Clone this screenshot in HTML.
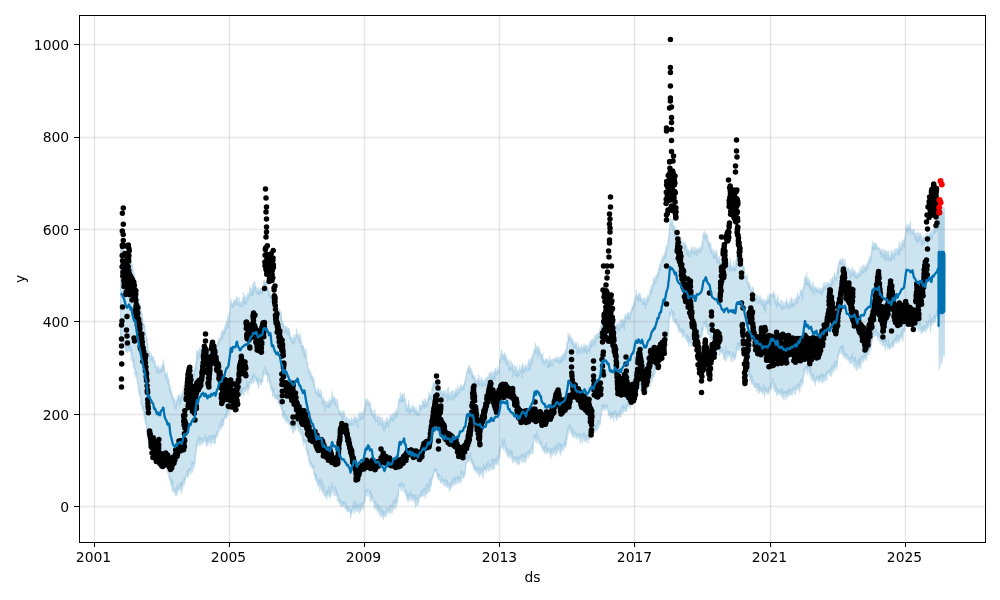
<!DOCTYPE html>
<html><head><meta charset="utf-8"><title>forecast</title>
<style>html,body{margin:0;padding:0;background:#fff}svg{display:block}text{font-family:"DejaVu Sans","Liberation Sans",sans-serif;font-size:13.9px;fill:#000}</style>
</head><body>
<svg width="1000" height="600" viewBox="0 0 1000 600">
<rect width="1000" height="600" fill="#fff"/>
<path d="M120.5,245.7 120.7,245.8 120.9,254.0 121.1,247.4 121.3,248.8 121.5,255.4 121.7,245.6 121.9,246.0 122.1,249.6 122.3,255.0 122.5,248.4 122.7,255.9 122.9,251.0 123.1,255.0 123.3,248.1 123.5,257.1 123.7,257.6 123.9,256.2 124.1,263.1 124.3,255.8 124.5,259.6 124.7,260.7 124.9,258.8 125.1,259.0 125.3,254.7 125.5,260.3 125.7,260.5 125.9,257.8 126.1,262.4 126.3,260.5 126.5,265.2 126.7,262.3 126.9,263.5 127.1,260.1 127.3,260.9 127.5,259.1 127.7,258.4 127.9,258.9 128.1,265.1 128.3,259.1 128.5,261.1 128.7,258.8 128.9,258.9 129.1,262.2 129.3,263.0 129.5,260.2 129.7,260.7 129.9,261.3 130.1,261.3 130.3,260.0 130.5,264.4 130.7,269.0 130.9,263.2 131.1,267.0 131.3,258.4 131.5,267.4 131.7,268.3 131.9,269.9 132.1,268.5 132.3,270.9 132.5,270.6 132.7,264.7 132.9,272.1 133.1,270.0 133.3,274.9 133.5,277.4 133.7,272.3 133.9,277.9 134.1,279.0 134.3,275.8 134.5,280.9 134.7,274.6 134.9,287.2 135.1,279.6 135.3,283.1 135.5,287.0 135.7,281.6 135.9,283.9 136.1,286.5 136.3,288.4 136.5,283.5 136.7,286.1 136.9,290.4 137.1,293.0 137.3,290.4 137.5,287.8 137.7,295.8 137.9,295.2 138.1,299.0 138.3,299.5 138.5,299.1 138.7,298.0 138.9,298.3 139.1,305.7 139.3,302.6 139.5,306.7 139.7,307.8 139.9,303.8 140.1,310.4 140.3,305.2 140.5,306.7 140.7,313.6 140.9,310.6 141.1,314.7 141.3,310.8 141.5,317.9 141.7,317.9 141.9,316.9 142.1,317.6 142.3,313.5 142.5,318.9 142.7,318.3 142.9,325.5 143.1,321.8 143.3,327.1 143.5,322.7 143.7,323.5 143.9,324.7 144.1,325.5 144.3,324.1 144.5,325.5 144.7,327.6 144.9,326.3 145.1,330.7 145.3,330.5 145.5,333.6 145.7,333.0 145.9,333.4 146.1,334.6 146.3,336.3 146.5,339.8 146.7,340.0 146.9,338.4 147.1,339.0 147.3,339.3 147.5,344.3 147.7,343.6 147.9,347.1 148.1,351.1 148.3,356.0 148.5,351.6 148.7,356.6 148.9,351.4 149.1,353.5 149.3,351.9 149.5,352.3 149.7,357.6 149.9,351.5 150.1,357.5 150.3,360.4 150.5,361.2 150.7,357.4 150.9,356.7 151.1,359.3 151.3,353.4 151.5,355.5 151.7,358.3 151.9,357.6 152.1,356.6 152.3,360.1 152.5,357.5 152.7,357.0 152.9,362.0 153.1,361.5 153.3,362.6 153.5,356.2 153.7,358.7 153.9,359.9 154.1,363.1 154.3,363.6 154.5,365.3 154.7,364.7 154.9,367.8 155.1,360.5 155.3,367.2 155.5,363.6 155.7,366.7 155.9,367.3 156.1,367.1 156.3,371.2 156.5,372.5 156.7,367.0 156.9,366.9 157.1,366.6 157.3,369.9 157.5,369.6 157.7,369.8 157.9,372.0 158.1,365.5 158.3,370.0 158.5,365.4 158.7,370.1 158.9,368.8 159.1,373.2 159.3,368.1 159.5,372.0 159.7,371.3 159.9,373.0 160.1,372.2 160.3,371.0 160.5,368.2 160.7,370.0 160.9,368.6 161.1,366.5 161.3,366.7 161.5,371.3 161.7,372.0 161.9,368.1 162.1,370.2 162.3,364.6 162.5,365.6 162.7,365.2 162.9,362.7 163.1,359.7 163.3,363.5 163.5,363.7 163.7,369.2 163.9,364.3 164.1,371.4 164.3,366.1 164.5,369.5 164.7,371.4 164.9,374.1 165.1,376.7 165.3,372.8 165.5,373.7 165.7,377.9 165.9,377.0 166.1,375.2 166.3,374.4 166.5,375.5 166.7,375.1 166.9,380.0 167.1,379.4 167.3,372.1 167.5,383.1 167.7,382.8 167.9,383.8 168.1,384.2 168.3,377.9 168.5,378.9 168.7,385.0 168.9,378.6 169.1,385.9 169.3,382.0 169.5,391.8 169.7,386.4 169.9,387.2 170.1,391.2 170.3,385.4 170.5,388.6 170.7,391.3 170.9,394.4 171.1,393.0 171.3,391.3 171.5,396.7 171.7,395.6 171.9,391.6 172.1,396.7 172.3,394.1 172.5,399.2 172.7,395.7 172.9,397.3 173.1,400.5 173.3,400.9 173.5,398.5 173.7,398.9 173.9,405.1 174.1,400.8 174.3,400.6 174.5,398.5 174.7,401.0 174.9,407.6 175.1,407.6 175.3,406.6 175.5,405.7 175.7,402.0 175.9,408.7 176.1,400.8 176.3,402.9 176.5,402.0 176.7,400.4 176.9,405.0 177.1,403.7 177.3,397.0 177.5,397.7 177.7,401.5 177.9,401.4 178.1,395.6 178.3,394.7 178.5,397.8 178.7,399.9 178.9,398.8 179.1,398.2 179.3,396.4 179.5,394.3 179.7,404.6 179.9,396.0 180.1,396.7 180.3,397.2 180.5,400.2 180.7,396.6 180.9,402.7 181.1,396.2 181.3,394.7 181.5,394.9 181.7,398.2 181.9,396.4 182.1,394.0 182.3,394.4 182.5,391.4 182.7,396.3 182.9,392.2 183.1,395.8 183.3,395.7 183.5,391.9 183.7,386.3 183.9,390.5 184.1,391.7 184.3,391.4 184.5,389.0 184.7,396.0 184.9,394.0 185.1,393.2 185.3,392.5 185.5,393.6 185.7,387.4 185.9,392.8 186.1,386.5 186.3,387.8 186.5,387.8 186.7,386.8 186.9,388.0 187.1,387.9 187.3,388.1 187.5,385.4 187.7,388.6 187.9,384.2 188.1,384.9 188.3,384.2 188.5,381.0 188.7,387.9 188.9,385.5 189.1,385.1 189.3,386.0 189.5,385.7 189.7,377.3 189.9,385.2 190.1,380.7 190.3,380.3 190.5,381.3 190.7,384.7 190.9,385.3 191.1,384.4 191.3,379.8 191.5,378.6 191.7,378.4 191.9,382.6 192.1,376.6 192.3,377.3 192.5,374.1 192.7,370.5 192.9,376.0 193.1,375.7 193.3,379.3 193.5,375.4 193.7,372.9 193.9,376.9 194.1,372.8 194.3,371.0 194.5,369.2 194.7,375.5 194.9,369.1 195.1,368.1 195.3,364.7 195.5,371.1 195.7,362.9 195.9,370.1 196.1,360.2 196.3,358.2 196.5,363.3 196.7,354.8 196.9,350.5 197.1,352.4 197.3,350.5 197.5,355.6 197.7,356.7 197.9,351.2 198.1,356.4 198.3,358.9 198.5,355.8 198.7,351.5 198.9,356.2 199.1,350.6 199.3,352.1 199.5,348.0 199.7,353.7 199.9,353.9 200.1,348.8 200.3,350.1 200.5,351.7 200.7,352.6 200.9,355.9 201.1,352.0 201.3,346.6 201.5,354.1 201.7,348.0 201.9,352.2 202.1,353.2 202.3,349.2 202.5,348.7 202.7,351.8 202.9,353.9 203.1,354.2 203.3,351.5 203.5,349.1 203.7,350.5 203.9,359.1 204.1,353.2 204.3,349.3 204.5,351.9 204.7,355.9 204.9,354.6 205.1,351.8 205.3,352.5 205.5,352.9 205.7,347.2 205.9,346.1 206.1,353.4 206.3,350.5 206.5,357.9 206.7,352.9 206.9,348.9 207.1,352.0 207.3,352.0 207.5,361.8 207.7,353.9 207.9,353.8 208.1,358.7 208.3,354.1 208.5,354.5 208.7,348.6 208.9,354.5 209.1,353.1 209.3,351.7 209.5,348.7 209.7,354.2 209.9,352.0 210.1,350.3 210.3,351.8 210.5,351.3 210.7,350.9 210.9,357.1 211.1,352.1 211.3,354.5 211.5,352.4 211.7,355.4 211.9,352.2 212.1,347.6 212.3,351.2 212.5,348.7 212.7,349.8 212.9,348.8 213.1,352.8 213.3,349.1 213.5,350.4 213.7,350.4 213.9,350.6 214.1,346.5 214.3,354.5 214.5,354.1 214.7,347.7 214.9,346.4 215.1,348.4 215.3,342.9 215.5,354.4 215.7,350.0 215.9,348.8 216.1,347.4 216.3,347.7 216.5,347.6 216.7,346.4 216.9,347.4 217.1,346.4 217.3,346.4 217.5,342.9 217.7,345.7 217.9,342.8 218.1,343.8 218.3,339.8 218.5,341.5 218.7,338.0 218.9,342.1 219.1,340.5 219.3,339.5 219.5,339.1 219.7,339.7 219.9,341.2 220.1,337.3 220.3,340.1 220.5,338.6 220.7,338.8 220.9,335.3 221.1,333.6 221.3,339.0 221.5,332.3 221.7,338.1 221.9,336.9 222.1,332.5 222.3,330.7 222.5,338.7 222.7,336.3 222.9,329.6 223.1,332.0 223.3,334.1 223.5,332.4 223.7,331.5 223.9,332.4 224.1,330.2 224.3,334.0 224.5,327.1 224.7,329.2 224.9,332.1 225.1,330.1 225.3,325.1 225.5,327.7 225.7,326.3 225.9,322.6 226.1,328.8 226.3,326.2 226.5,328.8 226.7,323.3 226.9,326.8 227.1,319.5 227.3,324.6 227.5,324.0 227.7,316.4 227.9,325.0 228.1,324.7 228.3,325.2 228.5,327.8 228.7,320.8 228.9,317.4 229.1,316.4 229.3,312.8 229.5,315.5 229.7,317.0 229.9,314.3 230.1,311.1 230.3,307.9 230.5,304.4 230.7,303.8 230.9,298.8 231.1,303.2 231.3,301.8 231.5,306.7 231.7,303.2 231.9,307.1 232.1,307.6 232.3,304.1 232.5,302.9 232.7,305.3 232.9,303.5 233.1,303.7 233.3,307.1 233.5,306.1 233.7,300.5 233.9,305.3 234.1,300.6 234.3,301.3 234.5,302.6 234.7,303.6 234.9,300.1 235.1,305.0 235.3,303.6 235.5,299.1 235.7,300.0 235.9,300.2 236.1,301.7 236.3,302.9 236.5,303.1 236.7,296.3 236.9,301.6 237.1,304.5 237.3,302.0 237.5,298.6 237.7,297.5 237.9,303.2 238.1,301.9 238.3,302.8 238.5,303.9 238.7,304.6 238.9,304.0 239.1,304.6 239.3,297.7 239.5,302.5 239.7,306.6 239.9,303.7 240.1,303.0 240.3,305.2 240.5,302.7 240.7,303.3 240.9,306.0 241.1,301.6 241.3,305.2 241.5,306.2 241.7,302.7 241.9,305.6 242.1,306.1 242.3,304.7 242.5,297.4 242.7,303.2 242.9,299.2 243.1,306.0 243.3,292.4 243.5,298.4 243.7,300.4 243.9,299.0 244.1,297.2 244.3,299.5 244.5,302.9 244.7,297.8 244.9,295.5 245.1,303.4 245.3,296.6 245.5,302.5 245.7,295.0 245.9,300.8 246.1,304.5 246.3,298.1 246.5,302.5 246.7,302.6 246.9,301.0 247.1,300.0 247.3,295.4 247.5,299.0 247.7,295.7 247.9,292.9 248.1,297.3 248.3,293.4 248.5,295.7 248.7,299.1 248.9,298.4 249.1,295.2 249.3,292.3 249.5,295.0 249.7,286.0 249.9,292.2 250.1,295.5 250.3,294.1 250.5,295.0 250.7,288.3 250.9,289.2 251.1,293.0 251.3,292.5 251.5,291.3 251.7,292.6 251.9,295.9 252.1,288.7 252.3,288.1 252.5,295.7 252.7,284.1 252.9,286.3 253.1,289.5 253.3,294.1 253.5,286.7 253.7,289.7 253.9,283.0 254.1,281.6 254.3,288.1 254.5,287.3 254.7,285.4 254.9,282.4 255.1,287.3 255.3,286.5 255.5,290.2 255.7,287.2 255.9,286.2 256.1,288.4 256.3,293.2 256.5,288.8 256.7,291.2 256.9,290.9 257.1,289.9 257.3,294.0 257.5,293.8 257.7,293.1 257.9,288.0 258.1,293.5 258.3,290.2 258.5,287.8 258.7,294.3 258.9,290.5 259.1,290.9 259.3,291.6 259.5,294.9 259.7,290.5 259.9,290.3 260.1,292.6 260.3,288.2 260.5,290.8 260.7,288.3 260.9,289.0 261.1,290.1 261.3,293.2 261.5,289.0 261.7,293.3 261.9,288.5 262.1,290.1 262.3,289.5 262.5,292.7 262.7,288.3 262.9,291.8 263.1,291.0 263.3,287.5 263.5,289.2 263.7,283.0 263.9,280.0 264.1,281.8 264.3,283.0 264.5,280.1 264.7,286.1 264.9,281.6 265.1,283.2 265.3,283.7 265.5,282.3 265.7,285.8 265.9,282.9 266.1,286.2 266.3,284.3 266.5,281.3 266.7,285.4 266.9,288.2 267.1,286.1 267.3,288.9 267.5,289.0 267.7,291.1 267.9,289.3 268.1,288.3 268.3,288.1 268.5,289.5 268.7,290.0 268.9,293.6 269.1,295.3 269.3,291.9 269.5,290.8 269.7,297.5 269.9,291.3 270.1,296.1 270.3,295.5 270.5,294.7 270.7,296.5 270.9,301.2 271.1,296.1 271.3,301.1 271.5,297.8 271.7,299.5 271.9,299.6 272.1,301.3 272.3,298.6 272.5,304.2 272.7,300.5 272.9,304.8 273.1,300.4 273.3,298.9 273.5,305.6 273.7,301.5 273.9,304.8 274.1,306.4 274.3,303.9 274.5,307.4 274.7,307.1 274.9,304.8 275.1,305.1 275.3,305.7 275.5,307.5 275.7,312.0 275.9,311.5 276.1,311.6 276.3,310.8 276.5,307.0 276.7,308.5 276.9,312.5 277.1,305.0 277.3,308.4 277.5,309.9 277.7,314.7 277.9,311.6 278.1,312.1 278.3,314.4 278.5,313.4 278.7,313.5 278.9,310.8 279.1,313.0 279.3,309.8 279.5,308.9 279.7,312.7 279.9,309.4 280.1,315.2 280.3,319.7 280.5,312.0 280.7,317.3 280.9,315.9 281.1,317.2 281.3,311.9 281.5,320.2 281.7,318.7 281.9,321.2 282.1,325.0 282.3,323.6 282.5,323.0 282.7,321.9 282.9,324.0 283.1,323.6 283.3,327.6 283.5,325.7 283.7,324.4 283.9,327.3 284.1,325.8 284.3,333.1 284.5,332.3 284.7,331.3 284.9,328.3 285.1,326.4 285.3,327.3 285.5,331.5 285.7,327.3 285.9,325.8 286.1,330.8 286.3,328.0 286.5,332.9 286.7,327.2 286.9,327.0 287.1,327.6 287.3,331.6 287.5,333.1 287.7,334.8 287.9,330.9 288.1,329.2 288.3,328.2 288.5,332.5 288.7,334.9 288.9,331.9 289.1,332.3 289.3,328.6 289.5,329.9 289.7,334.5 289.9,339.1 290.1,339.3 290.3,334.3 290.5,339.4 290.7,336.6 290.9,337.0 291.1,337.4 291.3,341.2 291.5,338.5 291.7,337.6 291.9,341.7 292.1,341.6 292.3,344.3 292.5,342.2 292.7,337.9 292.9,338.7 293.1,342.7 293.3,339.9 293.5,340.0 293.7,338.8 293.9,334.8 294.1,343.7 294.3,337.8 294.5,339.4 294.7,339.9 294.9,338.1 295.1,341.1 295.3,338.3 295.5,335.6 295.7,335.2 295.9,338.3 296.1,333.8 296.3,335.7 296.5,334.0 296.7,329.0 296.9,334.4 297.1,336.3 297.3,333.5 297.5,333.6 297.7,337.2 297.9,338.7 298.1,338.7 298.3,338.2 298.5,336.8 298.7,339.2 298.9,335.0 299.1,337.0 299.3,342.9 299.5,339.6 299.7,332.6 299.9,342.2 300.1,340.2 300.3,341.3 300.5,342.0 300.7,336.1 300.9,344.0 301.1,339.4 301.3,347.5 301.5,342.2 301.7,343.8 301.9,347.3 302.1,350.0 302.3,345.2 302.5,347.0 302.7,346.1 302.9,345.6 303.1,351.0 303.3,345.7 303.5,347.2 303.7,350.3 303.9,349.9 304.1,356.7 304.3,348.9 304.5,350.2 304.7,353.2 304.9,352.5 305.1,353.3 305.3,356.5 305.5,357.9 305.7,356.7 305.9,348.8 306.1,353.7 306.3,352.9 306.5,361.8 306.7,361.9 306.9,361.4 307.1,363.7 307.3,363.3 307.5,363.5 307.7,361.9 307.9,366.3 308.1,367.5 308.3,367.9 308.5,371.3 308.7,369.0 308.9,371.5 309.1,373.5 309.3,372.9 309.5,369.7 309.7,370.6 309.9,371.7 310.1,375.9 310.3,377.4 310.5,372.7 310.7,373.0 310.9,374.8 311.1,378.9 311.3,377.2 311.5,373.5 311.7,376.7 311.9,378.6 312.1,378.5 312.3,380.1 312.5,376.1 312.7,376.6 312.9,379.0 313.1,381.5 313.3,381.1 313.5,383.3 313.7,384.6 313.9,382.1 314.1,378.5 314.3,385.7 314.5,382.2 314.7,387.2 314.9,389.4 315.1,388.1 315.3,390.2 315.5,392.3 315.7,388.4 315.9,393.1 316.1,392.1 316.3,390.8 316.5,391.7 316.7,391.9 316.9,394.8 317.1,390.2 317.3,392.9 317.5,389.5 317.7,395.7 317.9,396.0 318.1,388.2 318.3,396.0 318.5,387.8 318.7,396.6 318.9,393.5 319.1,393.1 319.3,393.7 319.5,393.8 319.7,391.2 319.9,394.7 320.1,397.2 320.3,396.0 320.5,394.9 320.7,394.8 320.9,390.0 321.1,398.1 321.3,393.9 321.5,391.8 321.7,398.5 321.9,394.4 322.1,398.9 322.3,403.9 322.5,398.3 322.7,404.4 322.9,405.2 323.1,402.2 323.3,401.3 323.5,399.8 323.7,397.4 323.9,399.8 324.1,402.1 324.3,402.2 324.5,401.8 324.7,400.5 324.9,401.7 325.1,411.3 325.3,400.9 325.5,405.5 325.7,405.2 325.9,405.2 326.1,406.2 326.3,402.3 326.5,401.8 326.7,406.0 326.9,405.5 327.1,407.3 327.3,403.9 327.5,404.2 327.7,407.4 327.9,401.6 328.1,404.3 328.3,403.2 328.5,401.5 328.7,402.0 328.9,408.0 329.1,403.1 329.3,398.8 329.5,403.2 329.7,404.1 329.9,405.7 330.1,400.3 330.3,404.3 330.5,402.2 330.7,403.4 330.9,404.9 331.1,402.3 331.3,400.0 331.5,398.1 331.7,396.6 331.9,403.2 332.1,400.6 332.3,391.5 332.5,399.4 332.7,399.2 332.9,398.9 333.1,396.1 333.3,398.9 333.5,397.9 333.7,401.0 333.9,400.1 334.1,396.6 334.3,398.0 334.5,401.6 334.7,404.5 334.9,398.5 335.1,402.8 335.3,404.6 335.5,398.7 335.7,405.3 335.9,403.4 336.1,399.5 336.3,404.4 336.5,405.5 336.7,406.9 336.9,406.6 337.1,404.9 337.3,399.3 337.5,406.1 337.7,402.9 337.9,408.3 338.1,407.7 338.3,407.4 338.5,408.2 338.7,410.0 338.9,412.0 339.1,413.1 339.3,411.6 339.5,411.7 339.7,413.8 339.9,410.2 340.1,414.9 340.3,415.1 340.5,413.7 340.7,411.9 340.9,413.9 341.1,411.3 341.3,415.6 341.5,412.1 341.7,416.4 341.9,419.1 342.1,412.3 342.3,414.7 342.5,415.4 342.7,412.2 342.9,419.1 343.1,419.1 343.3,412.7 343.5,417.2 343.7,410.3 343.9,413.0 344.1,411.1 344.3,414.2 344.5,416.0 344.7,415.4 344.9,417.7 345.1,418.8 345.3,422.0 345.5,418.8 345.7,418.2 345.9,422.2 346.1,417.9 346.3,422.8 346.5,416.0 346.7,424.3 346.9,420.7 347.1,418.2 347.3,428.2 347.5,420.0 347.7,419.8 347.9,423.0 348.1,418.3 348.3,423.5 348.5,424.8 348.7,423.0 348.9,422.2 349.1,419.6 349.3,419.3 349.5,420.3 349.7,423.3 349.9,425.9 350.1,425.3 350.3,420.6 350.5,421.3 350.7,423.0 350.9,422.8 351.1,425.0 351.3,417.4 351.5,418.0 351.7,425.5 351.9,422.0 352.1,422.8 352.3,420.4 352.5,424.6 352.7,422.2 352.9,419.0 353.1,420.0 353.3,421.0 353.5,421.4 353.7,420.5 353.9,420.6 354.1,415.6 354.3,418.8 354.5,418.5 354.7,423.1 354.9,424.2 355.1,418.7 355.3,417.3 355.5,417.9 355.7,421.5 355.9,420.3 356.1,421.8 356.3,419.0 356.5,416.8 356.7,420.2 356.9,422.2 357.1,419.4 357.3,419.3 357.5,420.5 357.7,427.9 357.9,423.0 358.1,419.3 358.3,419.7 358.5,420.6 358.7,413.9 358.9,416.3 359.1,420.2 359.3,417.9 359.5,419.6 359.7,418.9 359.9,412.4 360.1,414.3 360.3,417.2 360.5,416.0 360.7,417.4 360.9,419.2 361.1,416.6 361.3,415.6 361.5,412.0 361.7,413.8 361.9,419.3 362.1,419.1 362.3,418.1 362.5,413.9 362.7,414.5 362.9,418.2 363.1,412.4 363.3,416.9 363.5,415.2 363.7,415.3 363.9,410.2 364.1,414.6 364.3,413.0 364.5,407.6 364.7,409.9 364.9,408.3 365.1,407.1 365.3,400.0 365.5,411.0 365.7,398.6 365.9,399.3 366.1,403.6 366.3,404.2 366.5,405.6 366.7,400.8 366.9,403.9 367.1,401.3 367.3,399.1 367.5,402.8 367.7,403.1 367.9,403.8 368.1,399.9 368.3,404.0 368.5,404.1 368.7,403.3 368.9,405.6 369.1,402.3 369.3,403.9 369.5,403.7 369.7,404.0 369.9,406.0 370.1,402.3 370.3,411.2 370.5,403.9 370.7,408.6 370.9,408.1 371.1,409.8 371.3,411.8 371.5,413.3 371.7,409.3 371.9,414.7 372.1,411.1 372.3,414.5 372.5,415.6 372.7,414.6 372.9,410.1 373.1,415.1 373.3,414.8 373.5,416.9 373.7,415.2 373.9,419.0 374.1,414.6 374.3,415.2 374.5,413.5 374.7,409.8 374.9,414.4 375.1,412.7 375.3,417.9 375.5,421.8 375.7,416.5 375.9,414.9 376.1,416.1 376.3,420.7 376.5,421.5 376.7,419.8 376.9,419.7 377.1,416.5 377.3,418.0 377.5,416.0 377.7,417.6 377.9,421.3 378.1,418.7 378.3,417.1 378.5,422.8 378.7,424.9 378.9,421.0 379.1,422.8 379.3,421.4 379.5,416.2 379.7,418.3 379.9,424.0 380.1,422.9 380.3,422.2 380.5,421.6 380.7,424.8 380.9,417.4 381.1,422.4 381.3,425.4 381.5,425.0 381.7,418.7 381.9,426.5 382.1,427.0 382.3,417.5 382.5,421.6 382.7,422.6 382.9,420.6 383.1,427.5 383.3,420.3 383.5,430.2 383.7,424.2 383.9,421.6 384.1,429.3 384.3,425.6 384.5,424.7 384.7,430.6 384.9,427.1 385.1,423.9 385.3,420.9 385.5,422.7 385.7,424.1 385.9,420.9 386.1,427.2 386.3,424.5 386.5,417.8 386.7,421.6 386.9,422.1 387.1,417.6 387.3,422.6 387.5,423.7 387.7,422.5 387.9,421.0 388.1,420.6 388.3,420.1 388.5,427.5 388.7,421.5 388.9,422.2 389.1,419.2 389.3,422.0 389.5,418.2 389.7,422.2 389.9,421.7 390.1,415.1 390.3,416.8 390.5,419.1 390.7,419.8 390.9,415.8 391.1,419.5 391.3,415.4 391.5,417.1 391.7,417.7 391.9,419.2 392.1,420.5 392.3,414.7 392.5,418.2 392.7,421.2 392.9,417.9 393.1,413.4 393.3,419.1 393.5,412.8 393.7,414.1 393.9,417.0 394.1,420.5 394.3,414.6 394.5,416.7 394.7,417.7 394.9,412.1 395.1,412.2 395.3,416.4 395.5,417.1 395.7,409.0 395.9,412.3 396.1,410.9 396.3,412.7 396.5,414.5 396.7,415.4 396.9,412.8 397.1,417.1 397.3,412.0 397.5,408.7 397.7,413.7 397.9,408.3 398.1,407.7 398.3,402.4 398.5,404.6 398.7,403.6 398.9,398.6 399.1,401.3 399.3,398.6 399.5,398.7 399.7,400.8 399.9,398.4 400.1,399.7 400.3,392.4 400.5,401.9 400.7,398.5 400.9,395.3 401.1,395.3 401.3,398.0 401.5,398.3 401.7,398.2 401.9,401.6 402.1,400.1 402.3,396.1 402.5,394.0 402.7,394.6 402.9,393.4 403.1,397.8 403.3,401.9 403.5,399.3 403.7,398.0 403.9,395.6 404.1,393.4 404.3,397.3 404.5,397.9 404.7,397.8 404.9,401.8 405.1,398.1 405.3,403.1 405.5,403.2 405.7,399.3 405.9,408.4 406.1,410.5 406.3,404.7 406.5,407.9 406.7,412.3 406.9,407.0 407.1,407.8 407.3,410.0 407.5,410.4 407.7,409.8 407.9,404.6 408.1,409.2 408.3,409.3 408.5,411.0 408.7,400.2 408.9,412.5 409.1,403.5 409.3,409.4 409.5,405.5 409.7,409.1 409.9,414.4 410.1,407.0 410.3,411.5 410.5,408.4 410.7,410.7 410.9,409.1 411.1,409.6 411.3,408.6 411.5,411.2 411.7,408.2 411.9,411.5 412.1,411.2 412.3,405.1 412.5,405.3 412.7,409.8 412.9,411.5 413.1,412.2 413.3,410.7 413.5,406.1 413.7,406.8 413.9,408.7 414.1,409.6 414.3,407.1 414.5,407.8 414.7,410.2 414.9,408.9 415.1,413.8 415.3,409.3 415.5,410.7 415.7,410.6 415.9,411.5 416.1,407.4 416.3,411.6 416.5,415.3 416.7,411.4 416.9,411.0 417.1,411.5 417.3,414.3 417.5,412.7 417.7,411.2 417.9,411.0 418.1,415.1 418.3,412.5 418.5,412.1 418.7,413.9 418.9,414.5 419.1,414.9 419.3,404.7 419.5,405.4 419.7,404.9 419.9,409.4 420.1,406.2 420.3,407.9 420.5,407.9 420.7,410.0 420.9,406.0 421.1,406.0 421.3,405.7 421.5,410.0 421.7,405.7 421.9,405.5 422.1,406.6 422.3,404.2 422.5,405.7 422.7,399.6 422.9,405.4 423.1,406.4 423.3,403.7 423.5,401.9 423.7,401.6 423.9,401.0 424.1,403.9 424.3,408.7 424.5,404.0 424.7,401.8 424.9,398.8 425.1,406.4 425.3,399.6 425.5,403.3 425.7,401.8 425.9,405.5 426.1,406.8 426.3,406.7 426.5,406.8 426.7,402.0 426.9,401.7 427.1,403.3 427.3,405.7 427.5,398.6 427.7,401.4 427.9,401.1 428.1,403.9 428.3,398.1 428.5,397.1 428.7,400.6 428.9,394.9 429.1,392.3 429.3,393.1 429.5,395.2 429.7,399.1 429.9,395.9 430.1,399.0 430.3,394.9 430.5,397.7 430.7,394.5 430.9,395.7 431.1,395.5 431.3,399.3 431.5,394.8 431.7,396.9 431.9,388.7 432.1,387.4 432.3,389.3 432.5,389.0 432.7,386.4 432.9,388.6 433.1,389.1 433.3,383.3 433.5,384.2 433.7,382.7 433.9,382.5 434.1,383.4 434.3,385.7 434.5,383.8 434.7,384.3 434.9,386.4 435.1,382.3 435.3,385.1 435.5,384.6 435.7,381.3 435.9,382.3 436.1,383.9 436.3,385.8 436.5,381.1 436.7,383.2 436.9,388.3 437.1,388.0 437.3,381.0 437.5,387.4 437.7,384.8 437.9,384.1 438.1,386.0 438.3,385.9 438.5,387.2 438.7,388.2 438.9,386.1 439.1,386.7 439.3,389.7 439.5,387.0 439.7,390.3 439.9,389.5 440.1,386.9 440.3,392.3 440.5,389.6 440.7,391.7 440.9,392.2 441.1,389.6 441.3,394.8 441.5,393.5 441.7,391.7 441.9,396.7 442.1,392.9 442.3,395.2 442.5,392.4 442.7,393.6 442.9,394.3 443.1,395.2 443.3,392.5 443.5,390.5 443.7,394.0 443.9,392.1 444.1,396.1 444.3,393.3 444.5,391.4 444.7,396.4 444.9,393.2 445.1,393.9 445.3,390.6 445.5,396.7 445.7,398.0 445.9,395.6 446.1,395.5 446.3,394.7 446.5,395.2 446.7,394.5 446.9,393.1 447.1,396.2 447.3,389.1 447.5,391.4 447.7,401.4 447.9,395.3 448.1,388.5 448.3,386.8 448.5,393.9 448.7,396.3 448.9,398.4 449.1,396.6 449.3,394.4 449.5,393.5 449.7,398.4 449.9,398.6 450.1,399.6 450.3,395.7 450.5,391.8 450.7,396.9 450.9,400.4 451.1,396.2 451.3,391.7 451.5,395.8 451.7,395.1 451.9,392.3 452.1,390.0 452.3,391.8 452.5,396.6 452.7,397.0 452.9,399.9 453.1,394.5 453.3,393.5 453.5,399.2 453.7,390.9 453.9,396.5 454.1,391.7 454.3,394.9 454.5,391.3 454.7,395.0 454.9,394.8 455.1,398.1 455.3,391.3 455.5,392.0 455.7,392.8 455.9,388.4 456.1,396.3 456.3,390.1 456.5,389.8 456.7,395.0 456.9,390.0 457.1,390.7 457.3,396.2 457.5,391.8 457.7,393.2 457.9,385.5 458.1,392.7 458.3,390.8 458.5,388.5 458.7,392.1 458.9,391.1 459.1,392.0 459.3,388.1 459.5,393.5 459.7,393.5 459.9,387.5 460.1,388.3 460.3,389.1 460.5,388.6 460.7,384.3 460.9,389.3 461.1,386.1 461.3,386.2 461.5,389.4 461.7,387.0 461.9,389.0 462.1,390.3 462.3,385.3 462.5,389.9 462.7,385.9 462.9,386.2 463.1,387.6 463.3,387.4 463.5,384.8 463.7,385.4 463.9,389.4 464.1,385.8 464.3,382.4 464.5,382.6 464.7,381.4 464.9,384.3 465.1,383.6 465.3,378.8 465.5,380.1 465.7,378.8 465.9,376.0 466.1,379.5 466.3,376.5 466.5,372.7 466.7,371.9 466.9,372.3 467.1,372.5 467.3,370.8 467.5,370.9 467.7,369.5 467.9,367.6 468.1,370.6 468.3,368.4 468.5,368.2 468.7,369.4 468.9,365.4 469.1,373.9 469.3,370.1 469.5,367.1 469.7,365.4 469.9,370.5 470.1,368.7 470.3,370.9 470.5,370.6 470.7,368.5 470.9,370.6 471.1,368.6 471.3,374.4 471.5,372.2 471.7,370.6 471.9,377.7 472.1,371.6 472.3,376.2 472.5,372.0 472.7,374.4 472.9,375.9 473.1,378.7 473.3,374.9 473.5,376.6 473.7,376.8 473.9,377.6 474.1,377.0 474.3,384.8 474.5,378.3 474.7,375.7 474.9,379.3 475.1,385.4 475.3,381.7 475.5,378.1 475.7,383.9 475.9,380.3 476.1,382.4 476.3,385.9 476.5,382.4 476.7,380.5 476.9,381.3 477.1,382.3 477.3,381.5 477.5,382.9 477.7,378.7 477.9,382.4 478.1,382.4 478.3,380.8 478.5,385.7 478.7,374.6 478.9,379.5 479.1,377.2 479.3,381.3 479.5,383.9 479.7,385.4 479.9,380.6 480.1,381.6 480.3,383.3 480.5,383.3 480.7,384.0 480.9,381.0 481.1,377.7 481.3,384.4 481.5,386.7 481.7,377.7 481.9,384.6 482.1,385.3 482.3,382.2 482.5,380.7 482.7,381.6 482.9,383.5 483.1,379.5 483.3,386.2 483.5,383.0 483.7,385.7 483.9,382.3 484.1,383.7 484.3,381.2 484.5,383.1 484.7,379.8 484.9,382.9 485.1,384.5 485.3,382.4 485.5,385.3 485.7,379.1 485.9,385.8 486.1,377.5 486.3,377.6 486.5,381.0 486.7,380.2 486.9,379.4 487.1,378.8 487.3,379.4 487.5,379.5 487.7,378.3 487.9,375.5 488.1,380.1 488.3,376.4 488.5,380.2 488.7,381.2 488.9,375.5 489.1,376.3 489.3,373.0 489.5,374.2 489.7,372.3 489.9,376.1 490.1,375.3 490.3,380.9 490.5,381.0 490.7,380.2 490.9,372.6 491.1,375.4 491.3,371.4 491.5,376.9 491.7,376.9 491.9,376.7 492.1,382.2 492.3,373.4 492.5,374.2 492.7,376.3 492.9,373.5 493.1,376.8 493.3,371.3 493.5,379.5 493.7,378.6 493.9,375.5 494.1,377.8 494.3,375.2 494.5,370.8 494.7,374.8 494.9,368.8 495.1,379.9 495.3,368.1 495.5,372.9 495.7,370.8 495.9,370.8 496.1,373.7 496.3,370.7 496.5,372.1 496.7,375.4 496.9,371.8 497.1,372.6 497.3,370.4 497.5,367.2 497.7,372.6 497.9,370.4 498.1,370.0 498.3,369.9 498.5,371.2 498.7,372.8 498.9,370.7 499.1,369.8 499.3,369.1 499.5,359.9 499.7,362.2 499.9,363.3 500.1,363.3 500.3,358.8 500.5,360.1 500.7,359.3 500.9,355.1 501.1,357.5 501.3,349.6 501.5,349.9 501.7,354.6 501.9,355.2 502.1,357.0 502.3,354.4 502.5,354.5 502.7,354.3 502.9,355.6 503.1,359.7 503.3,356.4 503.5,359.3 503.7,354.4 503.9,359.2 504.1,354.8 504.3,353.1 504.5,356.3 504.7,358.5 504.9,359.8 505.1,353.8 505.3,354.2 505.5,355.6 505.7,359.2 505.9,363.0 506.1,361.9 506.3,356.9 506.5,356.8 506.7,359.0 506.9,364.9 507.1,359.5 507.3,359.6 507.5,363.3 507.7,361.5 507.9,359.9 508.1,362.0 508.3,361.8 508.5,366.7 508.7,366.5 508.9,369.4 509.1,366.3 509.3,367.3 509.5,365.1 509.7,371.2 509.9,360.1 510.1,371.3 510.3,364.7 510.5,366.4 510.7,365.8 510.9,370.1 511.1,361.0 511.3,368.2 511.5,367.9 511.7,366.7 511.9,369.1 512.1,369.6 512.3,364.9 512.5,363.5 512.7,366.0 512.9,368.6 513.1,377.4 513.3,368.4 513.5,369.7 513.7,366.5 513.9,372.4 514.1,369.1 514.3,365.1 514.5,367.0 514.7,372.5 514.9,368.5 515.1,375.1 515.3,373.2 515.5,371.4 515.7,367.4 515.9,375.5 516.1,371.5 516.3,375.7 516.5,367.6 516.7,367.2 516.9,365.5 517.1,377.4 517.3,369.8 517.5,370.1 517.7,375.7 517.9,373.1 518.1,376.0 518.3,369.9 518.5,371.3 518.7,374.4 518.9,369.2 519.1,372.2 519.3,375.1 519.5,373.6 519.7,365.5 519.9,368.1 520.1,371.5 520.3,370.5 520.5,369.9 520.7,372.0 520.9,369.5 521.1,369.2 521.3,372.1 521.5,369.0 521.7,368.0 521.9,364.9 522.1,377.9 522.3,365.8 522.5,370.5 522.7,363.6 522.9,363.4 523.1,367.4 523.3,368.7 523.5,368.2 523.7,371.9 523.9,368.4 524.1,366.8 524.3,368.5 524.5,371.4 524.7,372.8 524.9,368.8 525.1,365.3 525.3,367.3 525.5,364.7 525.7,368.7 525.9,368.6 526.1,369.1 526.3,366.8 526.5,370.1 526.7,367.6 526.9,368.5 527.1,369.7 527.3,370.9 527.5,363.9 527.7,367.7 527.9,370.5 528.1,366.8 528.3,365.1 528.5,360.0 528.7,370.6 528.9,366.6 529.1,361.5 529.3,364.6 529.5,360.5 529.7,363.1 529.9,358.8 530.1,361.5 530.3,364.4 530.5,369.5 530.7,364.1 530.9,364.1 531.1,358.9 531.3,362.6 531.5,362.0 531.7,357.7 531.9,363.6 532.1,355.1 532.3,356.8 532.5,361.3 532.7,356.0 532.9,355.2 533.1,356.7 533.3,355.8 533.5,352.7 533.7,352.0 533.9,354.5 534.1,348.9 534.3,354.4 534.5,349.3 534.7,351.1 534.9,350.6 535.1,348.0 535.3,343.3 535.5,344.2 535.7,350.3 535.9,350.7 536.1,353.6 536.3,348.0 536.5,346.3 536.7,351.4 536.9,348.4 537.1,352.5 537.3,352.3 537.5,348.7 537.7,346.3 537.9,357.2 538.1,353.0 538.3,348.8 538.5,349.7 538.7,347.0 538.9,351.1 539.1,352.4 539.3,347.9 539.5,354.2 539.7,349.9 539.9,350.5 540.1,354.8 540.3,352.6 540.5,354.9 540.7,356.2 540.9,358.3 541.1,354.3 541.3,356.7 541.5,354.4 541.7,354.1 541.9,360.8 542.1,358.3 542.3,360.3 542.5,361.8 542.7,356.8 542.9,352.8 543.1,359.6 543.3,359.0 543.5,363.7 543.7,359.0 543.9,362.2 544.1,363.3 544.3,363.2 544.5,364.2 544.7,360.6 544.9,361.1 545.1,359.7 545.3,360.0 545.5,360.9 545.7,361.8 545.9,362.1 546.1,362.1 546.3,358.5 546.5,360.8 546.7,361.0 546.9,358.6 547.1,360.6 547.3,365.2 547.5,368.2 547.7,364.8 547.9,360.5 548.1,360.8 548.3,363.2 548.5,367.0 548.7,361.1 548.9,361.2 549.1,361.1 549.3,356.3 549.5,366.9 549.7,363.3 549.9,362.6 550.1,359.2 550.3,360.5 550.5,359.9 550.7,361.5 550.9,362.4 551.1,366.2 551.3,365.0 551.5,365.5 551.7,362.0 551.9,359.3 552.1,363.0 552.3,358.7 552.5,364.4 552.7,365.9 552.9,364.2 553.1,365.6 553.3,365.0 553.5,362.7 553.7,359.1 553.9,359.2 554.1,359.7 554.3,360.7 554.5,358.4 554.7,360.2 554.9,358.9 555.1,361.5 555.3,361.6 555.5,360.9 555.7,358.2 555.9,360.1 556.1,359.5 556.3,356.4 556.5,361.4 556.7,359.2 556.9,357.7 557.1,360.4 557.3,361.0 557.5,358.2 557.7,357.7 557.9,360.3 558.1,359.9 558.3,363.5 558.5,356.9 558.7,360.9 558.9,359.5 559.1,361.4 559.3,357.6 559.5,359.7 559.7,358.7 559.9,363.2 560.1,357.3 560.3,356.8 560.5,360.1 560.7,358.1 560.9,360.6 561.1,362.3 561.3,357.1 561.5,358.9 561.7,362.6 561.9,355.6 562.1,356.2 562.3,360.4 562.5,357.2 562.7,354.1 562.9,355.1 563.1,355.7 563.3,360.7 563.5,354.8 563.7,357.9 563.9,357.8 564.1,352.8 564.3,355.1 564.5,353.2 564.7,352.0 564.9,355.5 565.1,352.7 565.3,349.5 565.5,358.8 565.7,352.8 565.9,352.3 566.1,351.2 566.3,352.7 566.5,350.3 566.7,341.8 566.9,350.9 567.1,347.6 567.3,346.8 567.5,342.0 567.7,343.7 567.9,341.8 568.1,332.9 568.3,342.0 568.5,338.3 568.7,339.1 568.9,336.2 569.1,335.9 569.3,337.1 569.5,339.7 569.7,334.9 569.9,334.3 570.1,339.6 570.3,337.1 570.5,336.4 570.7,339.2 570.9,342.3 571.1,343.2 571.3,338.2 571.5,338.5 571.7,339.9 571.9,344.3 572.1,340.9 572.3,340.5 572.5,340.4 572.7,343.9 572.9,338.9 573.1,341.0 573.3,346.2 573.5,348.5 573.7,343.3 573.9,343.1 574.1,346.9 574.3,344.6 574.5,344.6 574.7,344.4 574.9,343.6 575.1,344.7 575.3,342.6 575.5,348.0 575.7,345.2 575.9,343.4 576.1,345.4 576.3,342.5 576.5,343.4 576.7,345.8 576.9,352.8 577.1,347.3 577.3,347.5 577.5,354.6 577.7,347.7 577.9,349.0 578.1,349.5 578.3,353.6 578.5,343.3 578.7,346.7 578.9,349.2 579.1,350.0 579.3,350.4 579.5,349.0 579.7,347.0 579.9,349.2 580.1,346.9 580.3,352.5 580.5,350.9 580.7,348.6 580.9,352.4 581.1,347.8 581.3,353.2 581.5,344.5 581.7,349.0 581.9,347.1 582.1,348.7 582.3,350.3 582.5,347.2 582.7,349.1 582.9,347.2 583.1,348.5 583.3,350.7 583.5,345.1 583.7,352.7 583.9,348.1 584.1,347.2 584.3,345.9 584.5,346.9 584.7,346.9 584.9,351.1 585.1,343.8 585.3,349.9 585.5,345.6 585.7,350.4 585.9,346.6 586.1,346.1 586.3,349.3 586.5,353.6 586.7,348.7 586.9,345.3 587.1,347.9 587.3,349.3 587.5,352.0 587.7,346.8 587.9,345.3 588.1,350.5 588.3,350.8 588.5,346.7 588.7,348.9 588.9,346.5 589.1,348.8 589.3,348.2 589.5,343.9 589.7,341.3 589.9,352.3 590.1,346.1 590.3,345.9 590.5,343.4 590.7,345.4 590.9,344.4 591.1,340.8 591.3,341.9 591.5,347.3 591.7,342.9 591.9,339.0 592.1,347.1 592.3,343.3 592.5,342.5 592.7,342.3 592.9,340.1 593.1,341.0 593.3,338.4 593.5,341.3 593.7,341.4 593.9,340.5 594.1,339.4 594.3,342.5 594.5,344.9 594.7,335.0 594.9,338.3 595.1,345.8 595.3,336.8 595.5,335.2 595.7,340.8 595.9,340.3 596.1,341.0 596.3,336.7 596.5,334.8 596.7,338.1 596.9,338.4 597.1,333.6 597.3,337.5 597.5,334.1 597.7,338.1 597.9,337.7 598.1,334.8 598.3,336.6 598.5,333.1 598.7,337.8 598.9,333.0 599.1,333.6 599.3,333.0 599.5,334.3 599.7,328.7 599.9,336.4 600.1,338.6 600.3,336.8 600.5,329.9 600.7,327.1 600.9,326.9 601.1,324.3 601.3,327.7 601.5,321.8 601.7,324.5 601.9,317.6 602.1,315.6 602.3,317.4 602.5,320.5 602.7,318.9 602.9,313.3 603.1,317.3 603.3,314.7 603.5,322.8 603.7,317.7 603.9,316.8 604.1,311.7 604.3,316.1 604.5,317.0 604.7,318.4 604.9,315.8 605.1,319.8 605.3,319.3 605.5,318.6 605.7,317.2 605.9,318.5 606.1,315.8 606.3,318.9 606.5,318.1 606.7,319.1 606.9,319.0 607.1,322.2 607.3,315.6 607.5,321.3 607.7,319.7 607.9,321.0 608.1,320.2 608.3,320.3 608.5,320.9 608.7,322.7 608.9,327.9 609.1,322.2 609.3,326.7 609.5,320.2 609.7,322.7 609.9,326.6 610.1,330.8 610.3,331.8 610.5,325.3 610.7,324.3 610.9,329.8 611.1,327.4 611.3,331.0 611.5,327.4 611.7,325.4 611.9,322.7 612.1,330.3 612.3,329.4 612.5,324.5 612.7,328.6 612.9,329.5 613.1,324.5 613.3,325.3 613.5,325.1 613.7,323.8 613.9,329.2 614.1,331.2 614.3,329.6 614.5,327.6 614.7,326.4 614.9,331.3 615.1,328.0 615.3,327.2 615.5,325.4 615.7,328.0 615.9,328.6 616.1,327.1 616.3,324.6 616.5,325.6 616.7,328.6 616.9,327.0 617.1,323.6 617.3,325.4 617.5,325.8 617.7,323.6 617.9,331.4 618.1,325.9 618.3,327.7 618.5,325.6 618.7,328.9 618.9,322.5 619.1,325.2 619.3,327.6 619.5,330.5 619.7,328.4 619.9,328.8 620.1,325.9 620.3,319.6 620.5,326.0 620.7,323.7 620.9,325.4 621.1,319.5 621.3,321.0 621.5,327.7 621.7,321.0 621.9,325.4 622.1,324.8 622.3,321.0 622.5,320.1 622.7,326.6 622.9,319.3 623.1,322.0 623.3,324.6 623.5,322.2 623.7,319.0 623.9,322.1 624.1,318.5 624.3,329.4 624.5,316.0 624.7,319.2 624.9,321.7 625.1,322.5 625.3,322.8 625.5,313.8 625.7,314.8 625.9,319.8 626.1,319.1 626.3,315.9 626.5,316.4 626.7,316.5 626.9,319.7 627.1,317.4 627.3,318.1 627.5,312.6 627.7,314.6 627.9,318.5 628.1,316.0 628.3,314.6 628.5,315.2 628.7,313.1 628.9,312.6 629.1,318.6 629.3,316.0 629.5,317.4 629.7,319.8 629.9,314.2 630.1,316.7 630.3,312.4 630.5,315.6 630.7,312.6 630.9,310.5 631.1,311.9 631.3,309.6 631.5,314.0 631.7,313.4 631.9,310.7 632.1,306.3 632.3,308.1 632.5,306.5 632.7,306.1 632.9,306.1 633.1,309.8 633.3,307.7 633.5,306.8 633.7,303.3 633.9,306.0 634.1,306.0 634.3,300.8 634.5,301.8 634.7,307.0 634.9,303.5 635.1,298.0 635.3,296.9 635.5,300.3 635.7,298.8 635.9,299.0 636.1,289.7 636.3,298.7 636.5,293.3 636.7,296.9 636.9,295.2 637.1,297.5 637.3,294.9 637.5,299.5 637.7,294.5 637.9,298.1 638.1,297.3 638.3,296.7 638.5,301.4 638.7,296.6 638.9,296.5 639.1,292.6 639.3,298.4 639.5,299.1 639.7,294.4 639.9,293.9 640.1,294.2 640.3,296.5 640.5,300.4 640.7,298.7 640.9,296.2 641.1,301.2 641.3,298.4 641.5,300.3 641.7,299.2 641.9,299.8 642.1,301.5 642.3,301.0 642.5,304.2 642.7,303.9 642.9,302.6 643.1,298.2 643.3,298.7 643.5,303.8 643.7,301.7 643.9,300.5 644.1,297.6 644.3,303.7 644.5,301.4 644.7,302.0 644.9,301.3 645.1,304.9 645.3,299.9 645.5,308.3 645.7,299.5 645.9,304.3 646.1,302.7 646.3,297.6 646.5,303.3 646.7,304.3 646.9,296.9 647.1,302.3 647.3,302.5 647.5,298.9 647.7,297.5 647.9,296.0 648.1,294.9 648.3,302.2 648.5,299.5 648.7,297.7 648.9,299.1 649.1,297.2 649.3,295.4 649.5,297.1 649.7,290.2 649.9,294.3 650.1,290.0 650.3,293.9 650.5,291.7 650.7,293.2 650.9,288.9 651.1,285.3 651.3,293.5 651.5,288.5 651.7,291.9 651.9,285.9 652.1,290.7 652.3,285.8 652.5,290.0 652.7,283.7 652.9,284.2 653.1,284.3 653.3,278.0 653.5,282.9 653.7,285.6 653.9,281.0 654.1,284.7 654.3,283.2 654.5,279.0 654.7,282.7 654.9,279.2 655.1,276.3 655.3,281.2 655.5,282.8 655.7,278.1 655.9,281.7 656.1,282.4 656.3,276.1 656.5,275.2 656.7,277.2 656.9,277.2 657.1,275.0 657.3,276.3 657.5,273.0 657.7,272.4 657.9,277.4 658.1,269.2 658.3,274.4 658.5,272.5 658.7,274.3 658.9,274.1 659.1,269.9 659.3,270.3 659.5,268.0 659.7,266.1 659.9,263.8 660.1,270.3 660.3,267.5 660.5,267.0 660.7,263.3 660.9,265.6 661.1,265.9 661.3,259.8 661.5,262.8 661.7,263.2 661.9,262.2 662.1,261.5 662.3,261.4 662.5,256.4 662.7,259.0 662.9,255.7 663.1,258.5 663.3,257.2 663.5,259.6 663.7,256.4 663.9,258.3 664.1,259.1 664.3,255.9 664.5,254.6 664.7,253.5 664.9,255.7 665.1,253.1 665.3,250.7 665.5,258.5 665.7,253.9 665.9,250.2 666.1,245.3 666.3,255.0 666.5,249.3 666.7,250.6 666.9,248.7 667.1,246.9 667.3,248.2 667.5,244.2 667.7,245.2 667.9,246.2 668.1,240.0 668.3,242.0 668.5,236.5 668.7,240.4 668.9,233.5 669.1,237.2 669.3,234.1 669.5,228.0 669.7,226.8 669.9,219.5 670.1,224.7 670.3,216.5 670.5,224.8 670.7,225.2 670.9,224.2 671.1,221.5 671.3,223.8 671.5,219.9 671.7,225.4 671.9,224.6 672.1,226.9 672.3,219.5 672.5,221.3 672.7,226.9 672.9,219.7 673.1,230.2 673.3,227.5 673.5,226.3 673.7,229.1 673.9,229.3 674.1,227.2 674.3,225.7 674.5,236.1 674.7,226.9 674.9,226.2 675.1,230.5 675.3,235.2 675.5,237.4 675.7,231.9 675.9,240.2 676.1,235.2 676.3,233.3 676.5,234.5 676.7,237.7 676.9,231.4 677.1,235.7 677.3,238.1 677.5,237.9 677.7,241.3 677.9,237.5 678.1,240.7 678.3,236.6 678.5,232.6 678.7,241.3 678.9,247.7 679.1,244.5 679.3,241.9 679.5,243.9 679.7,237.0 679.9,242.5 680.1,241.3 680.3,243.2 680.5,241.3 680.7,238.1 680.9,237.0 681.1,239.3 681.3,244.7 681.5,245.6 681.7,243.0 681.9,243.2 682.1,246.8 682.3,247.3 682.5,243.9 682.7,243.3 682.9,245.8 683.1,241.2 683.3,246.5 683.5,247.7 683.7,247.0 683.9,246.2 684.1,245.4 684.3,243.5 684.5,243.0 684.7,250.1 684.9,244.9 685.1,242.6 685.3,246.0 685.5,245.0 685.7,244.5 685.9,246.2 686.1,245.8 686.3,249.7 686.5,253.1 686.7,246.8 686.9,247.3 687.1,249.9 687.3,254.6 687.5,249.8 687.7,250.4 687.9,255.2 688.1,251.6 688.3,250.3 688.5,249.5 688.7,253.0 688.9,256.3 689.1,255.7 689.3,257.1 689.5,251.2 689.7,256.6 689.9,256.9 690.1,250.7 690.3,257.0 690.5,251.1 690.7,249.5 690.9,251.7 691.1,251.4 691.3,251.8 691.5,249.2 691.7,246.6 691.9,252.9 692.1,247.9 692.3,253.4 692.5,250.2 692.7,248.2 692.9,249.9 693.1,252.9 693.3,250.1 693.5,250.5 693.7,254.5 693.9,251.8 694.1,251.3 694.3,253.3 694.5,246.8 694.7,253.2 694.9,253.7 695.1,251.2 695.3,252.8 695.5,250.1 695.7,253.7 695.9,247.5 696.1,252.9 696.3,248.7 696.5,250.9 696.7,256.0 696.9,249.4 697.1,248.7 697.3,252.1 697.5,249.4 697.7,251.1 697.9,250.4 698.1,252.8 698.3,251.9 698.5,248.2 698.7,250.3 698.9,249.6 699.1,251.1 699.3,247.9 699.5,248.7 699.7,250.8 699.9,248.9 700.1,250.4 700.3,246.8 700.5,252.9 700.7,247.8 700.9,250.1 701.1,248.6 701.3,246.2 701.5,249.2 701.7,248.5 701.9,248.5 702.1,242.2 702.3,243.1 702.5,249.0 702.7,244.7 702.9,239.0 703.1,233.1 703.3,237.6 703.5,233.7 703.7,233.7 703.9,236.3 704.1,236.3 704.3,232.3 704.5,231.2 704.7,237.6 704.9,240.1 705.1,237.5 705.3,237.4 705.5,235.4 705.7,233.6 705.9,234.5 706.1,233.4 706.3,234.5 706.5,235.1 706.7,237.9 706.9,236.2 707.1,235.4 707.3,235.9 707.5,239.4 707.7,236.5 707.9,244.1 708.1,240.9 708.3,242.0 708.5,243.2 708.7,246.7 708.9,241.5 709.1,242.1 709.3,242.6 709.5,246.1 709.7,244.5 709.9,246.0 710.1,244.6 710.3,249.8 710.5,242.7 710.7,246.8 710.9,244.2 711.1,251.2 711.3,248.9 711.5,253.4 711.7,248.7 711.9,250.9 712.1,252.8 712.3,253.8 712.5,253.2 712.7,253.9 712.9,249.7 713.1,250.2 713.3,258.4 713.5,254.7 713.7,251.9 713.9,255.3 714.1,254.9 714.3,256.3 714.5,254.8 714.7,250.2 714.9,256.7 715.1,258.7 715.3,252.8 715.5,254.3 715.7,256.5 715.9,254.4 716.1,251.3 716.3,252.7 716.5,255.4 716.7,252.4 716.9,250.4 717.1,263.1 717.3,256.9 717.5,258.8 717.7,255.9 717.9,259.5 718.1,262.5 718.3,260.2 718.5,262.2 718.7,258.5 718.9,258.6 719.1,264.2 719.3,257.4 719.5,259.1 719.7,256.4 719.9,265.1 720.1,261.6 720.3,263.1 720.5,263.6 720.7,267.0 720.9,264.0 721.1,262.5 721.3,262.5 721.5,260.6 721.7,261.5 721.9,261.5 722.1,263.2 722.3,263.2 722.5,262.0 722.7,267.3 722.9,263.3 723.1,268.4 723.3,268.1 723.5,263.7 723.7,265.0 723.9,267.2 724.1,268.5 724.3,263.7 724.5,269.7 724.7,262.5 724.9,264.4 725.1,268.6 725.3,261.1 725.5,268.4 725.7,264.3 725.9,266.2 726.1,258.0 726.3,258.2 726.5,264.7 726.7,266.6 726.9,262.2 727.1,258.9 727.3,269.6 727.5,264.0 727.7,266.9 727.9,266.0 728.1,261.7 728.3,264.7 728.5,263.8 728.7,265.6 728.9,264.1 729.1,265.8 729.3,270.1 729.5,260.9 729.7,271.8 729.9,263.8 730.1,258.5 730.3,265.8 730.5,268.0 730.7,261.8 730.9,268.6 731.1,270.4 731.3,265.9 731.5,270.1 731.7,268.8 731.9,265.5 732.1,269.2 732.3,267.6 732.5,267.8 732.7,271.5 732.9,268.0 733.1,268.0 733.3,267.5 733.5,266.0 733.7,261.4 733.9,268.1 734.1,267.3 734.3,268.2 734.5,270.1 734.7,266.5 734.9,269.1 735.1,266.9 735.3,268.1 735.5,270.5 735.7,260.6 735.9,268.9 736.1,263.1 736.3,265.9 736.5,262.4 736.7,257.2 736.9,258.0 737.1,260.3 737.3,252.7 737.5,260.8 737.7,256.5 737.9,254.5 738.1,257.7 738.3,260.4 738.5,260.5 738.7,254.8 738.9,258.7 739.1,259.1 739.3,257.1 739.5,258.2 739.7,262.0 739.9,259.5 740.1,261.4 740.3,261.9 740.5,257.5 740.7,260.6 740.9,261.4 741.1,256.8 741.3,259.5 741.5,262.5 741.7,258.7 741.9,261.0 742.1,261.2 742.3,263.4 742.5,264.0 742.7,261.3 742.9,257.1 743.1,270.6 743.3,265.5 743.5,267.0 743.7,269.1 743.9,266.1 744.1,267.8 744.3,268.8 744.5,268.8 744.7,277.8 744.9,276.0 745.1,275.6 745.3,277.0 745.5,276.2 745.7,275.7 745.9,277.4 746.1,279.9 746.3,276.0 746.5,279.7 746.7,279.6 746.9,283.3 747.1,281.9 747.3,274.8 747.5,283.1 747.7,283.7 747.9,283.1 748.1,282.5 748.3,285.0 748.5,283.2 748.7,288.1 748.9,284.5 749.1,286.2 749.3,282.6 749.5,285.2 749.7,285.4 749.9,287.5 750.1,285.2 750.3,289.6 750.5,288.3 750.7,293.2 750.9,289.0 751.1,290.9 751.3,291.8 751.5,290.9 751.7,289.0 751.9,294.3 752.1,287.1 752.3,292.7 752.5,291.1 752.7,291.2 752.9,286.8 753.1,289.6 753.3,289.2 753.5,293.5 753.7,298.7 753.9,295.2 754.1,295.2 754.3,295.2 754.5,294.9 754.7,295.4 754.9,295.9 755.1,296.0 755.3,295.0 755.5,295.0 755.7,301.8 755.9,296.7 756.1,299.1 756.3,299.7 756.5,298.9 756.7,298.8 756.9,294.4 757.1,299.9 757.3,295.3 757.5,295.9 757.7,298.0 757.9,304.0 758.1,303.0 758.3,303.4 758.5,300.7 758.7,301.3 758.9,302.0 759.1,295.4 759.3,300.1 759.5,299.6 759.7,299.8 759.9,301.4 760.1,302.5 760.3,298.7 760.5,296.0 760.7,301.3 760.9,299.8 761.1,301.5 761.3,303.7 761.5,304.6 761.7,303.3 761.9,299.0 762.1,303.0 762.3,298.6 762.5,306.1 762.7,302.3 762.9,299.7 763.1,304.8 763.3,299.3 763.5,306.7 763.7,302.9 763.9,301.8 764.1,309.6 764.3,302.8 764.5,300.2 764.7,303.4 764.9,303.7 765.1,300.1 765.3,301.7 765.5,312.7 765.7,303.3 765.9,301.0 766.1,305.2 766.3,302.0 766.5,299.0 766.7,301.8 766.9,301.1 767.1,303.4 767.3,300.1 767.5,299.2 767.7,302.1 767.9,295.0 768.1,301.1 768.3,299.6 768.5,296.6 768.7,302.7 768.9,301.9 769.1,299.0 769.3,303.7 769.5,294.1 769.7,297.4 769.9,300.2 770.1,305.1 770.3,294.4 770.5,301.3 770.7,293.9 770.9,294.8 771.1,294.0 771.3,296.4 771.5,294.3 771.7,295.8 771.9,295.4 772.1,296.5 772.3,294.7 772.5,293.9 772.7,295.3 772.9,294.3 773.1,295.7 773.3,293.7 773.5,293.5 773.7,297.7 773.9,290.6 774.1,297.7 774.3,295.2 774.5,296.5 774.7,297.0 774.9,293.9 775.1,302.1 775.3,304.3 775.5,300.7 775.7,302.3 775.9,298.1 776.1,299.6 776.3,300.6 776.5,299.5 776.7,307.2 776.9,302.7 777.1,299.6 777.3,301.8 777.5,303.3 777.7,295.2 777.9,304.7 778.1,304.9 778.3,298.0 778.5,303.7 778.7,303.4 778.9,302.3 779.1,303.3 779.3,305.2 779.5,305.0 779.7,304.9 779.9,306.3 780.1,306.5 780.3,304.0 780.5,300.9 780.7,307.2 780.9,302.1 781.1,306.4 781.3,305.5 781.5,306.6 781.7,300.0 781.9,310.1 782.1,308.2 782.3,305.2 782.5,308.6 782.7,306.5 782.9,307.7 783.1,301.4 783.3,305.7 783.5,307.5 783.7,305.0 783.9,309.2 784.1,308.4 784.3,305.5 784.5,302.9 784.7,306.3 784.9,307.4 785.1,305.3 785.3,307.5 785.5,306.8 785.7,301.4 785.9,303.9 786.1,300.7 786.3,303.5 786.5,298.4 786.7,304.2 786.9,303.2 787.1,301.0 787.3,308.3 787.5,303.6 787.7,306.2 787.9,303.3 788.1,304.6 788.3,302.8 788.5,304.9 788.7,303.2 788.9,307.5 789.1,306.2 789.3,307.7 789.5,309.5 789.7,303.1 789.9,300.2 790.1,305.3 790.3,304.8 790.5,302.6 790.7,304.0 790.9,307.2 791.1,297.8 791.3,297.5 791.5,299.9 791.7,302.4 791.9,305.7 792.1,305.3 792.3,303.8 792.5,299.4 792.7,306.5 792.9,302.8 793.1,301.0 793.3,300.2 793.5,304.8 793.7,303.7 793.9,303.0 794.1,304.3 794.3,303.6 794.5,306.1 794.7,298.2 794.9,303.6 795.1,301.8 795.3,304.0 795.5,300.4 795.7,303.5 795.9,303.7 796.1,300.8 796.3,298.2 796.5,298.7 796.7,298.5 796.9,296.9 797.1,302.7 797.3,303.5 797.5,292.4 797.7,297.2 797.9,297.6 798.1,301.2 798.3,300.3 798.5,295.7 798.7,296.6 798.9,296.6 799.1,296.5 799.3,298.4 799.5,296.0 799.7,295.3 799.9,295.6 800.1,295.4 800.3,290.0 800.5,295.2 800.7,293.7 800.9,290.4 801.1,292.3 801.3,293.2 801.5,291.4 801.7,290.0 801.9,291.8 802.1,289.7 802.3,294.4 802.5,300.2 802.7,294.5 802.9,293.7 803.1,289.2 803.3,287.0 803.5,287.9 803.7,288.6 803.9,286.0 804.1,284.5 804.3,282.8 804.5,285.3 804.7,277.9 804.9,280.9 805.1,276.8 805.3,276.3 805.5,279.3 805.7,278.3 805.9,284.9 806.1,281.7 806.3,278.4 806.5,279.0 806.7,272.9 806.9,280.0 807.1,278.8 807.3,284.8 807.5,280.5 807.7,283.6 807.9,277.8 808.1,277.6 808.3,284.5 808.5,280.8 808.7,282.1 808.9,281.2 809.1,287.3 809.3,280.6 809.5,284.8 809.7,282.8 809.9,279.7 810.1,286.7 810.3,289.6 810.5,286.7 810.7,284.7 810.9,288.0 811.1,283.3 811.3,287.4 811.5,284.1 811.7,287.1 811.9,287.8 812.1,289.3 812.3,293.1 812.5,285.8 812.7,289.7 812.9,285.9 813.1,281.5 813.3,287.7 813.5,287.0 813.7,290.6 813.9,289.8 814.1,295.0 814.3,292.9 814.5,293.3 814.7,291.0 814.9,285.9 815.1,287.4 815.3,287.4 815.5,288.8 815.7,290.7 815.9,287.8 816.1,290.1 816.3,289.1 816.5,292.3 816.7,288.2 816.9,288.2 817.1,289.1 817.3,289.9 817.5,287.2 817.7,289.8 817.9,289.5 818.1,291.8 818.3,291.4 818.5,289.4 818.7,292.4 818.9,290.8 819.1,293.3 819.3,289.1 819.5,292.4 819.7,287.6 819.9,289.4 820.1,293.1 820.3,293.2 820.5,289.9 820.7,291.3 820.9,288.5 821.1,288.1 821.3,290.3 821.5,288.6 821.7,296.3 821.9,294.0 822.1,289.6 822.3,294.2 822.5,291.6 822.7,286.7 822.9,287.3 823.1,286.5 823.3,292.3 823.5,283.3 823.7,287.1 823.9,287.0 824.1,288.7 824.3,285.3 824.5,290.1 824.7,282.3 824.9,287.6 825.1,285.3 825.3,287.2 825.5,287.7 825.7,285.6 825.9,288.6 826.1,288.6 826.3,283.3 826.5,285.0 826.7,288.3 826.9,284.2 827.1,287.7 827.3,286.6 827.5,282.3 827.7,285.1 827.9,284.5 828.1,284.1 828.3,286.0 828.5,282.1 828.7,288.0 828.9,283.4 829.1,286.7 829.3,284.1 829.5,285.0 829.7,283.8 829.9,286.3 830.1,283.7 830.3,284.6 830.5,279.4 830.7,284.5 830.9,281.0 831.1,285.9 831.3,282.0 831.5,281.1 831.7,287.8 831.9,278.5 832.1,278.7 832.3,281.7 832.5,276.7 832.7,278.4 832.9,280.6 833.1,282.9 833.3,283.9 833.5,284.2 833.7,279.5 833.9,279.2 834.1,275.8 834.3,272.5 834.5,275.1 834.7,275.6 834.9,277.6 835.1,275.7 835.3,277.9 835.5,276.6 835.7,279.9 835.9,280.8 836.1,278.4 836.3,277.4 836.5,277.2 836.7,274.2 836.9,274.7 837.1,272.0 837.3,270.1 837.5,271.4 837.7,268.8 837.9,266.4 838.1,273.5 838.3,264.4 838.5,265.5 838.7,264.0 838.9,264.4 839.1,260.5 839.3,260.8 839.5,262.2 839.7,263.5 839.9,261.4 840.1,263.5 840.3,260.4 840.5,259.0 840.7,261.1 840.9,264.4 841.1,262.1 841.3,260.0 841.5,264.1 841.7,260.9 841.9,264.0 842.1,261.5 842.3,261.1 842.5,259.7 842.7,258.0 842.9,264.5 843.1,263.4 843.3,267.2 843.5,258.5 843.7,269.9 843.9,264.0 844.1,264.3 844.3,264.6 844.5,266.8 844.7,268.0 844.9,263.3 845.1,259.2 845.3,267.5 845.5,272.0 845.7,264.4 845.9,268.9 846.1,268.4 846.3,266.5 846.5,268.9 846.7,269.2 846.9,270.7 847.1,267.8 847.3,268.4 847.5,268.9 847.7,271.2 847.9,269.9 848.1,267.8 848.3,269.8 848.5,267.5 848.7,270.7 848.9,268.8 849.1,269.3 849.3,271.8 849.5,273.5 849.7,274.9 849.9,271.5 850.1,278.3 850.3,271.2 850.5,269.0 850.7,271.1 850.9,275.4 851.1,276.7 851.3,274.0 851.5,271.0 851.7,273.1 851.9,273.4 852.1,273.7 852.3,266.8 852.5,275.4 852.7,275.9 852.9,272.2 853.1,270.0 853.3,270.8 853.5,272.3 853.7,275.1 853.9,271.6 854.1,269.2 854.3,275.8 854.5,274.7 854.7,271.9 854.9,272.8 855.1,277.8 855.3,274.9 855.5,273.2 855.7,271.7 855.9,277.1 856.1,273.6 856.3,276.4 856.5,278.5 856.7,274.7 856.9,274.1 857.1,274.5 857.3,274.2 857.5,277.9 857.7,272.1 857.9,275.1 858.1,273.8 858.3,274.2 858.5,275.4 858.7,275.8 858.9,273.3 859.1,275.4 859.3,274.0 859.5,272.4 859.7,277.2 859.9,267.6 860.1,272.4 860.3,271.5 860.5,270.7 860.7,275.0 860.9,275.1 861.1,270.8 861.3,271.8 861.5,266.9 861.7,271.1 861.9,273.0 862.1,269.5 862.3,267.3 862.5,266.0 862.7,271.0 862.9,268.8 863.1,272.9 863.3,269.9 863.5,264.8 863.7,273.2 863.9,270.4 864.1,269.8 864.3,267.2 864.5,267.4 864.7,266.6 864.9,268.8 865.1,268.1 865.3,270.6 865.5,267.1 865.7,268.0 865.9,264.8 866.1,266.3 866.3,272.1 866.5,266.4 866.7,265.1 866.9,268.1 867.1,267.0 867.3,263.4 867.5,262.3 867.7,266.5 867.9,262.2 868.1,268.6 868.3,263.7 868.5,260.2 868.7,262.7 868.9,261.8 869.1,262.1 869.3,256.4 869.5,261.2 869.7,257.8 869.9,258.4 870.1,256.7 870.3,262.9 870.5,261.2 870.7,261.1 870.9,257.1 871.1,254.4 871.3,259.6 871.5,250.9 871.7,253.7 871.9,246.1 872.1,245.5 872.3,248.7 872.5,249.5 872.7,243.4 872.9,241.2 873.1,250.1 873.3,245.4 873.5,245.0 873.7,245.8 873.9,246.3 874.1,247.5 874.3,243.1 874.5,243.8 874.7,249.7 874.9,244.7 875.1,243.8 875.3,243.8 875.5,248.1 875.7,243.3 875.9,243.5 876.1,245.6 876.3,243.5 876.5,249.1 876.7,246.6 876.9,246.1 877.1,248.8 877.3,247.3 877.5,248.8 877.7,246.8 877.9,248.1 878.1,248.5 878.3,247.5 878.5,248.2 878.7,248.3 878.9,249.1 879.1,247.7 879.3,248.8 879.5,248.7 879.7,251.9 879.9,252.2 880.1,253.1 880.3,250.4 880.5,250.2 880.7,251.7 880.9,249.2 881.1,257.3 881.3,254.6 881.5,249.1 881.7,256.9 881.9,249.2 882.1,253.3 882.3,251.4 882.5,252.7 882.7,254.6 882.9,254.1 883.1,249.3 883.3,256.6 883.5,254.2 883.7,253.2 883.9,258.1 884.1,253.1 884.3,257.2 884.5,249.9 884.7,252.3 884.9,250.6 885.1,260.8 885.3,251.6 885.5,255.3 885.7,253.7 885.9,253.9 886.1,250.5 886.3,251.5 886.5,259.3 886.7,259.3 886.9,254.6 887.1,252.3 887.3,256.7 887.5,251.3 887.7,260.5 887.9,258.7 888.1,257.0 888.3,257.3 888.5,255.2 888.7,250.8 888.9,253.6 889.1,260.1 889.3,258.9 889.5,258.1 889.7,256.8 889.9,257.3 890.1,261.0 890.3,256.7 890.5,254.9 890.7,258.1 890.9,257.6 891.1,250.4 891.3,256.9 891.5,254.0 891.7,260.5 891.9,254.5 892.1,252.9 892.3,253.2 892.5,257.9 892.7,258.0 892.9,250.6 893.1,256.6 893.3,251.6 893.5,255.7 893.7,256.1 893.9,255.2 894.1,253.9 894.3,254.5 894.5,259.8 894.7,249.4 894.9,255.8 895.1,253.3 895.3,253.5 895.5,252.8 895.7,255.1 895.9,248.9 896.1,253.4 896.3,253.7 896.5,254.4 896.7,249.9 896.9,248.5 897.1,251.7 897.3,250.4 897.5,252.6 897.7,252.8 897.9,254.7 898.1,249.2 898.3,249.8 898.5,247.6 898.7,253.0 898.9,247.6 899.1,241.5 899.3,251.2 899.5,255.0 899.7,244.9 899.9,249.6 900.1,243.3 900.3,251.0 900.5,246.3 900.7,249.3 900.9,248.7 901.1,249.5 901.3,248.6 901.5,249.9 901.7,246.6 901.9,242.1 902.1,250.1 902.3,242.8 902.5,244.8 902.7,242.8 902.9,240.0 903.1,241.3 903.3,245.6 903.5,240.3 903.7,243.8 903.9,242.8 904.1,239.4 904.3,248.0 904.5,238.5 904.7,243.1 904.9,236.4 905.1,237.0 905.3,235.9 905.5,234.8 905.7,231.2 905.9,226.9 906.1,230.6 906.3,225.1 906.5,229.4 906.7,231.7 906.9,226.6 907.1,224.4 907.3,227.8 907.5,226.1 907.7,228.0 907.9,232.1 908.1,226.6 908.3,233.8 908.5,227.2 908.7,228.1 908.9,224.0 909.1,227.3 909.3,225.2 909.5,227.7 909.7,225.5 909.9,226.9 910.1,229.3 910.3,230.9 910.5,221.8 910.7,229.0 910.9,233.3 911.1,234.5 911.3,232.8 911.5,233.0 911.7,229.7 911.9,230.4 912.1,230.4 912.3,233.3 912.5,231.0 912.7,234.2 912.9,231.8 913.1,229.4 913.3,230.2 913.5,233.8 913.7,231.9 913.9,233.6 914.1,232.0 914.3,229.9 914.5,234.0 914.7,235.2 914.9,239.0 915.1,233.5 915.3,233.5 915.5,233.9 915.7,240.0 915.9,236.0 916.1,232.8 916.3,238.5 916.5,240.5 916.7,235.3 916.9,237.0 917.1,244.0 917.3,238.1 917.5,235.6 917.7,232.4 917.9,233.4 918.1,235.0 918.3,241.3 918.5,235.1 918.7,239.5 918.9,237.8 919.1,233.1 919.3,241.0 919.5,234.0 919.7,235.9 919.9,237.7 920.1,235.6 920.3,236.0 920.5,233.2 920.7,238.2 920.9,235.6 921.1,243.1 921.3,234.6 921.5,238.6 921.7,236.6 921.9,245.8 922.1,237.0 922.3,241.7 922.5,237.8 922.7,241.5 922.9,239.7 923.1,239.1 923.3,240.5 923.5,244.0 923.7,236.2 923.9,243.2 924.1,242.0 924.3,240.5 924.5,241.7 924.7,237.1 924.9,238.5 925.1,238.3 925.3,241.4 925.5,241.1 925.7,237.9 925.9,234.1 926.1,239.8 926.3,238.4 926.5,235.8 926.7,235.1 926.9,237.9 927.1,238.9 927.3,238.8 927.5,233.8 927.7,243.7 927.9,232.7 928.1,238.5 928.3,240.0 928.5,236.8 928.7,239.1 928.9,235.6 929.1,235.0 929.3,235.0 929.5,235.2 929.7,234.1 929.9,233.2 930.1,232.6 930.3,237.4 930.5,236.4 930.7,232.0 930.9,232.9 931.1,237.5 931.3,236.0 931.5,230.0 931.7,238.6 931.9,232.6 932.1,239.7 932.3,230.9 932.5,236.6 932.7,232.9 932.9,235.0 933.1,232.8 933.3,229.0 933.5,229.9 933.7,230.3 933.9,233.4 934.1,227.4 934.3,231.6 934.5,227.2 934.7,229.6 934.9,227.3 935.1,226.5 935.3,224.9 935.5,233.1 935.7,226.6 935.9,224.8 936.1,231.2 936.3,228.4 936.5,229.9 936.7,231.2 936.9,225.7 937.1,225.0 937.3,229.3 937.5,225.3 937.7,222.0 937.9,222.9 938.1,217.3 938.3,219.2 938.5,225.4 938.6,209.5 938.7,210.9 938.8,209.7 938.9,207.9 939.0,211.1 939.1,258.6 939.2,260.1 939.2,210.6 939.3,212.2 939.4,208.5 939.5,212.7 939.6,210.2 939.7,255.9 939.8,262.4 939.9,209.3 940.0,211.1 940.1,212.5 940.2,210.5 940.3,209.6 940.4,261.5 940.5,258.8 940.5,207.9 940.6,211.2 940.7,213.7 940.8,210.9 940.9,208.5 941.0,266.3 941.1,263.4 941.2,212.8 941.3,210.6 941.4,209.9 941.5,212.9 941.6,210.2 941.7,268.3 941.7,260.3 941.8,212.2 941.9,208.7 942.0,209.5 942.1,209.5 942.2,210.5 942.3,255.0 942.4,260.3 942.5,213.1 942.6,210.6 942.7,210.3 942.8,209.6 942.9,212.1 942.9,266.8 943.0,259.1 943.1,207.4 943.2,211.8 943.3,210.4 943.4,211.7 943.5,210.6 943.6,264.3 943.7,266.4 943.8,211.1 943.9,211.1 944.0,212.3 944.1,207.4 944.1,210.1 944.2,256.7 944.3,256.7 944.4,209.1 944.5,211.3 944.5,310.3 944.4,310.9 944.3,354.4 944.2,356.4 944.1,308.1 944.1,316.5 944.0,306.8 943.9,310.5 943.8,315.4 943.7,354.1 943.6,355.4 943.5,307.1 943.4,306.6 943.3,315.3 943.2,313.9 943.1,313.8 943.0,355.6 942.9,353.9 942.9,311.1 942.8,308.4 942.7,310.1 942.6,315.9 942.5,313.3 942.4,360.2 942.3,357.5 942.2,314.9 942.1,307.4 942.0,310.2 941.9,312.1 941.8,313.5 941.7,359.7 941.7,363.5 941.6,316.3 941.5,313.1 941.4,311.2 941.3,314.8 941.2,313.7 941.1,362.4 941.0,361.5 940.9,309.5 940.8,309.8 940.7,308.5 940.6,309.7 940.5,310.0 940.5,359.6 940.4,364.4 940.3,311.8 940.2,314.1 940.1,313.5 940.0,312.2 939.9,307.9 939.8,367.4 939.7,362.8 939.6,310.0 939.5,313.0 939.4,315.1 939.3,310.2 939.2,306.4 939.2,369.7 939.1,362.4 939.0,314.9 938.9,304.1 938.8,312.7 938.7,309.5 938.6,308.8 938.5,312.1 938.3,308.0 938.1,315.6 937.9,316.3 937.7,314.3 937.5,312.7 937.3,310.5 937.1,315.9 936.9,311.1 936.7,315.8 936.5,314.0 936.3,316.1 936.1,317.6 935.9,318.6 935.7,319.2 935.5,316.0 935.3,322.1 935.1,321.2 934.9,322.7 934.7,314.6 934.5,319.7 934.3,316.6 934.1,320.3 933.9,316.2 933.7,320.5 933.5,317.2 933.3,324.7 933.1,321.2 932.9,321.6 932.7,322.0 932.5,322.4 932.3,322.0 932.1,319.6 931.9,318.2 931.7,322.3 931.5,325.5 931.3,321.2 931.1,323.1 930.9,327.6 930.7,324.9 930.5,332.7 930.3,323.3 930.1,328.3 929.9,322.3 929.7,314.5 929.5,324.4 929.3,319.6 929.1,324.1 928.9,323.5 928.7,322.2 928.5,326.0 928.3,321.1 928.1,327.7 927.9,327.0 927.7,323.8 927.5,328.9 927.3,328.0 927.1,327.6 926.9,326.6 926.7,321.6 926.5,327.6 926.3,328.8 926.1,327.2 925.9,332.3 925.7,331.3 925.5,327.2 925.3,329.1 925.1,325.1 924.9,330.3 924.7,330.0 924.5,326.8 924.3,329.4 924.1,328.3 923.9,329.0 923.7,330.2 923.5,331.6 923.3,325.7 923.1,326.3 922.9,332.6 922.7,331.8 922.5,332.2 922.3,329.1 922.1,327.0 921.9,332.5 921.7,330.6 921.5,328.5 921.3,327.9 921.1,334.0 920.9,330.1 920.7,329.7 920.5,327.9 920.3,329.6 920.1,321.8 919.9,324.3 919.7,330.0 919.5,325.1 919.3,328.0 919.1,326.1 918.9,324.0 918.7,319.9 918.5,332.1 918.3,329.9 918.1,321.1 917.9,321.5 917.7,325.2 917.5,323.7 917.3,325.7 917.1,327.8 916.9,326.2 916.7,325.9 916.5,326.5 916.3,326.2 916.1,329.3 915.9,321.8 915.7,326.9 915.5,324.8 915.3,327.1 915.1,325.4 914.9,328.8 914.7,318.6 914.5,321.2 914.3,330.9 914.1,318.5 913.9,322.8 913.7,326.2 913.5,316.3 913.3,322.6 913.1,322.3 912.9,315.9 912.7,317.9 912.5,322.3 912.3,322.3 912.1,316.5 911.9,320.2 911.7,315.2 911.5,317.3 911.3,316.6 911.1,320.2 910.9,321.2 910.7,314.8 910.5,312.7 910.3,315.6 910.1,312.8 909.9,313.1 909.7,316.1 909.5,315.6 909.3,319.5 909.1,312.5 908.9,313.9 908.7,319.2 908.5,317.6 908.3,313.8 908.1,312.5 907.9,318.0 907.7,317.1 907.5,311.9 907.3,316.7 907.1,315.5 906.9,314.4 906.7,310.4 906.5,317.6 906.3,320.9 906.1,317.8 905.9,324.5 905.7,325.5 905.5,322.3 905.3,326.7 905.1,324.9 904.9,326.8 904.7,331.3 904.5,331.9 904.3,329.3 904.1,331.6 903.9,332.2 903.7,331.0 903.5,332.6 903.3,328.3 903.1,337.5 902.9,340.9 902.7,336.4 902.5,334.3 902.3,332.9 902.1,335.2 901.9,330.4 901.7,337.2 901.5,336.9 901.3,337.9 901.1,335.6 900.9,336.8 900.7,338.5 900.5,333.3 900.3,334.9 900.1,337.3 899.9,341.6 899.7,336.7 899.5,335.7 899.3,337.6 899.1,335.9 898.9,340.5 898.7,339.3 898.5,343.2 898.3,342.2 898.1,336.0 897.9,335.7 897.7,336.9 897.5,338.0 897.3,341.3 897.1,340.7 896.9,341.6 896.7,337.7 896.5,334.3 896.3,340.3 896.1,344.1 895.9,338.5 895.7,342.9 895.5,340.0 895.3,337.9 895.1,341.3 894.9,341.0 894.7,338.9 894.5,340.5 894.3,341.9 894.1,342.3 893.9,345.3 893.7,343.5 893.5,347.1 893.3,346.6 893.1,339.8 892.9,343.9 892.7,344.1 892.5,346.0 892.3,347.1 892.1,346.2 891.9,343.8 891.7,344.7 891.5,344.9 891.3,344.4 891.1,343.7 890.9,347.1 890.7,346.3 890.5,346.8 890.3,347.4 890.1,349.5 889.9,346.8 889.7,349.9 889.5,345.4 889.3,346.7 889.1,346.3 888.9,347.9 888.7,343.6 888.5,339.8 888.3,348.5 888.1,347.0 887.9,344.5 887.7,349.1 887.5,344.8 887.3,344.2 887.1,346.8 886.9,344.4 886.7,344.8 886.5,346.9 886.3,339.6 886.1,344.5 885.9,342.2 885.7,339.7 885.5,345.0 885.3,342.1 885.1,350.5 884.9,341.8 884.7,339.8 884.5,346.8 884.3,345.9 884.1,341.5 883.9,342.6 883.7,344.5 883.5,338.7 883.3,345.6 883.1,344.7 882.9,337.6 882.7,345.5 882.5,345.5 882.3,342.3 882.1,343.1 881.9,342.3 881.7,340.6 881.5,341.5 881.3,340.1 881.1,341.5 880.9,337.6 880.7,341.2 880.5,336.0 880.3,344.2 880.1,339.9 879.9,342.4 879.7,335.0 879.5,339.8 879.3,335.8 879.1,334.0 878.9,337.2 878.7,334.3 878.5,333.0 878.3,334.9 878.1,337.8 877.9,335.2 877.7,333.1 877.5,340.4 877.3,335.6 877.1,335.3 876.9,336.0 876.7,329.8 876.5,332.9 876.3,332.8 876.1,333.0 875.9,335.8 875.7,332.9 875.5,332.4 875.3,331.9 875.1,335.5 874.9,328.0 874.7,334.4 874.5,331.5 874.3,334.9 874.1,336.8 873.9,336.7 873.7,336.4 873.5,334.4 873.3,332.6 873.1,330.6 872.9,335.4 872.7,335.8 872.5,339.3 872.3,334.7 872.1,342.3 871.9,334.9 871.7,340.6 871.5,345.8 871.3,344.1 871.1,345.8 870.9,349.4 870.7,350.0 870.5,345.3 870.3,347.4 870.1,349.6 869.9,348.6 869.7,350.1 869.5,348.8 869.3,350.1 869.1,351.3 868.9,354.5 868.7,348.3 868.5,350.1 868.3,348.9 868.1,354.4 867.9,349.1 867.7,350.1 867.5,353.4 867.3,351.6 867.1,356.8 866.9,356.0 866.7,353.3 866.5,360.3 866.3,356.6 866.1,353.9 865.9,353.2 865.7,350.4 865.5,355.0 865.3,358.6 865.1,356.6 864.9,357.8 864.7,354.9 864.5,359.6 864.3,356.7 864.1,357.7 863.9,357.0 863.7,351.7 863.5,362.0 863.3,357.0 863.1,361.3 862.9,359.8 862.7,356.9 862.5,357.7 862.3,360.5 862.1,362.6 861.9,360.3 861.7,355.5 861.5,357.0 861.3,359.0 861.1,357.2 860.9,368.1 860.7,358.2 860.5,364.8 860.3,364.2 860.1,368.6 859.9,366.9 859.7,362.3 859.5,365.8 859.3,358.2 859.1,362.4 858.9,364.1 858.7,364.0 858.5,367.3 858.3,364.0 858.1,368.8 857.9,366.1 857.7,362.7 857.5,360.4 857.3,364.1 857.1,361.8 856.9,362.3 856.7,370.5 856.5,366.6 856.3,363.4 856.1,361.9 855.9,361.9 855.7,364.8 855.5,368.7 855.3,357.1 855.1,363.1 854.9,367.0 854.7,362.2 854.5,361.6 854.3,362.0 854.1,360.0 853.9,358.8 853.7,358.3 853.5,366.9 853.3,361.6 853.1,363.5 852.9,357.6 852.7,360.6 852.5,353.3 852.3,362.7 852.1,357.5 851.9,359.6 851.7,360.6 851.5,356.1 851.3,359.7 851.1,363.4 850.9,359.2 850.7,359.2 850.5,360.7 850.3,360.1 850.1,361.4 849.9,364.3 849.7,357.7 849.5,358.9 849.3,362.2 849.1,359.0 848.9,359.8 848.7,358.6 848.5,359.9 848.3,356.9 848.1,356.6 847.9,358.4 847.7,360.5 847.5,355.0 847.3,355.7 847.1,356.6 846.9,355.3 846.7,356.7 846.5,354.0 846.3,355.7 846.1,358.9 845.9,358.9 845.7,355.1 845.5,353.2 845.3,354.2 845.1,355.5 844.9,358.4 844.7,355.9 844.5,355.8 844.3,353.3 844.1,351.6 843.9,353.5 843.7,354.0 843.5,356.9 843.3,345.2 843.1,353.2 842.9,355.5 842.7,350.1 842.5,353.0 842.3,354.5 842.1,346.1 841.9,348.1 841.7,353.5 841.5,351.6 841.3,345.7 841.1,351.9 840.9,348.3 840.7,346.5 840.5,349.5 840.3,349.2 840.1,352.2 839.9,353.7 839.7,348.5 839.5,352.2 839.3,353.5 839.1,350.2 838.9,354.7 838.7,352.1 838.5,352.3 838.3,357.5 838.1,356.1 837.9,354.4 837.7,356.0 837.5,362.9 837.3,363.1 837.1,367.9 836.9,361.2 836.7,367.6 836.5,363.7 836.3,362.4 836.1,369.7 835.9,362.1 835.7,367.9 835.5,367.3 835.3,363.2 835.1,361.1 834.9,365.9 834.7,368.0 834.5,367.3 834.3,365.5 834.1,369.8 833.9,364.0 833.7,369.7 833.5,371.4 833.3,371.7 833.1,369.2 832.9,368.6 832.7,366.5 832.5,372.4 832.3,366.9 832.1,365.2 831.9,374.4 831.7,369.0 831.5,376.4 831.3,367.1 831.1,367.8 830.9,368.6 830.7,370.6 830.5,368.6 830.3,375.4 830.1,376.0 829.9,373.7 829.7,374.9 829.5,369.8 829.3,371.9 829.1,371.9 828.9,372.8 828.7,372.8 828.5,370.1 828.3,373.6 828.1,373.3 827.9,372.1 827.7,374.5 827.5,371.9 827.3,371.9 827.1,380.1 826.9,376.3 826.7,372.3 826.5,374.8 826.3,374.0 826.1,374.1 825.9,377.3 825.7,372.4 825.5,375.8 825.3,379.6 825.1,380.5 824.9,377.7 824.7,375.5 824.5,377.9 824.3,375.7 824.1,380.5 823.9,381.9 823.7,380.4 823.5,374.7 823.3,381.1 823.1,376.9 822.9,378.4 822.7,375.9 822.5,375.3 822.3,383.5 822.1,377.8 821.9,373.9 821.7,376.8 821.5,375.8 821.3,380.3 821.1,379.0 820.9,381.1 820.7,374.1 820.5,378.7 820.3,378.9 820.1,381.3 819.9,377.6 819.7,381.5 819.5,376.1 819.3,378.9 819.1,383.0 818.9,381.5 818.7,378.7 818.5,377.6 818.3,381.2 818.1,380.6 817.9,380.1 817.7,375.7 817.5,380.4 817.3,377.3 817.1,377.0 816.9,378.9 816.7,380.3 816.5,378.3 816.3,377.0 816.1,378.5 815.9,378.4 815.7,380.5 815.5,385.7 815.3,380.9 815.1,380.1 814.9,381.0 814.7,380.4 814.5,379.6 814.3,382.6 814.1,380.4 813.9,375.2 813.7,380.3 813.5,377.7 813.3,380.5 813.1,378.8 812.9,374.8 812.7,374.1 812.5,378.6 812.3,379.4 812.1,377.0 811.9,375.9 811.7,373.5 811.5,380.3 811.3,377.5 811.1,372.2 810.9,370.4 810.7,371.1 810.5,367.7 810.3,372.6 810.1,377.0 809.9,371.1 809.7,371.7 809.5,371.7 809.3,373.9 809.1,373.8 808.9,369.9 808.7,366.6 808.5,370.3 808.3,365.4 808.1,367.1 807.9,370.8 807.7,367.8 807.5,368.1 807.3,370.5 807.1,375.0 806.9,366.2 806.7,368.6 806.5,369.5 806.3,368.5 806.1,368.2 805.9,366.3 805.7,366.3 805.5,370.4 805.3,367.7 805.1,371.6 804.9,368.4 804.7,370.5 804.5,368.5 804.3,373.3 804.1,376.4 803.9,369.6 803.7,372.9 803.5,374.9 803.3,375.1 803.1,384.0 802.9,384.3 802.7,378.0 802.5,382.7 802.3,381.2 802.1,383.5 801.9,378.6 801.7,380.6 801.5,387.2 801.3,381.3 801.1,382.8 800.9,383.8 800.7,380.1 800.5,383.3 800.3,384.9 800.1,385.9 799.9,389.7 799.7,392.4 799.5,384.7 799.3,388.3 799.1,384.0 798.9,388.9 798.7,383.4 798.5,390.0 798.3,384.9 798.1,386.6 797.9,385.5 797.7,387.4 797.5,385.8 797.3,390.2 797.1,385.3 796.9,384.9 796.7,388.5 796.5,389.8 796.3,387.9 796.1,388.0 795.9,388.0 795.7,390.6 795.5,389.2 795.3,394.0 795.1,387.6 794.9,391.6 794.7,386.3 794.5,387.8 794.3,394.1 794.1,388.6 793.9,391.0 793.7,387.6 793.5,391.6 793.3,388.4 793.1,387.7 792.9,391.6 792.7,389.4 792.5,391.3 792.3,395.2 792.1,391.8 791.9,390.7 791.7,394.9 791.5,392.7 791.3,390.2 791.1,389.6 790.9,393.2 790.7,394.6 790.5,392.1 790.3,388.8 790.1,395.1 789.9,394.5 789.7,390.9 789.5,394.0 789.3,394.9 789.1,392.6 788.9,388.5 788.7,395.1 788.5,390.4 788.3,393.3 788.1,397.0 787.9,392.2 787.7,391.2 787.5,397.4 787.3,394.5 787.1,394.9 786.9,393.1 786.7,393.0 786.5,390.7 786.3,396.6 786.1,392.4 785.9,393.7 785.7,400.2 785.5,391.5 785.3,396.2 785.1,394.1 784.9,396.2 784.7,391.6 784.5,392.5 784.3,394.5 784.1,392.5 783.9,397.6 783.7,399.9 783.5,394.0 783.3,394.3 783.1,390.5 782.9,396.9 782.7,395.4 782.5,393.9 782.3,390.9 782.1,397.2 781.9,392.7 781.7,388.3 781.5,394.3 781.3,394.4 781.1,389.8 780.9,394.2 780.7,395.3 780.5,392.9 780.3,392.4 780.1,392.6 779.9,394.2 779.7,393.1 779.5,391.3 779.3,391.6 779.1,389.5 778.9,391.4 778.7,392.0 778.5,393.9 778.3,391.2 778.1,393.4 777.9,389.5 777.7,391.0 777.5,390.3 777.3,395.4 777.1,392.7 776.9,390.6 776.7,388.2 776.5,395.1 776.3,386.9 776.1,390.4 775.9,388.2 775.7,391.7 775.5,390.4 775.3,389.8 775.1,386.6 774.9,383.7 774.7,383.4 774.5,392.1 774.3,385.7 774.1,387.4 773.9,382.0 773.7,388.6 773.5,383.4 773.3,384.3 773.1,380.3 772.9,379.3 772.7,380.7 772.5,381.3 772.3,378.6 772.1,384.3 771.9,387.9 771.7,383.3 771.5,386.8 771.3,382.8 771.1,386.0 770.9,391.0 770.7,388.4 770.5,388.1 770.3,386.1 770.1,389.0 769.9,385.9 769.7,385.9 769.5,386.1 769.3,389.3 769.1,391.7 768.9,392.7 768.7,390.3 768.5,390.6 768.3,394.5 768.1,393.0 767.9,388.1 767.7,391.1 767.5,390.3 767.3,393.5 767.1,393.6 766.9,391.2 766.7,392.4 766.5,391.9 766.3,391.9 766.1,390.4 765.9,388.8 765.7,389.7 765.5,391.1 765.3,387.7 765.1,392.1 764.9,396.1 764.7,396.6 764.5,390.6 764.3,389.8 764.1,389.8 763.9,387.8 763.7,388.1 763.5,384.6 763.3,392.9 763.1,390.3 762.9,390.7 762.7,394.7 762.5,393.2 762.3,389.4 762.1,391.0 761.9,389.0 761.7,391.7 761.5,388.0 761.3,391.7 761.1,392.0 760.9,390.0 760.7,388.4 760.5,389.4 760.3,387.2 760.1,391.7 759.9,388.3 759.7,390.5 759.5,387.8 759.3,392.8 759.1,393.4 758.9,384.3 758.7,393.8 758.5,390.7 758.3,390.4 758.1,383.7 757.9,388.4 757.7,388.4 757.5,384.8 757.3,384.6 757.1,388.7 756.9,386.9 756.7,385.8 756.5,391.3 756.3,384.6 756.1,386.1 755.9,382.8 755.7,386.3 755.5,387.3 755.3,387.8 755.1,387.1 754.9,385.0 754.7,387.2 754.5,384.2 754.3,384.3 754.1,387.5 753.9,384.2 753.7,382.3 753.5,382.7 753.3,379.9 753.1,380.2 752.9,382.3 752.7,384.5 752.5,380.9 752.3,382.5 752.1,375.7 751.9,384.4 751.7,381.0 751.5,382.8 751.3,375.7 751.1,382.9 750.9,374.7 750.7,379.4 750.5,379.1 750.3,378.0 750.1,379.1 749.9,373.3 749.7,381.2 749.5,370.4 749.3,377.7 749.1,372.5 748.9,371.3 748.7,373.9 748.5,374.1 748.3,373.0 748.1,374.8 747.9,370.2 747.7,371.4 747.5,365.1 747.3,366.8 747.1,365.4 746.9,369.3 746.7,368.8 746.5,366.8 746.3,366.8 746.1,361.9 745.9,365.3 745.7,363.0 745.5,359.1 745.3,365.4 745.1,361.8 744.9,358.1 744.7,363.1 744.5,361.3 744.3,358.2 744.1,363.5 743.9,355.0 743.7,352.6 743.5,356.1 743.3,350.7 743.1,351.4 742.9,356.8 742.7,352.7 742.5,349.9 742.3,350.7 742.1,354.8 741.9,350.7 741.7,355.1 741.5,349.6 741.3,353.6 741.1,346.0 740.9,347.3 740.7,345.7 740.5,346.4 740.3,348.2 740.1,348.2 739.9,347.5 739.7,345.7 739.5,343.5 739.3,350.1 739.1,347.0 738.9,349.4 738.7,342.5 738.5,345.7 738.3,346.7 738.1,350.7 737.9,343.3 737.7,348.1 737.5,346.2 737.3,345.4 737.1,350.9 736.9,347.4 736.7,350.9 736.5,348.2 736.3,355.0 736.1,351.1 735.9,357.1 735.7,357.2 735.5,358.7 735.3,355.0 735.1,354.4 734.9,359.0 734.7,359.5 734.5,356.5 734.3,359.6 734.1,355.6 733.9,357.8 733.7,352.8 733.5,357.7 733.3,357.3 733.1,353.2 732.9,357.2 732.7,352.7 732.5,361.8 732.3,355.6 732.1,357.0 731.9,355.3 731.7,359.3 731.5,355.1 731.3,355.6 731.1,356.6 730.9,361.0 730.7,353.8 730.5,353.2 730.3,351.3 730.1,354.2 729.9,354.5 729.7,353.5 729.5,355.7 729.3,354.2 729.1,355.0 728.9,351.5 728.7,353.2 728.5,352.5 728.3,357.5 728.1,355.7 727.9,352.3 727.7,353.5 727.5,358.3 727.3,351.5 727.1,350.5 726.9,352.6 726.7,352.9 726.5,354.4 726.3,352.4 726.1,361.0 725.9,353.6 725.7,346.4 725.5,355.6 725.3,351.7 725.1,360.7 724.9,356.6 724.7,359.7 724.5,358.1 724.3,357.8 724.1,355.0 723.9,354.7 723.7,359.0 723.5,354.5 723.3,350.2 723.1,349.6 722.9,352.5 722.7,354.1 722.5,353.6 722.3,349.9 722.1,348.5 721.9,351.1 721.7,349.1 721.5,351.5 721.3,352.5 721.1,352.0 720.9,350.6 720.7,350.4 720.5,352.6 720.3,352.1 720.1,349.2 719.9,348.7 719.7,355.7 719.5,352.8 719.3,348.1 719.1,346.1 718.9,349.0 718.7,350.3 718.5,349.7 718.3,348.3 718.1,347.5 717.9,345.0 717.7,350.8 717.5,345.6 717.3,343.6 717.1,346.6 716.9,344.9 716.7,344.0 716.5,342.9 716.3,349.6 716.1,345.5 715.9,349.0 715.7,340.7 715.5,351.3 715.3,346.1 715.1,341.5 714.9,346.6 714.7,342.8 714.5,342.0 714.3,343.4 714.1,342.7 713.9,339.0 713.7,339.3 713.5,343.4 713.3,345.6 713.1,343.9 712.9,340.8 712.7,338.6 712.5,341.3 712.3,342.2 712.1,338.9 711.9,346.3 711.7,339.2 711.5,336.0 711.3,336.3 711.1,336.6 710.9,337.3 710.7,339.1 710.5,337.7 710.3,340.1 710.1,337.1 709.9,330.6 709.7,335.5 709.5,328.2 709.3,328.3 709.1,332.0 708.9,334.2 708.7,334.4 708.5,332.1 708.3,326.7 708.1,326.3 707.9,324.5 707.7,334.0 707.5,326.9 707.3,326.6 707.1,329.2 706.9,327.2 706.7,327.1 706.5,323.3 706.3,325.7 706.1,319.8 705.9,322.8 705.7,329.1 705.5,322.7 705.3,327.0 705.1,324.4 704.9,325.5 704.7,322.4 704.5,322.8 704.3,324.1 704.1,326.1 703.9,323.5 703.7,324.3 703.5,322.6 703.3,328.2 703.1,330.2 702.9,330.4 702.7,331.2 702.5,335.4 702.3,334.6 702.1,330.5 701.9,327.9 701.7,337.1 701.5,335.0 701.3,334.5 701.1,335.7 700.9,336.8 700.7,337.9 700.5,336.9 700.3,338.5 700.1,334.6 699.9,341.3 699.7,338.7 699.5,337.4 699.3,333.3 699.1,334.2 698.9,341.5 698.7,341.5 698.5,338.7 698.3,344.5 698.1,340.7 697.9,337.3 697.7,340.2 697.5,344.0 697.3,342.3 697.1,341.7 696.9,344.3 696.7,345.5 696.5,343.0 696.3,341.0 696.1,349.4 695.9,344.7 695.7,336.1 695.5,342.2 695.3,338.9 695.1,343.9 694.9,342.8 694.7,342.9 694.5,343.5 694.3,342.9 694.1,345.7 693.9,344.5 693.7,339.0 693.5,344.3 693.3,340.0 693.1,340.8 692.9,338.6 692.7,342.4 692.5,339.4 692.3,339.4 692.1,345.7 691.9,344.0 691.7,342.0 691.5,339.3 691.3,342.9 691.1,339.2 690.9,346.9 690.7,339.4 690.5,340.2 690.3,337.2 690.1,338.6 689.9,343.5 689.7,343.2 689.5,342.0 689.3,341.4 689.1,344.3 688.9,337.8 688.7,346.3 688.5,341.7 688.3,336.3 688.1,342.6 687.9,337.0 687.7,340.7 687.5,342.4 687.3,334.6 687.1,339.3 686.9,337.1 686.7,340.0 686.5,338.3 686.3,337.3 686.1,338.3 685.9,339.0 685.7,338.1 685.5,337.8 685.3,335.7 685.1,336.3 684.9,332.9 684.7,333.8 684.5,335.2 684.3,331.5 684.1,330.7 683.9,336.1 683.7,334.5 683.5,330.1 683.3,336.5 683.1,331.5 682.9,337.2 682.7,337.8 682.5,329.0 682.3,330.4 682.1,331.6 681.9,333.2 681.7,333.8 681.5,332.4 681.3,331.7 681.1,331.3 680.9,328.8 680.7,331.8 680.5,332.5 680.3,328.2 680.1,328.5 679.9,332.1 679.7,329.3 679.5,329.9 679.3,324.8 679.1,332.2 678.9,331.1 678.7,327.6 678.5,330.6 678.3,326.1 678.1,324.1 677.9,327.6 677.7,325.7 677.5,325.9 677.3,324.2 677.1,325.5 676.9,321.7 676.7,322.8 676.5,323.5 676.3,319.3 676.1,322.9 675.9,321.7 675.7,319.7 675.5,324.2 675.3,321.6 675.1,323.8 674.9,320.9 674.7,322.8 674.5,320.7 674.3,320.9 674.1,321.7 673.9,313.2 673.7,316.5 673.5,315.6 673.3,311.4 673.1,318.8 672.9,313.0 672.7,313.4 672.5,320.1 672.3,318.0 672.1,312.6 671.9,310.3 671.7,314.4 671.5,309.0 671.3,311.3 671.1,311.9 670.9,313.1 670.7,312.7 670.5,316.1 670.3,315.8 670.1,315.9 669.9,312.5 669.7,312.3 669.5,320.1 669.3,319.8 669.1,318.6 668.9,322.6 668.7,329.8 668.5,328.2 668.3,326.8 668.1,337.4 667.9,330.3 667.7,338.4 667.5,334.4 667.3,338.2 667.1,337.9 666.9,338.7 666.7,336.6 666.5,338.8 666.3,339.7 666.1,341.9 665.9,341.6 665.7,340.7 665.5,338.9 665.3,340.8 665.1,337.9 664.9,341.8 664.7,348.7 664.5,346.9 664.3,345.2 664.1,347.8 663.9,349.2 663.7,342.4 663.5,347.9 663.3,349.4 663.1,345.9 662.9,347.5 662.7,347.3 662.5,351.0 662.3,346.3 662.1,354.7 661.9,351.3 661.7,350.0 661.5,352.5 661.3,351.7 661.1,358.3 660.9,352.0 660.7,354.1 660.5,355.0 660.3,356.1 660.1,356.5 659.9,355.1 659.7,361.5 659.5,362.4 659.3,363.0 659.1,357.1 658.9,356.4 658.7,360.6 658.5,366.1 658.3,362.9 658.1,361.2 657.9,361.8 657.7,362.3 657.5,361.3 657.3,360.6 657.1,362.1 656.9,362.3 656.7,367.2 656.5,366.8 656.3,365.1 656.1,368.1 655.9,368.5 655.7,366.6 655.5,370.1 655.3,367.1 655.1,373.9 654.9,366.7 654.7,371.0 654.5,370.4 654.3,368.8 654.1,370.9 653.9,376.5 653.7,373.6 653.5,372.9 653.3,376.6 653.1,377.4 652.9,376.0 652.7,373.7 652.5,381.6 652.3,378.7 652.1,376.7 651.9,376.0 651.7,379.3 651.5,379.4 651.3,377.6 651.1,376.7 650.9,381.8 650.7,380.1 650.5,379.6 650.3,385.9 650.1,382.3 649.9,386.6 649.7,386.4 649.5,379.2 649.3,383.7 649.1,382.2 648.9,382.9 648.7,384.9 648.5,384.4 648.3,383.2 648.1,387.8 647.9,387.0 647.7,385.8 647.5,382.1 647.3,391.4 647.1,387.6 646.9,393.2 646.7,390.1 646.5,393.1 646.3,391.2 646.1,393.0 645.9,390.4 645.7,392.9 645.5,388.6 645.3,391.9 645.1,388.5 644.9,393.2 644.7,389.3 644.5,393.1 644.3,392.8 644.1,389.9 643.9,386.0 643.7,395.2 643.5,390.8 643.3,391.8 643.1,385.4 642.9,390.9 642.7,391.7 642.5,391.2 642.3,387.7 642.1,390.1 641.9,386.7 641.7,384.8 641.5,388.8 641.3,384.9 641.1,390.1 640.9,382.7 640.7,384.9 640.5,389.9 640.3,388.9 640.1,384.3 639.9,380.2 639.7,388.8 639.5,379.7 639.3,384.8 639.1,381.2 638.9,380.4 638.7,383.9 638.5,385.0 638.3,383.2 638.1,391.3 637.9,380.5 637.7,384.9 637.5,388.4 637.3,381.6 637.1,386.7 636.9,386.4 636.7,384.6 636.5,387.0 636.3,389.4 636.1,385.3 635.9,386.1 635.7,380.6 635.5,390.8 635.3,392.7 635.1,389.4 634.9,390.0 634.7,390.2 634.5,395.6 634.3,392.7 634.1,398.5 633.9,397.4 633.7,391.3 633.5,395.0 633.3,395.4 633.1,396.7 632.9,390.6 632.7,394.8 632.5,395.6 632.3,391.1 632.1,399.4 631.9,399.0 631.7,397.6 631.5,398.3 631.3,403.2 631.1,397.0 630.9,402.7 630.7,405.1 630.5,396.9 630.3,408.4 630.1,400.0 629.9,402.3 629.7,397.6 629.5,406.1 629.3,400.4 629.1,406.7 628.9,404.5 628.7,403.9 628.5,404.2 628.3,406.5 628.1,405.2 627.9,402.6 627.7,399.2 627.5,408.5 627.3,406.9 627.1,407.0 626.9,406.8 626.7,410.4 626.5,404.8 626.3,407.8 626.1,410.2 625.9,404.6 625.7,411.0 625.5,412.0 625.3,409.0 625.1,410.3 624.9,408.8 624.7,408.1 624.5,411.1 624.3,406.8 624.1,410.0 623.9,411.1 623.7,405.1 623.5,408.6 623.3,413.1 623.1,408.5 622.9,412.1 622.7,409.5 622.5,408.3 622.3,405.7 622.1,413.4 621.9,410.9 621.7,411.2 621.5,410.0 621.3,409.9 621.1,410.6 620.9,416.8 620.7,415.7 620.5,415.9 620.3,411.8 620.1,409.5 619.9,414.1 619.7,417.4 619.5,413.5 619.3,413.5 619.1,416.4 618.9,412.7 618.7,417.0 618.5,415.2 618.3,414.3 618.1,415.0 617.9,415.4 617.7,416.1 617.5,415.3 617.3,417.1 617.1,419.8 616.9,420.4 616.7,418.8 616.5,416.3 616.3,414.5 616.1,416.7 615.9,412.0 615.7,410.4 615.5,417.8 615.3,412.5 615.1,414.0 614.9,413.6 614.7,411.3 614.5,413.9 614.3,415.5 614.1,414.6 613.9,421.8 613.7,414.3 613.5,413.5 613.3,411.6 613.1,417.0 612.9,415.2 612.7,416.4 612.5,412.6 612.3,417.8 612.1,418.2 611.9,416.9 611.7,414.5 611.5,417.4 611.3,417.9 611.1,411.9 610.9,414.8 610.7,413.5 610.5,419.4 610.3,413.9 610.1,413.4 609.9,412.6 609.7,415.7 609.5,413.4 609.3,415.4 609.1,413.2 608.9,415.3 608.7,416.1 608.5,410.7 608.3,412.2 608.1,410.9 607.9,408.3 607.7,406.6 607.5,410.1 607.3,405.9 607.1,407.6 606.9,406.9 606.7,406.9 606.5,409.2 606.3,404.2 606.1,406.1 605.9,407.0 605.7,407.2 605.5,406.2 605.3,408.3 605.1,406.5 604.9,410.3 604.7,405.6 604.5,405.3 604.3,409.7 604.1,408.4 603.9,406.7 603.7,409.9 603.5,404.3 603.3,406.1 603.1,408.1 602.9,408.2 602.7,405.3 602.5,407.4 602.3,408.0 602.1,411.0 601.9,405.6 601.7,410.7 601.5,413.4 601.3,413.6 601.1,415.3 600.9,417.8 600.7,420.5 600.5,421.3 600.3,422.2 600.1,424.5 599.9,425.0 599.7,421.1 599.5,420.5 599.3,421.1 599.1,424.6 598.9,426.9 598.7,424.3 598.5,421.0 598.3,428.3 598.1,420.6 597.9,426.8 597.7,422.9 597.5,423.0 597.3,426.0 597.1,430.4 596.9,425.8 596.7,430.4 596.5,428.1 596.3,424.6 596.1,426.1 595.9,430.6 595.7,425.6 595.5,430.3 595.3,428.5 595.1,431.8 594.9,430.6 594.7,432.6 594.5,430.5 594.3,429.7 594.1,425.5 593.9,431.2 593.7,430.6 593.5,429.2 593.3,434.1 593.1,433.8 592.9,431.2 592.7,432.4 592.5,432.6 592.3,431.1 592.1,435.0 591.9,430.8 591.7,431.0 591.5,434.3 591.3,435.3 591.1,431.6 590.9,431.7 590.7,431.7 590.5,433.8 590.3,431.1 590.1,435.6 589.9,435.8 589.7,435.3 589.5,435.1 589.3,438.9 589.1,439.6 588.9,437.6 588.7,442.3 588.5,437.2 588.3,439.2 588.1,437.3 587.9,439.5 587.7,433.5 587.5,434.3 587.3,435.7 587.1,436.9 586.9,436.6 586.7,442.9 586.5,437.8 586.3,440.6 586.1,440.2 585.9,435.3 585.7,438.8 585.5,441.5 585.3,441.6 585.1,437.3 584.9,436.0 584.7,437.2 584.5,435.1 584.3,441.0 584.1,438.8 583.9,431.8 583.7,438.0 583.5,437.1 583.3,436.5 583.1,439.0 582.9,434.6 582.7,435.3 582.5,441.5 582.3,443.4 582.1,434.1 581.9,434.1 581.7,435.9 581.5,435.8 581.3,440.3 581.1,435.1 580.9,434.8 580.7,434.9 580.5,436.8 580.3,433.9 580.1,443.0 579.9,438.9 579.7,436.0 579.5,437.4 579.3,437.4 579.1,435.5 578.9,435.6 578.7,433.9 578.5,438.9 578.3,437.6 578.1,434.1 577.9,435.6 577.7,434.9 577.5,434.1 577.3,436.5 577.1,436.0 576.9,436.0 576.7,438.9 576.5,434.7 576.3,438.1 576.1,435.3 575.9,432.8 575.7,432.6 575.5,437.2 575.3,435.7 575.1,434.6 574.9,434.8 574.7,433.6 574.5,433.3 574.3,432.3 574.1,437.5 573.9,434.2 573.7,430.9 573.5,432.5 573.3,433.6 573.1,436.2 572.9,434.2 572.7,437.1 572.5,432.9 572.3,428.2 572.1,432.1 571.9,430.1 571.7,432.8 571.5,434.6 571.3,429.1 571.1,431.8 570.9,428.1 570.7,429.5 570.5,425.7 570.3,429.5 570.1,432.6 569.9,430.9 569.7,426.8 569.5,426.9 569.3,424.0 569.1,427.0 568.9,429.2 568.7,427.8 568.5,427.4 568.3,430.1 568.1,432.9 567.9,435.5 567.7,431.1 567.5,432.8 567.3,429.7 567.1,439.9 566.9,438.3 566.7,439.7 566.5,444.5 566.3,435.6 566.1,441.2 565.9,444.7 565.7,446.8 565.5,447.2 565.3,446.8 565.1,445.3 564.9,444.5 564.7,441.6 564.5,447.4 564.3,445.0 564.1,443.0 563.9,444.0 563.7,450.4 563.5,444.1 563.3,446.2 563.1,444.7 562.9,449.6 562.7,449.6 562.5,446.8 562.3,447.0 562.1,445.7 561.9,448.1 561.7,451.3 561.5,444.9 561.3,448.5 561.1,443.3 560.9,446.2 560.7,454.3 560.5,449.9 560.3,455.4 560.1,450.0 559.9,444.6 559.7,443.5 559.5,452.2 559.3,449.3 559.1,444.9 558.9,450.3 558.7,447.4 558.5,443.1 558.3,448.6 558.1,449.9 557.9,450.4 557.7,446.3 557.5,446.2 557.3,454.2 557.1,447.7 556.9,453.1 556.7,451.5 556.5,452.6 556.3,450.2 556.1,445.0 555.9,452.5 555.7,449.7 555.5,456.1 555.3,446.7 555.1,445.8 554.9,449.6 554.7,448.6 554.5,450.1 554.3,453.4 554.1,449.4 553.9,452.7 553.7,450.8 553.5,453.7 553.3,449.6 553.1,450.0 552.9,448.1 552.7,448.4 552.5,450.9 552.3,455.5 552.1,451.2 551.9,454.0 551.7,450.0 551.5,455.9 551.3,448.6 551.1,453.9 550.9,451.7 550.7,459.1 550.5,455.0 550.3,455.3 550.1,449.8 549.9,452.8 549.7,450.6 549.5,453.0 549.3,448.3 549.1,447.9 548.9,451.8 548.7,451.8 548.5,449.5 548.3,449.3 548.1,448.6 547.9,451.4 547.7,453.1 547.5,450.8 547.3,452.5 547.1,451.7 546.9,453.4 546.7,449.2 546.5,452.7 546.3,442.8 546.1,451.8 545.9,453.3 545.7,450.4 545.5,449.5 545.3,447.9 545.1,450.3 544.9,446.0 544.7,451.3 544.5,451.3 544.3,453.2 544.1,446.8 543.9,450.2 543.7,450.2 543.5,446.9 543.3,451.1 543.1,450.1 542.9,447.7 542.7,448.9 542.5,449.6 542.3,448.4 542.1,447.8 541.9,444.8 541.7,447.1 541.5,441.3 541.3,443.6 541.1,446.8 540.9,446.5 540.7,442.5 540.5,441.8 540.3,444.3 540.1,443.0 539.9,444.2 539.7,440.4 539.5,444.2 539.3,438.5 539.1,441.9 538.9,441.6 538.7,444.1 538.5,435.8 538.3,437.4 538.1,438.1 537.9,435.5 537.7,440.9 537.5,439.4 537.3,440.7 537.1,431.1 536.9,436.8 536.7,437.1 536.5,437.4 536.3,443.1 536.1,441.3 535.9,442.1 535.7,437.6 535.5,434.7 535.3,440.3 535.1,437.2 534.9,436.8 534.7,438.2 534.5,438.2 534.3,439.2 534.1,434.7 533.9,437.9 533.7,442.3 533.5,442.8 533.3,444.6 533.1,452.7 532.9,453.2 532.7,450.2 532.5,444.7 532.3,445.5 532.1,453.4 531.9,447.4 531.7,446.6 531.5,451.0 531.3,450.1 531.1,449.4 530.9,449.9 530.7,453.6 530.5,449.2 530.3,449.8 530.1,451.0 529.9,450.6 529.7,454.9 529.5,453.2 529.3,454.1 529.1,452.2 528.9,456.8 528.7,452.2 528.5,455.0 528.3,452.2 528.1,450.5 527.9,458.1 527.7,452.6 527.5,452.7 527.3,454.5 527.1,453.6 526.9,454.9 526.7,454.1 526.5,455.1 526.3,458.0 526.1,459.8 525.9,455.8 525.7,458.4 525.5,462.4 525.3,452.9 525.1,457.9 524.9,456.8 524.7,460.1 524.5,458.0 524.3,462.4 524.1,455.5 523.9,456.1 523.7,457.3 523.5,456.8 523.3,456.2 523.1,458.0 522.9,461.6 522.7,459.3 522.5,453.6 522.3,459.5 522.1,454.7 521.9,462.5 521.7,456.4 521.5,456.5 521.3,460.3 521.1,454.8 520.9,456.8 520.7,456.9 520.5,460.4 520.3,458.0 520.1,459.0 519.9,458.1 519.7,457.1 519.5,463.6 519.3,458.1 519.1,459.7 518.9,460.5 518.7,464.9 518.5,464.3 518.3,464.9 518.1,460.7 517.9,456.1 517.7,458.1 517.5,462.2 517.3,459.0 517.1,458.7 516.9,464.0 516.7,458.3 516.5,462.1 516.3,460.0 516.1,456.6 515.9,459.7 515.7,462.2 515.5,460.6 515.3,457.4 515.1,457.2 514.9,461.2 514.7,456.3 514.5,457.3 514.3,460.3 514.1,457.8 513.9,459.5 513.7,461.7 513.5,459.4 513.3,456.3 513.1,456.3 512.9,459.6 512.7,458.5 512.5,463.1 512.3,450.9 512.1,460.4 511.9,457.9 511.7,453.0 511.5,456.9 511.3,456.5 511.1,451.9 510.9,452.7 510.7,456.5 510.5,450.2 510.3,456.0 510.1,458.4 509.9,453.0 509.7,451.2 509.5,450.2 509.3,455.0 509.1,455.6 508.9,455.7 508.7,453.9 508.5,457.0 508.3,457.7 508.1,452.6 507.9,457.3 507.7,454.2 507.5,449.8 507.3,453.8 507.1,451.3 506.9,448.8 506.7,452.7 506.5,453.8 506.3,449.4 506.1,449.0 505.9,445.2 505.7,448.9 505.5,446.3 505.3,452.2 505.1,444.1 504.9,442.1 504.7,448.0 504.5,439.3 504.3,444.5 504.1,446.8 503.9,444.5 503.7,448.8 503.5,442.2 503.3,445.5 503.1,450.1 502.9,443.1 502.7,446.7 502.5,447.0 502.3,438.8 502.1,446.4 501.9,444.6 501.7,445.7 501.5,445.9 501.3,448.0 501.1,448.1 500.9,448.4 500.7,447.7 500.5,449.8 500.3,447.9 500.1,453.2 499.9,454.0 499.7,457.5 499.5,447.7 499.3,458.6 499.1,453.7 498.9,459.3 498.7,458.1 498.5,459.0 498.3,464.8 498.1,455.8 497.9,455.8 497.7,464.0 497.5,457.3 497.3,460.9 497.1,463.5 496.9,457.3 496.7,462.1 496.5,462.5 496.3,464.1 496.1,465.0 495.9,464.7 495.7,459.6 495.5,462.7 495.3,462.9 495.1,459.5 494.9,463.5 494.7,464.2 494.5,468.4 494.3,458.4 494.1,462.1 493.9,462.4 493.7,464.1 493.5,469.5 493.3,464.3 493.1,467.6 492.9,468.4 492.7,466.8 492.5,458.7 492.3,465.9 492.1,459.3 491.9,463.3 491.7,469.5 491.5,462.8 491.3,464.6 491.1,466.0 490.9,467.3 490.7,466.4 490.5,470.0 490.3,464.8 490.1,467.9 489.9,464.5 489.7,468.9 489.5,465.9 489.3,463.7 489.1,465.9 488.9,471.6 488.7,464.1 488.5,464.9 488.3,470.4 488.1,460.6 487.9,467.8 487.7,465.6 487.5,468.1 487.3,466.0 487.1,468.7 486.9,469.6 486.7,471.0 486.5,463.5 486.3,473.1 486.1,468.5 485.9,471.2 485.7,466.4 485.5,468.4 485.3,469.4 485.1,466.3 484.9,468.6 484.7,470.5 484.5,470.2 484.3,469.4 484.1,470.0 483.9,467.5 483.7,464.1 483.5,477.9 483.3,468.8 483.1,473.7 482.9,477.5 482.7,472.5 482.5,473.3 482.3,474.0 482.1,467.3 481.9,470.6 481.7,467.6 481.5,471.5 481.3,468.4 481.1,473.5 480.9,472.4 480.7,474.8 480.5,469.0 480.3,470.7 480.1,473.7 479.9,472.4 479.7,473.6 479.5,476.9 479.3,469.0 479.1,471.3 478.9,468.9 478.7,471.4 478.5,466.5 478.3,474.5 478.1,469.8 477.9,471.4 477.7,471.0 477.5,473.8 477.3,468.2 477.1,472.4 476.9,470.1 476.7,467.9 476.5,470.0 476.3,473.0 476.1,470.4 475.9,466.1 475.7,470.7 475.5,467.2 475.3,470.8 475.1,467.9 474.9,469.2 474.7,469.4 474.5,467.4 474.3,465.4 474.1,470.2 473.9,463.2 473.7,469.9 473.5,464.8 473.3,466.1 473.1,466.4 472.9,463.4 472.7,460.9 472.5,463.2 472.3,465.1 472.1,462.7 471.9,459.4 471.7,461.0 471.5,461.0 471.3,461.2 471.1,463.3 470.9,456.7 470.7,452.3 470.5,453.9 470.3,460.5 470.1,457.0 469.9,461.0 469.7,454.9 469.5,455.5 469.3,460.9 469.1,459.5 468.9,457.7 468.7,461.4 468.5,457.0 468.3,457.9 468.1,459.8 467.9,455.4 467.7,459.6 467.5,453.8 467.3,462.3 467.1,460.6 466.9,455.3 466.7,459.4 466.5,460.1 466.3,464.5 466.1,463.9 465.9,466.8 465.7,465.6 465.5,474.2 465.3,467.9 465.1,473.0 464.9,472.6 464.7,472.8 464.5,475.3 464.3,475.9 464.1,473.0 463.9,477.8 463.7,473.8 463.5,478.4 463.3,474.5 463.1,478.4 462.9,475.1 462.7,473.1 462.5,475.9 462.3,474.9 462.1,471.6 461.9,473.1 461.7,478.6 461.5,481.3 461.3,470.5 461.1,474.5 460.9,472.7 460.7,483.1 460.5,476.9 460.3,478.6 460.1,479.5 459.9,482.4 459.7,477.9 459.5,481.0 459.3,481.0 459.1,479.9 458.9,481.7 458.7,481.2 458.5,476.0 458.3,477.5 458.1,479.0 457.9,484.0 457.7,479.9 457.5,483.3 457.3,479.4 457.1,479.4 456.9,477.0 456.7,481.2 456.5,476.8 456.3,479.1 456.1,483.3 455.9,480.9 455.7,484.1 455.5,479.8 455.3,481.1 455.1,484.6 454.9,481.6 454.7,476.7 454.5,479.3 454.3,483.8 454.1,479.9 453.9,478.7 453.7,484.4 453.5,481.8 453.3,485.2 453.1,483.4 452.9,485.2 452.7,482.4 452.5,482.9 452.3,479.1 452.1,486.8 451.9,482.3 451.7,485.6 451.5,483.5 451.3,483.7 451.1,485.5 450.9,489.2 450.7,486.1 450.5,483.1 450.3,487.8 450.1,484.9 449.9,489.3 449.7,485.2 449.5,488.1 449.3,487.1 449.1,491.4 448.9,484.4 448.7,482.8 448.5,482.9 448.3,484.6 448.1,483.6 447.9,487.0 447.7,484.4 447.5,486.1 447.3,480.5 447.1,487.7 446.9,484.0 446.7,484.1 446.5,482.6 446.3,486.8 446.1,482.1 445.9,480.9 445.7,481.4 445.5,486.6 445.3,480.2 445.1,485.7 444.9,479.1 444.7,482.8 444.5,479.6 444.3,482.5 444.1,481.7 443.9,483.0 443.7,485.7 443.5,482.4 443.3,480.6 443.1,480.2 442.9,482.5 442.7,479.9 442.5,482.9 442.3,480.0 442.1,480.0 441.9,475.9 441.7,477.4 441.5,481.6 441.3,479.3 441.1,482.9 440.9,481.1 440.7,483.2 440.5,480.5 440.3,480.9 440.1,481.1 439.9,480.2 439.7,479.9 439.5,474.3 439.3,477.5 439.1,475.2 438.9,478.8 438.7,478.3 438.5,474.1 438.3,478.0 438.1,479.7 437.9,474.2 437.7,476.4 437.5,477.0 437.3,476.1 437.1,477.3 436.9,472.5 436.7,473.0 436.5,469.2 436.3,471.8 436.1,473.1 435.9,470.8 435.7,469.2 435.5,471.4 435.3,472.4 435.1,470.4 434.9,468.5 434.7,470.7 434.5,471.9 434.3,471.5 434.1,471.3 433.9,469.8 433.7,475.2 433.5,473.8 433.3,477.5 433.1,473.3 432.9,477.3 432.7,477.5 432.5,477.7 432.3,479.6 432.1,477.4 431.9,478.8 431.7,481.2 431.5,485.3 431.3,484.9 431.1,486.6 430.9,480.3 430.7,481.3 430.5,488.0 430.3,477.7 430.1,486.1 429.9,492.0 429.7,487.5 429.5,480.3 429.3,490.4 429.1,485.9 428.9,487.0 428.7,487.7 428.5,490.8 428.3,492.1 428.1,492.0 427.9,486.0 427.7,483.9 427.5,493.9 427.3,486.1 427.1,490.6 426.9,493.5 426.7,488.8 426.5,483.8 426.3,489.7 426.1,491.4 425.9,493.7 425.7,494.2 425.5,494.7 425.3,494.0 425.1,498.5 424.9,495.2 424.7,488.2 424.5,492.5 424.3,490.6 424.1,488.6 423.9,488.7 423.7,495.8 423.5,493.5 423.3,490.6 423.1,494.8 422.9,494.0 422.7,489.8 422.5,493.1 422.3,496.5 422.1,493.9 421.9,489.9 421.7,496.3 421.5,495.1 421.3,496.4 421.1,494.6 420.9,496.7 420.7,492.3 420.5,496.3 420.3,497.3 420.1,496.7 419.9,498.0 419.7,495.2 419.5,498.1 419.3,496.7 419.1,498.7 418.9,495.0 418.7,502.1 418.5,502.1 418.3,504.1 418.1,499.2 417.9,498.7 417.7,500.3 417.5,498.8 417.3,498.1 417.1,503.7 416.9,505.9 416.7,499.8 416.5,498.8 416.3,499.7 416.1,496.1 415.9,494.4 415.7,501.9 415.5,507.1 415.3,498.5 415.1,503.6 414.9,496.1 414.7,502.8 414.5,495.1 414.3,499.3 414.1,497.8 413.9,499.0 413.7,495.4 413.5,499.5 413.3,499.7 413.1,500.6 412.9,496.8 412.7,500.2 412.5,498.5 412.3,494.1 412.1,499.1 411.9,495.8 411.7,498.1 411.5,493.7 411.3,498.1 411.1,501.3 410.9,498.1 410.7,492.9 410.5,495.1 410.3,497.3 410.1,491.3 409.9,498.4 409.7,499.5 409.5,496.3 409.3,498.4 409.1,498.2 408.9,494.8 408.7,498.8 408.5,501.2 408.3,498.0 408.1,494.4 407.9,501.7 407.7,497.6 407.5,497.0 407.3,500.3 407.1,499.5 406.9,492.9 406.7,496.3 406.5,495.9 406.3,490.2 406.1,491.8 405.9,492.2 405.7,490.7 405.5,493.5 405.3,494.8 405.1,489.7 404.9,493.4 404.7,489.8 404.5,489.3 404.3,484.2 404.1,487.5 403.9,486.2 403.7,485.9 403.5,485.4 403.3,485.9 403.1,491.4 402.9,485.7 402.7,484.6 402.5,482.8 402.3,486.4 402.1,486.6 401.9,486.9 401.7,482.9 401.5,491.0 401.3,490.7 401.1,489.1 400.9,484.2 400.7,487.2 400.5,487.2 400.3,484.3 400.1,487.1 399.9,487.7 399.7,486.1 399.5,484.4 399.3,486.9 399.1,487.0 398.9,484.4 398.7,493.6 398.5,495.8 398.3,492.4 398.1,497.9 397.9,494.8 397.7,503.0 397.5,496.5 397.3,496.2 397.1,498.1 396.9,498.6 396.7,505.3 396.5,497.3 396.3,507.7 396.1,504.8 395.9,499.9 395.7,503.2 395.5,504.7 395.3,505.6 395.1,499.0 394.9,503.7 394.7,509.6 394.5,502.5 394.3,507.3 394.1,503.7 393.9,502.9 393.7,502.7 393.5,500.5 393.3,507.8 393.1,509.2 392.9,502.8 392.7,508.6 392.5,509.4 392.3,512.7 392.1,504.8 391.9,507.3 391.7,506.6 391.5,507.8 391.3,512.9 391.1,506.3 390.9,507.1 390.7,505.6 390.5,510.2 390.3,505.3 390.1,510.5 389.9,514.7 389.7,508.7 389.5,510.9 389.3,510.7 389.1,512.1 388.9,508.9 388.7,511.8 388.5,508.3 388.3,512.4 388.1,510.8 387.9,508.5 387.7,509.3 387.5,513.1 387.3,508.5 387.1,508.8 386.9,513.0 386.7,507.6 386.5,516.6 386.3,508.3 386.1,511.8 385.9,511.9 385.7,510.6 385.5,511.4 385.3,516.2 385.1,513.2 384.9,516.7 384.7,512.5 384.5,515.7 384.3,513.9 384.1,512.1 383.9,516.3 383.7,511.5 383.5,516.2 383.3,519.7 383.1,512.1 382.9,513.1 382.7,511.4 382.5,516.2 382.3,515.2 382.1,514.4 381.9,509.9 381.7,516.5 381.5,509.4 381.3,513.7 381.1,513.9 380.9,512.5 380.7,516.7 380.5,510.6 380.3,509.0 380.1,510.0 379.9,509.0 379.7,511.7 379.5,506.0 379.3,515.1 379.1,508.7 378.9,511.1 378.7,510.3 378.5,511.7 378.3,504.6 378.1,505.8 377.9,509.6 377.7,506.7 377.5,512.3 377.3,509.6 377.1,506.0 376.9,505.1 376.7,507.7 376.5,507.5 376.3,503.1 376.1,510.1 375.9,502.6 375.7,507.1 375.5,504.3 375.3,501.8 375.1,508.4 374.9,501.2 374.7,505.0 374.5,504.9 374.3,505.8 374.1,508.8 373.9,502.4 373.7,502.5 373.5,501.8 373.3,500.6 373.1,497.7 372.9,500.0 372.7,497.0 372.5,498.4 372.3,494.9 372.1,498.7 371.9,498.9 371.7,500.5 371.5,501.0 371.3,494.2 371.1,501.2 370.9,493.2 370.7,490.7 370.5,496.4 370.3,495.4 370.1,501.4 369.9,496.2 369.7,495.1 369.5,491.9 369.3,497.2 369.1,492.9 368.9,491.0 368.7,491.8 368.5,489.2 368.3,489.7 368.1,489.2 367.9,491.9 367.7,495.6 367.5,491.1 367.3,489.3 367.1,491.1 366.9,491.3 366.7,491.7 366.5,492.5 366.3,493.7 366.1,496.5 365.9,490.2 365.7,492.7 365.5,494.1 365.3,494.6 365.1,501.2 364.9,498.2 364.7,500.6 364.5,499.0 364.3,503.1 364.1,503.4 363.9,502.6 363.7,502.4 363.5,504.5 363.3,501.5 363.1,508.4 362.9,509.7 362.7,502.9 362.5,506.6 362.3,507.3 362.1,507.1 361.9,505.8 361.7,503.6 361.5,504.0 361.3,505.3 361.1,506.9 360.9,510.4 360.7,510.7 360.5,509.1 360.3,506.0 360.1,512.3 359.9,503.0 359.7,507.0 359.5,505.9 359.3,513.4 359.1,508.7 358.9,506.2 358.7,508.8 358.5,508.0 358.3,505.5 358.1,511.3 357.9,507.7 357.7,504.8 357.5,507.7 357.3,507.6 357.1,505.9 356.9,510.4 356.7,512.0 356.5,511.3 356.3,509.0 356.1,501.3 355.9,507.2 355.7,507.2 355.5,507.8 355.3,507.2 355.1,510.2 354.9,509.6 354.7,509.6 354.5,506.7 354.3,513.9 354.1,510.0 353.9,501.7 353.7,509.2 353.5,507.9 353.3,507.9 353.1,511.3 352.9,506.2 352.7,507.2 352.5,508.9 352.3,509.9 352.1,510.4 351.9,510.8 351.7,512.9 351.5,514.0 351.3,514.3 351.1,509.4 350.9,517.0 350.7,517.5 350.5,511.6 350.3,511.7 350.1,512.8 349.9,510.2 349.7,510.0 349.5,510.2 349.3,512.0 349.1,510.5 348.9,511.7 348.7,509.1 348.5,506.9 348.3,511.0 348.1,509.9 347.9,507.2 347.7,511.5 347.5,511.5 347.3,509.4 347.1,511.7 346.9,507.5 346.7,508.3 346.5,509.9 346.3,509.3 346.1,504.6 345.9,508.8 345.7,503.6 345.5,507.6 345.3,508.9 345.1,507.7 344.9,501.5 344.7,502.8 344.5,506.1 344.3,501.5 344.1,504.8 343.9,506.1 343.7,505.8 343.5,502.4 343.3,505.4 343.1,505.1 342.9,501.8 342.7,503.8 342.5,501.6 342.3,505.1 342.1,506.9 341.9,503.2 341.7,503.0 341.5,506.1 341.3,501.3 341.1,505.7 340.9,501.3 340.7,504.3 340.5,503.8 340.3,499.5 340.1,505.8 339.9,498.7 339.7,501.2 339.5,503.4 339.3,499.0 339.1,501.1 338.9,503.3 338.7,499.8 338.5,500.7 338.3,498.1 338.1,495.4 337.9,495.7 337.7,497.3 337.5,493.3 337.3,501.2 337.1,495.4 336.9,491.4 336.7,495.5 336.5,495.1 336.3,491.6 336.1,495.7 335.9,491.3 335.7,486.6 335.5,492.4 335.3,495.6 335.1,489.1 334.9,490.3 334.7,489.1 334.5,491.8 334.3,489.7 334.1,490.6 333.9,495.5 333.7,493.1 333.5,486.7 333.3,486.8 333.1,488.1 332.9,485.9 332.7,485.6 332.5,491.8 332.3,483.0 332.1,485.0 331.9,487.8 331.7,495.1 331.5,486.4 331.3,487.6 331.1,490.1 330.9,487.3 330.7,493.2 330.5,494.1 330.3,497.1 330.1,490.2 329.9,494.4 329.7,495.2 329.5,496.0 329.3,497.7 329.1,495.4 328.9,490.9 328.7,486.7 328.5,492.8 328.3,490.0 328.1,493.8 327.9,495.3 327.7,494.2 327.5,494.3 327.3,494.8 327.1,490.1 326.9,499.8 326.7,491.6 326.5,495.3 326.3,492.6 326.1,496.1 325.9,496.2 325.7,494.5 325.5,494.4 325.3,497.2 325.1,493.1 324.9,492.4 324.7,491.4 324.5,490.4 324.3,495.5 324.1,490.3 323.9,484.6 323.7,494.8 323.5,488.2 323.3,489.9 323.1,492.2 322.9,488.6 322.7,492.6 322.5,488.1 322.3,480.5 322.1,485.5 321.9,490.0 321.7,491.5 321.5,483.0 321.3,483.6 321.1,488.5 320.9,485.1 320.7,486.6 320.5,478.9 320.3,482.0 320.1,487.7 319.9,486.4 319.7,491.1 319.5,478.8 319.3,484.3 319.1,485.2 318.9,484.2 318.7,480.7 318.5,485.1 318.3,483.0 318.1,484.7 317.9,483.0 317.7,484.0 317.5,486.3 317.3,478.1 317.1,479.0 316.9,480.3 316.7,478.5 316.5,480.9 316.3,474.2 316.1,481.4 315.9,478.7 315.7,478.4 315.5,479.6 315.3,478.0 315.1,475.9 314.9,476.3 314.7,473.2 314.5,475.7 314.3,474.7 314.1,472.9 313.9,473.8 313.7,465.2 313.5,469.6 313.3,466.8 313.1,468.5 312.9,468.5 312.7,467.9 312.5,467.8 312.3,465.4 312.1,466.2 311.9,468.0 311.7,467.3 311.5,462.9 311.3,465.2 311.1,463.2 310.9,464.4 310.7,462.5 310.5,466.0 310.3,463.8 310.1,463.2 309.9,459.5 309.7,459.0 309.5,464.7 309.3,459.4 309.1,457.0 308.9,462.4 308.7,460.0 308.5,453.1 308.3,457.1 308.1,450.3 307.9,455.0 307.7,452.0 307.5,455.1 307.3,451.0 307.1,453.4 306.9,451.0 306.7,447.9 306.5,449.3 306.3,449.2 306.1,449.2 305.9,440.9 305.7,445.1 305.5,442.1 305.3,442.3 305.1,439.4 304.9,444.4 304.7,442.6 304.5,440.3 304.3,441.6 304.1,440.5 303.9,440.9 303.7,441.2 303.5,439.1 303.3,445.5 303.1,438.7 302.9,436.4 302.7,434.9 302.5,433.0 302.3,440.1 302.1,433.7 301.9,429.5 301.7,435.9 301.5,430.9 301.3,429.9 301.1,431.0 300.9,432.2 300.7,430.6 300.5,434.7 300.3,433.9 300.1,428.4 299.9,430.2 299.7,431.3 299.5,429.3 299.3,428.5 299.1,429.5 298.9,428.1 298.7,429.2 298.5,426.1 298.3,431.6 298.1,426.7 297.9,422.4 297.7,422.4 297.5,424.4 297.3,421.3 297.1,427.8 296.9,422.5 296.7,423.5 296.5,425.2 296.3,424.1 296.1,420.0 295.9,422.6 295.7,426.3 295.5,429.6 295.3,429.1 295.1,429.4 294.9,427.0 294.7,424.0 294.5,430.1 294.3,425.9 294.1,432.1 293.9,427.0 293.7,428.0 293.5,428.3 293.3,422.9 293.1,431.6 292.9,425.2 292.7,433.3 292.5,432.9 292.3,425.9 292.1,425.7 291.9,425.4 291.7,424.7 291.5,429.2 291.3,426.9 291.1,428.8 290.9,424.9 290.7,424.0 290.5,424.1 290.3,425.6 290.1,427.2 289.9,423.5 289.7,422.1 289.5,421.7 289.3,424.6 289.1,422.8 288.9,421.2 288.7,423.5 288.5,424.5 288.3,420.8 288.1,419.8 287.9,421.1 287.7,423.2 287.5,417.3 287.3,420.4 287.1,418.0 286.9,420.6 286.7,421.3 286.5,420.5 286.3,415.6 286.1,418.4 285.9,422.6 285.7,415.9 285.5,416.6 285.3,420.7 285.1,413.8 284.9,416.0 284.7,415.8 284.5,411.0 284.3,415.2 284.1,418.8 283.9,417.0 283.7,414.7 283.5,418.3 283.3,414.4 283.1,410.7 282.9,417.0 282.7,413.4 282.5,416.7 282.3,409.2 282.1,406.6 281.9,410.0 281.7,410.0 281.5,408.9 281.3,410.1 281.1,405.3 280.9,405.4 280.7,406.9 280.5,404.3 280.3,399.7 280.1,398.6 279.9,400.3 279.7,402.4 279.5,405.1 279.3,403.6 279.1,398.8 278.9,402.2 278.7,396.5 278.5,404.2 278.3,394.8 278.1,403.2 277.9,397.5 277.7,399.9 277.5,400.3 277.3,396.9 277.1,393.8 276.9,396.2 276.7,397.8 276.5,398.3 276.3,399.4 276.1,396.7 275.9,399.0 275.7,396.3 275.5,396.3 275.3,397.0 275.1,398.1 274.9,395.5 274.7,398.7 274.5,395.2 274.3,395.4 274.1,395.1 273.9,388.3 273.7,391.2 273.5,396.1 273.3,390.9 273.1,396.2 272.9,394.3 272.7,396.6 272.5,389.9 272.3,390.2 272.1,392.2 271.9,385.8 271.7,390.4 271.5,389.3 271.3,388.7 271.1,386.5 270.9,385.7 270.7,389.2 270.5,380.5 270.3,383.7 270.1,383.2 269.9,384.6 269.7,383.9 269.5,379.7 269.3,376.2 269.1,378.8 268.9,379.0 268.7,380.4 268.5,373.6 268.3,375.4 268.1,376.2 267.9,382.6 267.7,379.5 267.5,376.6 267.3,372.7 267.1,376.0 266.9,370.8 266.7,374.6 266.5,375.7 266.3,371.7 266.1,370.4 265.9,371.7 265.7,373.1 265.5,374.7 265.3,373.3 265.1,371.6 264.9,366.8 264.7,374.6 264.5,369.0 264.3,368.5 264.1,369.5 263.9,374.4 263.7,371.1 263.5,374.9 263.3,376.7 263.1,372.4 262.9,374.4 262.7,380.5 262.5,381.8 262.3,381.0 262.1,380.3 261.9,381.9 261.7,381.8 261.5,383.4 261.3,384.6 261.1,380.8 260.9,379.2 260.7,382.9 260.5,385.0 260.3,380.3 260.1,379.7 259.9,379.6 259.7,382.4 259.5,378.9 259.3,379.1 259.1,381.7 258.9,381.4 258.7,388.0 258.5,386.4 258.3,385.3 258.1,380.4 257.9,383.6 257.7,380.2 257.5,382.2 257.3,384.1 257.1,378.1 256.9,380.5 256.7,381.5 256.5,380.6 256.3,382.1 256.1,378.8 255.9,377.2 255.7,376.9 255.5,376.6 255.3,377.9 255.1,377.9 254.9,376.6 254.7,381.5 254.5,374.8 254.3,379.6 254.1,377.4 253.9,373.4 253.7,375.6 253.5,383.3 253.3,376.0 253.1,379.3 252.9,380.2 252.7,375.7 252.5,381.2 252.3,380.4 252.1,378.6 251.9,383.6 251.7,382.4 251.5,378.4 251.3,378.9 251.1,381.7 250.9,378.7 250.7,381.6 250.5,383.6 250.3,381.7 250.1,384.4 249.9,382.4 249.7,382.2 249.5,388.3 249.3,384.8 249.1,383.5 248.9,382.4 248.7,385.8 248.5,390.0 248.3,389.0 248.1,386.2 247.9,393.9 247.7,384.6 247.5,389.0 247.3,387.3 247.1,389.6 246.9,386.1 246.7,380.6 246.5,385.7 246.3,388.3 246.1,387.8 245.9,390.8 245.7,387.9 245.5,388.9 245.3,390.5 245.1,388.6 244.9,387.0 244.7,391.7 244.5,391.3 244.3,387.0 244.1,395.4 243.9,393.1 243.7,388.0 243.5,390.2 243.3,388.4 243.1,388.7 242.9,389.9 242.7,391.5 242.5,394.3 242.3,391.5 242.1,387.9 241.9,391.3 241.7,392.2 241.5,395.8 241.3,395.4 241.1,393.5 240.9,388.7 240.7,395.6 240.5,396.5 240.3,392.4 240.1,395.7 239.9,393.2 239.7,389.0 239.5,392.8 239.3,393.7 239.1,389.6 238.9,392.6 238.7,391.7 238.5,387.9 238.3,388.5 238.1,386.8 237.9,387.9 237.7,386.9 237.5,393.2 237.3,391.6 237.1,388.1 236.9,390.4 236.7,391.0 236.5,390.7 236.3,387.8 236.1,391.0 235.9,394.9 235.7,398.5 235.5,389.9 235.3,389.7 235.1,391.7 234.9,394.2 234.7,395.3 234.5,394.2 234.3,390.6 234.1,393.7 233.9,397.1 233.7,391.4 233.5,390.0 233.3,394.9 233.1,395.2 232.9,395.9 232.7,394.3 232.5,393.0 232.3,396.4 232.1,392.6 231.9,396.0 231.7,397.2 231.5,392.9 231.3,393.3 231.1,392.3 230.9,392.1 230.7,391.8 230.5,393.1 230.3,395.9 230.1,392.8 229.9,398.3 229.7,400.5 229.5,403.3 229.3,406.1 229.1,406.2 228.9,406.2 228.7,412.6 228.5,409.1 228.3,412.2 228.1,406.8 227.9,406.4 227.7,415.4 227.5,415.2 227.3,410.8 227.1,417.5 226.9,411.3 226.7,416.3 226.5,409.2 226.3,413.7 226.1,418.5 225.9,413.2 225.7,417.3 225.5,418.3 225.3,417.5 225.1,418.1 224.9,415.0 224.7,417.4 224.5,417.5 224.3,419.8 224.1,418.1 223.9,420.4 223.7,425.5 223.5,422.0 223.3,420.8 223.1,421.4 222.9,421.6 222.7,421.4 222.5,424.7 222.3,426.0 222.1,427.2 221.9,418.7 221.7,427.0 221.5,425.5 221.3,424.8 221.1,427.7 220.9,426.6 220.7,430.5 220.5,424.6 220.3,424.8 220.1,426.8 219.9,422.7 219.7,425.5 219.5,427.4 219.3,426.0 219.1,430.2 218.9,426.4 218.7,427.5 218.5,432.6 218.3,429.3 218.1,432.3 217.9,430.5 217.7,436.9 217.5,432.6 217.3,432.8 217.1,436.9 216.9,431.9 216.7,435.4 216.5,433.4 216.3,436.2 216.1,434.5 215.9,436.5 215.7,438.4 215.5,437.2 215.3,443.6 215.1,439.3 214.9,437.9 214.7,436.0 214.5,439.8 214.3,442.8 214.1,443.3 213.9,440.8 213.7,436.1 213.5,440.0 213.3,441.1 213.1,442.8 212.9,435.2 212.7,439.6 212.5,437.7 212.3,436.1 212.1,439.7 211.9,435.9 211.7,442.9 211.5,441.8 211.3,435.5 211.1,446.1 210.9,441.5 210.7,438.6 210.5,440.1 210.3,442.2 210.1,441.1 209.9,442.5 209.7,442.8 209.5,439.0 209.3,439.7 209.1,435.5 208.9,442.6 208.7,436.0 208.5,438.4 208.3,442.0 208.1,439.5 207.9,445.4 207.7,443.5 207.5,440.8 207.3,443.0 207.1,440.0 206.9,437.0 206.7,445.5 206.5,446.5 206.3,440.2 206.1,441.0 205.9,443.1 205.7,439.3 205.5,441.6 205.3,442.6 205.1,441.6 204.9,434.4 204.7,439.0 204.5,437.6 204.3,439.4 204.1,437.8 203.9,441.7 203.7,440.0 203.5,438.7 203.3,438.6 203.1,442.6 202.9,440.2 202.7,441.0 202.5,442.2 202.3,443.1 202.1,444.3 201.9,442.2 201.7,441.1 201.5,438.5 201.3,437.9 201.1,438.8 200.9,443.3 200.7,437.9 200.5,445.4 200.3,441.3 200.1,438.4 199.9,440.3 199.7,445.6 199.5,440.0 199.3,442.7 199.1,436.5 198.9,438.3 198.7,441.5 198.5,437.7 198.3,444.3 198.1,438.0 197.9,445.1 197.7,443.7 197.5,441.8 197.3,440.7 197.1,447.2 196.9,447.0 196.7,444.3 196.5,446.6 196.3,452.2 196.1,445.8 195.9,455.0 195.7,453.1 195.5,454.0 195.3,460.4 195.1,456.9 194.9,463.6 194.7,465.4 194.5,463.5 194.3,465.0 194.1,462.9 193.9,467.8 193.7,467.6 193.5,463.0 193.3,464.7 193.1,464.4 192.9,472.2 192.7,467.1 192.5,462.9 192.3,465.3 192.1,461.6 191.9,468.6 191.7,465.9 191.5,466.0 191.3,468.8 191.1,471.7 190.9,474.1 190.7,469.7 190.5,470.4 190.3,468.9 190.1,471.5 189.9,470.8 189.7,468.1 189.5,472.2 189.3,471.0 189.1,469.5 188.9,473.5 188.7,474.8 188.5,469.1 188.3,477.0 188.1,477.5 187.9,474.4 187.7,471.3 187.5,473.7 187.3,470.3 187.1,477.2 186.9,475.7 186.7,474.7 186.5,475.9 186.3,474.5 186.1,475.8 185.9,476.7 185.7,475.0 185.5,477.6 185.3,479.8 185.1,480.8 184.9,478.2 184.7,481.9 184.5,477.6 184.3,484.9 184.1,483.9 183.9,478.3 183.7,482.3 183.5,482.9 183.3,481.0 183.1,481.8 182.9,485.8 182.7,487.4 182.5,484.3 182.3,487.7 182.1,490.4 181.9,482.5 181.7,486.2 181.5,486.8 181.3,494.1 181.1,482.1 180.9,488.7 180.7,485.2 180.5,487.9 180.3,490.2 180.1,483.8 179.9,489.1 179.7,488.6 179.5,487.2 179.3,488.7 179.1,488.9 178.9,488.7 178.7,490.2 178.5,488.1 178.3,491.0 178.1,488.1 177.9,493.0 177.7,484.3 177.5,484.5 177.3,486.7 177.1,494.8 176.9,487.4 176.7,491.6 176.5,495.1 176.3,491.6 176.1,489.2 175.9,491.6 175.7,491.0 175.5,495.4 175.3,489.1 175.1,493.7 174.9,489.5 174.7,489.2 174.5,492.7 174.3,493.5 174.1,492.2 173.9,489.9 173.7,490.2 173.5,490.4 173.3,486.9 173.1,486.0 172.9,487.2 172.7,487.3 172.5,481.7 172.3,488.5 172.1,491.6 171.9,484.6 171.7,479.7 171.5,485.9 171.3,482.9 171.1,485.8 170.9,479.1 170.7,484.0 170.5,480.5 170.3,480.1 170.1,477.6 169.9,479.3 169.7,476.7 169.5,480.7 169.3,477.4 169.1,477.8 168.9,476.7 168.7,469.6 168.5,471.5 168.3,470.0 168.1,472.4 167.9,468.6 167.7,473.3 167.5,469.6 167.3,468.8 167.1,465.3 166.9,471.0 166.7,461.4 166.5,464.6 166.3,467.4 166.1,464.1 165.9,460.9 165.7,466.3 165.5,467.7 165.3,461.4 165.1,460.0 164.9,458.3 164.7,455.9 164.5,461.2 164.3,457.1 164.1,456.5 163.9,459.5 163.7,458.7 163.5,452.5 163.3,450.7 163.1,455.4 162.9,452.7 162.7,453.9 162.5,457.0 162.3,451.0 162.1,453.9 161.9,456.5 161.7,459.6 161.5,455.3 161.3,458.1 161.1,456.8 160.9,460.0 160.7,459.4 160.5,453.7 160.3,461.3 160.1,458.4 159.9,462.1 159.7,456.3 159.5,462.2 159.3,455.7 159.1,463.6 158.9,461.1 158.7,455.1 158.5,458.0 158.3,461.7 158.1,462.4 157.9,456.6 157.7,460.3 157.5,457.7 157.3,457.2 157.1,459.4 156.9,455.9 156.7,453.0 156.5,459.7 156.3,459.7 156.1,454.1 155.9,458.5 155.7,462.6 155.5,459.7 155.3,457.8 155.1,454.6 154.9,453.8 154.7,445.7 154.5,452.5 154.3,450.4 154.1,450.4 153.9,450.3 153.7,453.6 153.5,451.3 153.3,449.4 153.1,445.3 152.9,447.1 152.7,449.4 152.5,451.5 152.3,447.3 152.1,449.4 151.9,444.7 151.7,447.0 151.5,444.4 151.3,442.0 151.1,441.4 150.9,445.7 150.7,446.1 150.5,441.3 150.3,446.6 150.1,439.0 149.9,447.5 149.7,444.7 149.5,438.6 149.3,438.7 149.1,441.9 148.9,442.5 148.7,444.6 148.5,440.7 148.3,442.5 148.1,442.9 147.9,437.2 147.7,438.3 147.5,430.0 147.3,434.4 147.1,425.3 146.9,427.2 146.7,434.5 146.5,425.4 146.3,423.0 146.1,417.3 145.9,424.5 145.7,421.3 145.5,420.3 145.3,423.7 145.1,415.8 144.9,417.1 144.7,415.1 144.5,411.3 144.3,419.2 144.1,415.2 143.9,414.8 143.7,409.7 143.5,408.7 143.3,411.1 143.1,405.8 142.9,410.7 142.7,410.3 142.5,405.7 142.3,406.2 142.1,409.0 141.9,404.0 141.7,403.8 141.5,404.2 141.3,402.6 141.1,401.4 140.9,405.3 140.7,396.8 140.5,395.2 140.3,395.5 140.1,395.8 139.9,395.7 139.7,390.1 139.5,394.7 139.3,393.0 139.1,395.3 138.9,387.3 138.7,387.5 138.5,391.0 138.3,388.1 138.1,385.5 137.9,384.0 137.7,384.9 137.5,382.0 137.3,379.6 137.1,380.8 136.9,379.6 136.7,376.5 136.5,371.5 136.3,374.6 136.1,374.7 135.9,375.1 135.7,377.0 135.5,372.3 135.3,369.5 135.1,368.5 134.9,374.7 134.7,365.8 134.5,365.0 134.3,364.6 134.1,367.7 133.9,368.7 133.7,358.6 133.5,368.4 133.3,362.6 133.1,361.3 132.9,362.6 132.7,359.7 132.5,357.6 132.3,356.9 132.1,355.8 131.9,357.6 131.7,349.7 131.5,354.2 131.3,354.5 131.1,360.6 130.9,347.9 130.7,345.4 130.5,351.6 130.3,351.5 130.1,351.1 129.9,346.1 129.7,349.6 129.5,350.0 129.3,351.2 129.1,351.3 128.9,349.4 128.7,349.9 128.5,345.1 128.3,350.2 128.1,350.9 127.9,351.6 127.7,352.7 127.5,353.0 127.3,349.9 127.1,349.9 126.9,350.6 126.7,350.5 126.5,351.7 126.3,344.7 126.1,351.3 125.9,349.1 125.7,351.6 125.5,347.0 125.3,351.0 125.1,345.7 124.9,345.7 124.7,344.5 124.5,345.0 124.3,345.8 124.1,342.7 123.9,346.1 123.7,337.6 123.5,345.7 123.3,342.4 123.1,344.4 122.9,344.5 122.7,343.7 122.5,336.6 122.3,340.9 122.1,340.5 121.9,342.7 121.7,341.4 121.5,338.8 121.3,336.3 121.1,338.9 120.9,330.2 120.7,338.7 120.5,339.2Z" fill="#0072B2" fill-opacity=".2" stroke="#0072B2" stroke-opacity=".2" stroke-width="1.2" stroke-linejoin="round"/>
<path d="M94.5,15.5V542.5M229.5,15.5V542.5M364.5,15.5V542.5M499.5,15.5V542.5M634.5,15.5V542.5M770.5,15.5V542.5M905.5,15.5V542.5" stroke="#808080" stroke-opacity=".2" stroke-width="1.39" fill="none"/>
<path d="M79.5,506.5H985.5M79.5,414.5H985.5M79.5,321.5H985.5M79.5,229.5H985.5M79.5,137.5H985.5M79.5,44.5H985.5" stroke="#808080" stroke-opacity=".2" stroke-width="1.39" fill="none"/>
<path d="M121.5,387.0h0M121.5,379.0h0M121.7,364.0h0M121.5,353.0h0M121.5,346.0h0M121.5,339.0h0M121.5,325.0h0M122.0,321.0h0M122.5,307.0h0M123.3,208.0h0M122.4,213.3h0M123.3,224.3h0M122.3,231.0h0M123.2,234.5h0M123.3,240.5h0M123.0,245.0h0M128.3,245.0h0M128.5,247.5h0M127.0,316.5h0M126.5,330.0h0M127.0,336.0h0M127.5,343.0h0M134.0,338.0h0M134.5,341.0h0M122.1,266.8h0M122.2,255.6h0M122.3,245.3h0M122.5,246.5h0M122.6,260.8h0M122.8,276.1h0M122.9,272.2h0M123.0,271.9h0M123.2,264.8h0M123.3,264.8h0M123.4,263.9h0M123.6,267.5h0M123.7,275.5h0M123.8,280.5h0M124.0,286.6h0M124.1,271.4h0M124.2,283.6h0M124.4,283.2h0M124.5,264.7h0M124.7,265.3h0M124.8,254.9h0M124.9,253.4h0M125.1,279.7h0M125.2,265.5h0M125.3,273.9h0M125.5,281.0h0M125.6,269.8h0M125.7,294.6h0M125.9,269.2h0M126.0,278.0h0M126.1,292.2h0M126.3,292.5h0M126.4,283.6h0M126.5,272.4h0M126.7,254.5h0M126.8,285.7h0M126.9,287.8h0M127.1,264.4h0M127.2,261.1h0M127.3,246.6h0M127.4,258.0h0M127.6,245.5h0M127.7,267.4h0M127.8,277.7h0M128.0,286.4h0M128.1,292.6h0M128.2,266.7h0M128.4,280.0h0M128.5,258.5h0M128.6,261.2h0M128.8,270.8h0M128.9,255.6h0M129.0,248.7h0M129.2,250.8h0M129.3,286.1h0M129.4,274.0h0M129.6,291.4h0M129.7,294.8h0M129.8,292.4h0M130.0,285.2h0M130.1,292.5h0M130.2,281.1h0M130.4,279.2h0M130.5,276.0h0M130.7,283.1h0M130.8,281.7h0M130.9,278.1h0M131.1,290.4h0M131.2,277.5h0M131.3,287.1h0M131.5,285.5h0M131.6,285.2h0M131.7,286.8h0M131.9,294.5h0M132.0,299.9h0M132.1,292.9h0M132.3,279.2h0M132.4,279.6h0M132.5,280.7h0M132.7,280.4h0M132.8,281.6h0M133.0,293.5h0M133.1,293.3h0M133.2,291.2h0M133.4,290.2h0M133.5,286.0h0M133.6,286.4h0M133.8,282.3h0M133.9,293.9h0M134.0,288.6h0M134.2,296.4h0M134.3,285.4h0M134.4,294.7h0M134.6,289.8h0M134.7,291.1h0M134.8,292.6h0M135.0,298.7h0M135.1,295.2h0M135.3,295.2h0M135.4,299.6h0M135.5,291.4h0M135.7,294.3h0M135.8,300.2h0M135.9,290.7h0M135.1,291.3h0M135.2,297.2h0M135.3,310.7h0M135.5,318.1h0M135.6,313.2h0M135.7,309.2h0M135.9,306.8h0M136.0,311.3h0M136.1,317.7h0M136.3,304.4h0M136.4,315.8h0M136.5,311.1h0M136.7,319.2h0M136.8,315.1h0M136.9,306.1h0M137.1,309.8h0M137.2,317.1h0M137.3,325.0h0M137.5,314.1h0M137.6,324.6h0M137.8,313.0h0M137.9,307.8h0M138.0,323.5h0M138.2,318.4h0M138.3,319.6h0M138.4,323.0h0M138.6,323.9h0M138.7,319.5h0M138.8,327.1h0M139.0,322.6h0M139.1,324.0h0M139.2,327.7h0M139.4,335.5h0M139.5,335.2h0M139.6,329.7h0M139.8,324.8h0M139.9,328.4h0M140.0,334.8h0M140.2,346.8h0M140.3,346.0h0M140.4,348.2h0M140.6,337.1h0M140.7,334.5h0M140.8,349.3h0M141.0,338.7h0M141.1,347.3h0M141.2,343.2h0M141.4,337.3h0M141.5,337.6h0M141.6,345.9h0M141.8,338.4h0M141.9,334.1h0M142.0,342.3h0M142.2,344.9h0M142.3,342.0h0M142.4,346.8h0M142.6,352.3h0M142.7,351.0h0M142.8,361.6h0M143.0,350.4h0M143.1,354.9h0M143.2,348.1h0M143.4,357.3h0M143.5,361.9h0M143.7,351.6h0M143.8,356.6h0M143.9,354.4h0M144.1,361.2h0M144.2,362.6h0M144.3,359.7h0M144.5,357.9h0M144.6,356.2h0M144.7,364.7h0M144.9,360.7h0M145.0,365.8h0M145.1,360.6h0M145.3,358.3h0M145.4,370.5h0M145.5,363.1h0M145.7,370.4h0M145.8,355.2h0M145.9,367.1h0M146.1,372.2h0M146.2,376.4h0M146.3,377.2h0M146.5,380.6h0M146.6,373.7h0M146.7,379.4h0M146.9,380.0h0M147.0,380.4h0M147.1,385.7h0M147.2,391.0h0M147.4,392.6h0M147.5,390.0h0M147.6,392.6h0M147.8,399.5h0M147.9,403.2h0M148.0,406.4h0M148.2,407.8h0M148.3,408.6h0M148.4,412.7h0M149.6,430.9h0M149.7,432.1h0M149.8,434.0h0M150.0,435.8h0M150.1,434.2h0M150.2,434.0h0M150.4,435.7h0M150.5,437.3h0M150.6,436.1h0M150.8,439.0h0M150.9,437.4h0M151.0,442.0h0M151.1,442.7h0M151.3,441.0h0M151.4,443.9h0M151.5,445.5h0M151.7,446.1h0M151.8,447.5h0M151.9,446.8h0M151.1,444.7h0M151.2,446.7h0M151.3,442.0h0M151.5,440.5h0M151.6,443.3h0M151.7,443.8h0M151.9,443.4h0M152.0,453.0h0M152.1,447.0h0M152.3,441.3h0M152.4,444.6h0M152.5,440.0h0M152.7,441.8h0M152.8,438.0h0M152.9,457.4h0M153.1,444.5h0M153.2,437.8h0M153.3,454.1h0M153.5,444.4h0M153.6,451.0h0M153.7,453.8h0M153.9,442.8h0M154.0,449.5h0M154.1,450.0h0M154.3,456.1h0M154.4,458.0h0M154.5,449.1h0M154.7,450.6h0M154.8,444.6h0M154.9,448.5h0M155.1,449.8h0M155.2,448.4h0M155.3,454.1h0M155.5,448.2h0M155.6,442.6h0M155.7,446.4h0M155.9,450.4h0M156.0,455.2h0M156.1,454.0h0M156.3,461.4h0M156.4,447.3h0M156.5,452.8h0M156.7,445.9h0M156.8,447.1h0M156.9,443.8h0M157.1,453.5h0M157.2,451.7h0M157.3,441.6h0M157.5,445.2h0M157.6,454.1h0M157.7,455.9h0M157.9,445.8h0M158.0,449.4h0M158.1,445.7h0M158.3,444.1h0M158.4,447.0h0M158.5,449.0h0M158.7,448.3h0M158.8,444.9h0M158.9,439.4h0M159.1,458.2h0M159.2,457.3h0M159.3,455.4h0M159.5,455.1h0M159.6,456.5h0M159.7,460.3h0M159.9,462.5h0M160.0,463.8h0M160.1,456.8h0M160.3,458.6h0M160.4,457.9h0M160.5,456.8h0M160.7,455.9h0M160.8,453.4h0M160.9,458.1h0M161.1,460.2h0M161.2,455.1h0M161.3,458.0h0M161.5,459.3h0M161.6,465.8h0M161.7,458.0h0M161.9,461.0h0M162.0,463.5h0M162.1,462.4h0M162.3,460.5h0M162.4,460.6h0M162.5,466.4h0M162.7,466.4h0M162.8,465.5h0M162.9,463.9h0M163.1,457.3h0M163.2,460.8h0M163.3,462.6h0M163.5,462.4h0M163.6,461.9h0M163.7,461.4h0M163.9,462.3h0M164.0,465.0h0M164.1,462.6h0M164.3,459.4h0M164.4,458.1h0M164.5,460.5h0M164.7,455.6h0M164.8,459.3h0M164.9,462.8h0M165.1,459.1h0M165.2,457.2h0M165.3,459.6h0M165.5,459.0h0M165.6,454.4h0M165.7,453.0h0M165.9,455.4h0M166.0,459.7h0M166.1,458.2h0M166.3,457.4h0M166.4,458.3h0M166.5,464.5h0M166.7,461.5h0M166.8,460.7h0M166.9,457.9h0M167.1,462.1h0M167.2,457.6h0M167.3,455.4h0M167.5,455.7h0M167.6,455.0h0M167.7,460.0h0M167.9,457.7h0M168.0,460.4h0M168.1,465.3h0M168.3,463.8h0M168.4,461.8h0M168.5,459.6h0M168.7,461.1h0M168.8,463.7h0M168.9,463.1h0M169.1,466.7h0M169.2,463.8h0M169.3,464.3h0M169.5,462.1h0M169.6,458.1h0M169.7,465.1h0M169.9,467.1h0M170.0,463.2h0M170.1,463.7h0M170.3,465.4h0M170.4,464.5h0M170.5,469.4h0M170.7,464.7h0M170.8,460.4h0M170.9,464.0h0M171.1,462.7h0M171.2,466.0h0M171.3,464.7h0M171.5,465.0h0M171.6,463.8h0M171.7,467.9h0M171.9,464.0h0M172.0,464.4h0M172.1,465.0h0M172.3,463.5h0M172.4,459.9h0M172.6,463.8h0M172.7,463.8h0M172.8,464.3h0M173.0,459.9h0M173.1,457.3h0M173.2,460.7h0M173.4,462.3h0M173.5,459.8h0M173.6,457.0h0M173.8,457.3h0M173.9,461.8h0M174.0,463.1h0M174.2,457.2h0M174.3,458.7h0M174.4,459.9h0M174.6,459.3h0M174.7,459.2h0M174.9,459.9h0M175.0,457.9h0M175.1,455.5h0M175.3,454.9h0M175.4,454.8h0M175.5,455.4h0M175.7,449.7h0M175.8,453.6h0M175.9,454.9h0M176.1,452.0h0M176.2,450.6h0M176.3,449.9h0M176.5,452.4h0M176.6,454.2h0M176.7,452.3h0M176.9,450.9h0M177.0,454.8h0M177.1,456.2h0M177.3,452.8h0M177.4,454.4h0M177.6,453.5h0M177.7,449.3h0M177.8,451.7h0M178.0,445.9h0M178.1,450.7h0M178.2,451.8h0M178.4,448.2h0M178.5,447.0h0M178.6,447.9h0M178.8,447.5h0M178.9,445.0h0M179.0,441.1h0M179.2,442.9h0M179.3,449.6h0M179.4,447.9h0M179.6,445.3h0M179.7,446.0h0M179.8,447.4h0M180.0,440.8h0M180.1,442.9h0M180.2,443.7h0M180.4,445.7h0M180.5,445.3h0M180.7,447.4h0M180.8,450.8h0M180.9,446.1h0M181.1,445.6h0M181.2,450.5h0M181.3,447.6h0M181.5,442.6h0M181.6,440.7h0M181.7,443.0h0M181.9,442.4h0M182.0,445.1h0M182.1,443.0h0M182.3,440.7h0M182.4,447.6h0M182.5,447.8h0M182.7,448.5h0M182.8,445.2h0M182.9,446.9h0M183.1,448.2h0M183.2,448.0h0M183.4,448.7h0M183.5,447.1h0M183.6,449.7h0M183.8,446.9h0M183.9,447.3h0M184.0,444.8h0M184.2,441.3h0M184.3,439.6h0M184.4,446.7h0M184.7,440.8h0M184.4,433.8h0M184.9,428.1h0M185.1,421.9h0M184.9,415.3h0M184.8,410.7h0M183.6,415.6h0M183.7,421.4h0M183.8,416.6h0M184.0,419.2h0M184.1,424.9h0M184.2,421.2h0M184.4,424.9h0M184.5,425.1h0M184.7,420.9h0M184.8,420.7h0M184.9,423.0h0M185.1,423.6h0M185.2,422.4h0M185.3,426.8h0M185.5,425.9h0M185.6,426.3h0M185.8,427.4h0M185.9,426.2h0M186.0,424.3h0M186.2,431.3h0M186.3,430.5h0M186.4,426.5h0M195.0,420.0h0M188.1,405.8h0M188.2,407.5h0M188.3,405.1h0M188.5,404.5h0M188.6,402.8h0M188.7,402.3h0M188.9,398.8h0M189.0,399.4h0M189.1,394.2h0M189.3,391.0h0M189.4,394.8h0M189.5,403.6h0M189.7,392.8h0M189.8,392.2h0M189.9,392.1h0M190.1,398.3h0M190.2,397.4h0M190.3,401.6h0M190.5,404.5h0M190.6,399.3h0M190.7,395.6h0M190.9,392.9h0M191.0,394.2h0M191.1,398.6h0M191.3,399.9h0M191.4,398.7h0M191.5,402.3h0M191.7,404.0h0M191.8,400.3h0M191.9,401.5h0M192.1,395.5h0M192.2,395.2h0M192.3,391.9h0M192.5,397.6h0M192.6,398.2h0M192.7,409.0h0M192.9,404.4h0M193.0,404.8h0M193.1,390.9h0M193.3,398.1h0M193.4,400.0h0M193.5,407.7h0M193.7,401.9h0M193.8,409.2h0M193.9,402.0h0M194.1,402.6h0M194.2,410.0h0M194.3,407.5h0M194.5,404.1h0M194.6,406.9h0M194.7,398.0h0M194.9,394.8h0M195.0,402.5h0M195.1,402.0h0M195.3,398.1h0M195.4,392.0h0M195.5,393.1h0M195.7,386.0h0M195.8,399.6h0M195.9,396.9h0M186.1,399.0h0M186.2,399.4h0M186.3,398.1h0M186.5,398.0h0M186.6,393.6h0M186.7,389.4h0M186.9,392.7h0M187.0,391.1h0M187.1,386.1h0M187.3,384.7h0M187.4,382.8h0M187.5,381.6h0M187.7,378.5h0M187.8,379.1h0M188.0,374.5h0M188.1,375.6h0M188.2,378.2h0M188.4,373.5h0M188.5,372.1h0M188.6,373.3h0M188.8,370.6h0M188.9,370.5h0M189.0,372.7h0M189.2,370.0h0M189.3,368.4h0M189.4,368.5h0M189.6,369.5h0M189.7,367.3h0M189.8,370.4h0M190.0,376.1h0M190.1,378.9h0M190.2,380.7h0M190.4,376.0h0M190.5,380.2h0M190.6,384.5h0M190.8,388.5h0M190.9,380.1h0M191.0,385.9h0M191.2,392.0h0M191.3,391.8h0M191.5,391.9h0M191.6,394.8h0M191.7,396.2h0M191.9,395.7h0M192.0,401.1h0M192.1,399.8h0M192.3,405.4h0M192.4,411.3h0M192.5,407.7h0M192.7,407.4h0M192.8,405.2h0M192.9,408.1h0M193.1,408.3h0M193.2,411.5h0M193.3,411.3h0M193.5,400.3h0M193.6,399.0h0M193.7,410.0h0M193.9,397.2h0M194.0,408.6h0M194.1,405.0h0M194.3,413.3h0M194.4,399.3h0M194.5,397.0h0M194.7,401.4h0M194.8,388.7h0M194.9,400.2h0M195.1,392.5h0M195.2,391.9h0M195.3,398.1h0M195.5,402.6h0M195.6,397.7h0M195.7,397.4h0M195.9,392.5h0M196.0,400.4h0M196.1,390.8h0M196.3,406.0h0M196.4,408.5h0M196.5,393.2h0M196.7,383.9h0M196.8,383.2h0M196.9,386.0h0M197.1,387.2h0M197.2,382.6h0M197.3,383.2h0M197.5,384.3h0M197.6,382.9h0M197.7,383.2h0M197.9,388.5h0M198.0,388.3h0M198.1,389.7h0M198.3,390.0h0M198.4,387.3h0M198.5,382.1h0M198.7,381.9h0M198.8,386.6h0M198.9,380.4h0M199.1,383.4h0M199.2,381.2h0M199.3,386.7h0M199.5,387.5h0M199.6,384.1h0M199.7,382.1h0M199.9,384.4h0M200.0,380.2h0M200.1,384.4h0M200.3,385.6h0M200.4,382.9h0M200.5,382.4h0M200.7,383.4h0M200.8,385.4h0M200.9,381.7h0M201.1,380.0h0M201.2,378.8h0M201.3,378.6h0M201.5,379.5h0M201.6,379.5h0M201.7,379.6h0M201.9,372.5h0M202.0,373.4h0M202.1,376.2h0M202.3,373.7h0M202.4,370.8h0M202.5,372.4h0M202.7,366.6h0M202.8,368.7h0M202.9,365.9h0M203.1,362.8h0M203.2,363.2h0M203.3,364.7h0M203.4,357.1h0M203.6,355.1h0M203.7,358.9h0M203.8,355.0h0M204.0,351.0h0M204.1,352.9h0M204.2,353.8h0M204.4,346.3h0M204.5,351.6h0M204.6,350.1h0M204.8,347.9h0M204.9,349.3h0M205.0,349.6h0M205.2,354.1h0M205.3,354.6h0M205.4,355.2h0M205.5,334.0h0M205.5,341.0h0M205.6,354.5h0M205.7,349.0h0M205.8,355.7h0M206.0,352.8h0M206.1,350.8h0M206.2,356.0h0M206.4,361.0h0M206.5,363.7h0M206.6,358.2h0M206.8,357.8h0M206.9,361.8h0M207.0,363.0h0M207.2,364.4h0M207.3,364.5h0M207.5,370.0h0M207.6,369.4h0M207.7,373.1h0M207.9,369.6h0M208.0,382.9h0M208.1,382.8h0M208.3,384.8h0M208.4,383.2h0M208.5,378.2h0M208.7,385.3h0M208.8,381.9h0M208.9,386.9h0M209.1,376.4h0M209.2,378.8h0M209.3,371.8h0M209.5,373.9h0M209.6,370.4h0M209.8,370.8h0M209.9,368.5h0M210.0,365.2h0M210.2,365.1h0M210.3,362.9h0M210.4,359.0h0M210.6,360.2h0M210.7,361.0h0M210.8,361.5h0M211.0,358.1h0M211.1,358.7h0M211.2,357.0h0M211.4,356.3h0M211.5,349.0h0M211.7,347.7h0M211.8,345.9h0M211.9,347.9h0M212.1,347.0h0M212.2,343.8h0M212.3,344.5h0M212.5,342.3h0M212.6,349.7h0M212.7,349.5h0M212.9,347.4h0M213.0,353.8h0M213.1,354.8h0M213.3,357.0h0M213.4,356.0h0M213.5,350.6h0M213.7,350.9h0M213.8,346.0h0M213.9,347.3h0M214.1,354.1h0M214.2,356.6h0M214.4,358.3h0M214.5,360.1h0M214.6,356.9h0M214.8,350.9h0M214.9,352.7h0M215.0,357.5h0M215.2,360.5h0M215.3,362.9h0M215.4,363.8h0M215.6,357.6h0M215.7,360.1h0M215.8,357.9h0M216.0,357.3h0M216.1,360.4h0M216.2,359.4h0M216.4,364.5h0M216.5,361.7h0M216.6,369.3h0M216.8,365.1h0M216.9,363.4h0M217.0,370.5h0M217.2,364.4h0M217.3,367.2h0M217.4,365.7h0M217.6,364.3h0M217.7,363.6h0M217.8,364.9h0M218.0,364.5h0M218.1,363.9h0M218.2,363.9h0M218.4,365.2h0M218.5,366.6h0M218.6,366.9h0M218.8,372.3h0M218.9,378.4h0M219.1,377.6h0M219.2,375.4h0M219.3,377.8h0M219.5,372.6h0M219.6,374.7h0M219.7,374.8h0M219.9,372.5h0M220.0,372.1h0M220.1,376.4h0M220.3,381.0h0M220.4,375.3h0M220.5,377.7h0M220.7,375.5h0M220.8,383.0h0M220.9,387.7h0M221.1,382.9h0M221.2,382.1h0M221.3,398.1h0M221.5,394.4h0M221.6,395.7h0M221.7,403.6h0M221.9,401.6h0M222.0,398.7h0M222.1,399.2h0M222.3,401.8h0M222.4,399.6h0M222.5,393.2h0M222.7,391.4h0M222.8,389.1h0M222.9,388.5h0M223.1,390.2h0M223.2,389.7h0M223.3,393.9h0M223.5,389.3h0M223.6,379.1h0M223.7,387.5h0M223.9,398.1h0M224.0,390.0h0M224.1,385.8h0M224.3,386.9h0M224.4,388.5h0M224.5,384.3h0M224.7,391.4h0M224.8,386.0h0M224.9,379.9h0M225.1,379.5h0M225.2,383.1h0M225.4,385.0h0M225.5,396.6h0M225.6,386.4h0M225.8,384.2h0M225.9,397.4h0M226.0,398.3h0M226.2,399.4h0M226.3,386.8h0M226.4,389.6h0M226.6,386.9h0M226.7,385.3h0M226.8,381.3h0M227.0,381.6h0M227.1,387.9h0M227.2,380.7h0M227.4,388.0h0M227.5,393.7h0M227.6,388.7h0M227.8,394.1h0M227.9,388.5h0M228.0,387.2h0M228.2,398.0h0M228.3,405.9h0M228.4,399.3h0M228.6,397.8h0M228.7,406.5h0M228.8,398.6h0M229.0,388.7h0M229.1,385.3h0M229.2,388.7h0M229.4,385.4h0M229.5,392.8h0M229.6,387.1h0M229.8,395.8h0M229.9,398.0h0M230.0,386.7h0M230.2,400.6h0M230.3,382.5h0M230.4,398.2h0M230.6,385.7h0M230.7,380.1h0M230.8,381.4h0M231.0,397.8h0M231.1,394.3h0M231.2,396.2h0M231.4,406.8h0M231.5,406.9h0M231.6,406.2h0M231.8,398.1h0M231.9,393.7h0M232.0,391.8h0M232.2,390.2h0M232.3,391.8h0M232.4,393.9h0M232.6,393.5h0M232.7,392.3h0M232.8,399.2h0M233.0,401.8h0M233.1,393.3h0M233.2,397.5h0M233.4,395.2h0M233.5,398.7h0M233.6,406.0h0M233.8,407.0h0M233.9,406.6h0M234.1,392.6h0M234.2,393.1h0M234.3,384.1h0M234.5,390.3h0M234.6,396.9h0M234.7,395.1h0M234.9,404.6h0M235.0,402.1h0M235.1,395.9h0M235.3,400.6h0M235.4,390.4h0M235.5,409.8h0M235.7,402.8h0M235.8,400.2h0M235.9,409.4h0M236.1,397.8h0M236.2,398.7h0M236.3,397.1h0M236.5,398.9h0M236.6,396.0h0M236.7,390.3h0M236.9,386.6h0M237.0,389.8h0M237.1,400.4h0M237.3,404.6h0M237.4,404.6h0M237.5,404.4h0M237.7,404.1h0M237.8,386.4h0M237.9,394.5h0M238.1,386.7h0M238.2,381.7h0M238.3,380.3h0M238.5,379.7h0M238.6,380.7h0M238.7,381.3h0M238.9,380.0h0M239.0,375.6h0M239.1,373.5h0M239.3,372.8h0M239.4,368.8h0M239.5,366.9h0M239.7,366.5h0M239.8,365.1h0M240.0,365.9h0M240.1,367.1h0M240.2,366.7h0M240.4,367.3h0M240.5,364.6h0M240.6,362.0h0M240.8,364.3h0M240.9,362.9h0M241.0,362.3h0M241.2,360.7h0M241.3,356.2h0M241.4,357.8h0M241.6,368.2h0M241.7,369.8h0M241.8,362.1h0M242.0,368.2h0M242.1,372.4h0M242.2,368.7h0M242.4,373.1h0M242.5,373.6h0M242.6,369.9h0M242.8,371.6h0M242.9,364.8h0M243.0,362.8h0M243.2,364.5h0M243.3,363.8h0M243.4,365.3h0M243.6,367.7h0M243.7,361.4h0M243.8,364.1h0M243.9,364.4h0M244.1,369.0h0M244.2,372.0h0M244.3,370.0h0M244.5,364.6h0M244.6,368.1h0M244.7,365.0h0M244.9,374.1h0M245.0,362.1h0M245.1,367.6h0M245.3,365.9h0M245.4,373.7h0M245.5,375.1h0M245.7,367.7h0M245.8,368.3h0M245.9,375.8h0M246.1,322.2h0M246.2,324.1h0M246.3,328.5h0M246.5,321.9h0M246.6,327.3h0M246.7,336.1h0M246.9,334.2h0M247.0,338.6h0M247.1,324.4h0M247.3,328.9h0M247.4,335.5h0M247.5,339.0h0M247.7,335.1h0M247.8,336.8h0M247.9,334.8h0M248.1,332.5h0M248.2,338.4h0M248.3,335.2h0M248.5,331.9h0M248.6,337.4h0M248.7,335.3h0M248.9,338.2h0M249.0,340.1h0M249.1,329.4h0M249.3,326.1h0M249.4,334.5h0M249.5,333.1h0M249.7,336.1h0M249.8,346.9h0M249.9,348.1h0M250.1,335.8h0M250.2,335.8h0M250.3,336.0h0M250.5,329.9h0M250.6,329.6h0M250.7,327.8h0M250.9,326.3h0M251.0,336.3h0M251.1,325.6h0M251.3,328.0h0M251.4,328.1h0M251.5,327.9h0M251.7,337.2h0M251.8,324.2h0M251.9,329.0h0M252.1,328.0h0M252.2,329.8h0M252.3,331.1h0M252.5,331.7h0M252.6,328.8h0M252.7,324.5h0M252.9,323.3h0M253.0,315.8h0M253.1,317.0h0M253.3,318.9h0M253.4,316.4h0M253.5,320.8h0M253.7,315.1h0M253.8,317.0h0M253.9,315.6h0M253.5,313.0h0M255.0,315.0h0M254.1,315.0h0M254.2,324.9h0M254.3,328.8h0M254.5,333.4h0M254.6,328.6h0M254.7,327.8h0M254.9,326.7h0M255.0,331.4h0M255.1,330.7h0M255.3,328.2h0M255.4,331.6h0M255.5,330.7h0M255.7,335.1h0M255.8,341.9h0M255.9,335.0h0M256.1,342.8h0M256.2,339.1h0M256.3,339.0h0M256.5,341.6h0M256.6,330.1h0M256.7,339.8h0M256.9,342.9h0M257.0,346.6h0M257.1,349.9h0M257.3,347.8h0M257.4,345.5h0M257.5,345.5h0M257.7,345.8h0M257.8,348.2h0M257.9,342.1h0M258.1,350.5h0M258.2,349.3h0M258.3,347.6h0M258.5,348.4h0M258.6,347.2h0M258.7,340.0h0M258.9,338.3h0M259.0,339.4h0M259.1,333.1h0M259.3,338.8h0M259.4,333.6h0M259.5,340.7h0M259.7,349.0h0M259.8,344.7h0M259.9,337.3h0M260.1,350.0h0M260.2,351.1h0M260.3,339.2h0M260.5,346.8h0M260.6,331.0h0M260.7,332.1h0M260.9,338.1h0M261.0,337.7h0M261.1,330.7h0M261.3,352.2h0M261.4,348.3h0M261.5,352.0h0M261.7,344.4h0M261.8,342.5h0M261.9,327.4h0M262.1,336.1h0M262.2,331.9h0M262.3,326.5h0M262.5,336.5h0M262.6,332.1h0M262.7,324.1h0M262.9,331.0h0M263.0,324.9h0M263.1,329.4h0M263.2,322.7h0M263.4,330.1h0M263.5,326.6h0M263.6,332.9h0M263.8,336.7h0M263.9,332.0h0M264.0,330.0h0M264.2,324.0h0M264.3,326.4h0M264.4,322.4h0M265.5,189.0h0M266.0,198.0h0M266.5,207.0h0M266.0,212.0h0M266.5,219.0h0M266.5,227.0h0M266.5,232.0h0M266.0,237.0h0M264.9,261.9h0M265.0,265.7h0M265.1,255.2h0M265.3,249.5h0M265.4,262.3h0M265.5,248.3h0M265.7,254.7h0M265.8,263.2h0M265.9,269.2h0M266.1,247.5h0M266.2,254.0h0M266.3,261.8h0M266.5,271.1h0M266.6,264.4h0M266.7,274.3h0M266.9,258.7h0M267.0,266.0h0M267.1,260.1h0M267.3,245.8h0M267.4,254.8h0M267.5,263.1h0M267.7,269.6h0M267.8,255.1h0M267.9,272.2h0M268.1,260.7h0M268.2,270.1h0M268.3,259.2h0M268.5,257.9h0M268.6,261.1h0M268.7,259.9h0M268.9,269.4h0M269.0,264.5h0M269.1,281.4h0M269.3,270.1h0M269.4,278.9h0M269.6,271.7h0M269.7,271.1h0M269.8,278.4h0M270.0,274.2h0M270.1,267.7h0M270.2,264.5h0M270.4,270.4h0M270.5,264.0h0M270.6,269.7h0M270.8,263.5h0M270.9,268.6h0M271.0,273.1h0M271.2,253.7h0M271.3,264.4h0M271.4,264.2h0M271.6,277.9h0M271.7,269.8h0M271.8,280.3h0M272.0,280.6h0M272.1,274.4h0M272.2,270.8h0M272.4,267.7h0M272.5,268.8h0M272.6,264.1h0M272.8,277.8h0M272.9,260.3h0M273.0,258.1h0M273.2,250.4h0M273.3,264.8h0M273.4,267.5h0M264.5,288.5h0M275.0,286.0h0M274.0,288.0h0M274.5,298.0h0M274.1,290.1h0M274.2,297.3h0M274.3,295.7h0M274.5,298.4h0M274.6,301.4h0M274.7,302.9h0M274.9,297.1h0M275.0,302.1h0M275.1,298.7h0M275.3,305.4h0M275.4,315.3h0M275.5,309.3h0M275.7,318.6h0M275.8,319.6h0M275.9,320.4h0M276.1,323.0h0M276.2,318.4h0M276.3,316.7h0M276.5,322.8h0M276.6,322.3h0M276.8,313.4h0M276.9,314.3h0M277.0,322.2h0M277.2,332.2h0M277.3,326.2h0M277.4,323.5h0M277.6,327.5h0M277.7,330.7h0M277.8,324.4h0M278.0,327.3h0M278.1,326.9h0M278.2,327.1h0M278.4,330.2h0M278.5,329.4h0M278.7,329.9h0M278.8,331.9h0M278.9,337.1h0M279.1,337.7h0M279.2,341.8h0M279.3,335.5h0M279.5,336.7h0M279.6,333.2h0M279.8,330.9h0M279.9,345.7h0M280.0,336.9h0M280.2,340.0h0M280.3,337.4h0M280.4,338.6h0M280.6,346.8h0M280.7,345.9h0M280.8,344.1h0M281.0,347.3h0M281.1,345.3h0M281.2,343.3h0M281.4,345.8h0M281.5,341.4h0M281.7,341.2h0M281.8,356.2h0M281.9,350.4h0M282.1,340.2h0M282.2,344.3h0M282.3,346.3h0M282.5,345.7h0M282.6,344.4h0M282.7,349.0h0M282.9,350.7h0M283.0,351.6h0M283.1,354.1h0M283.3,355.5h0M283.4,366.5h0M283.5,367.9h0M283.7,363.1h0M283.8,364.1h0M283.9,363.4h0M283.9,365.0h0M283.8,371.9h0M283.7,372.0h0M283.6,376.7h0M281.8,374.0h0M282.0,380.1h0M281.9,384.6h0M282.3,391.2h0M282.3,395.8h0M282.2,401.7h0M286.1,382.8h0M286.2,387.5h0M286.3,388.2h0M286.5,385.4h0M286.6,389.3h0M286.7,386.0h0M286.9,391.4h0M287.0,395.9h0M287.1,386.0h0M287.3,392.0h0M287.4,388.3h0M287.6,388.0h0M287.7,387.2h0M287.8,391.4h0M288.0,390.6h0M288.1,387.1h0M288.2,388.4h0M288.4,386.3h0M288.5,389.6h0M288.6,387.4h0M288.8,390.0h0M288.9,389.6h0M289.0,391.2h0M289.2,387.7h0M289.3,393.2h0M289.4,388.9h0M289.6,389.2h0M289.7,389.7h0M289.9,392.4h0M290.0,388.5h0M290.1,384.8h0M290.3,388.0h0M290.4,388.1h0M290.5,387.6h0M290.7,393.3h0M290.8,394.1h0M290.9,397.2h0M291.1,390.9h0M291.2,385.1h0M291.3,389.8h0M291.5,387.2h0M291.6,398.7h0M291.7,398.8h0M291.9,400.5h0M292.0,389.1h0M292.1,395.7h0M292.3,395.5h0M292.4,388.7h0M292.5,389.5h0M292.7,389.4h0M292.8,397.2h0M292.9,388.9h0M293.1,383.2h0M293.2,385.5h0M293.3,385.5h0M293.5,392.0h0M293.6,392.4h0M293.7,394.0h0M293.9,393.0h0M294.0,400.0h0M294.1,404.2h0M294.3,399.6h0M294.4,398.4h0M294.5,396.2h0M294.7,400.8h0M294.8,399.6h0M294.9,393.3h0M295.1,394.0h0M295.2,398.1h0M295.3,398.1h0M295.5,393.0h0M295.6,404.9h0M295.7,405.4h0M295.9,401.1h0M296.0,397.4h0M296.1,402.0h0M296.3,403.9h0M296.4,402.4h0M296.5,409.7h0M296.7,408.0h0M296.8,402.5h0M296.9,403.5h0M297.1,405.6h0M297.2,403.6h0M297.3,405.7h0M297.5,407.4h0M297.6,408.2h0M297.7,410.7h0M297.9,414.9h0M298.0,409.0h0M298.1,418.7h0M298.3,414.4h0M298.4,415.0h0M298.5,411.9h0M298.7,412.5h0M298.8,409.0h0M298.9,410.3h0M299.1,406.8h0M299.2,410.2h0M299.3,410.6h0M299.5,414.1h0M299.6,417.1h0M299.7,415.2h0M299.9,412.5h0M300.0,410.9h0M300.1,410.6h0M300.3,418.5h0M300.4,419.2h0M300.5,410.1h0M300.7,412.5h0M300.8,417.1h0M300.9,413.6h0M301.1,413.3h0M301.2,414.1h0M301.3,415.5h0M301.5,421.7h0M301.6,419.8h0M301.7,422.7h0M301.9,415.2h0M302.0,422.1h0M302.1,420.4h0M302.3,423.8h0M302.4,424.3h0M302.5,423.2h0M302.7,416.5h0M302.8,414.1h0M302.9,411.5h0M303.1,414.8h0M303.2,416.6h0M303.3,419.7h0M303.5,411.7h0M303.6,411.5h0M303.7,417.9h0M303.9,417.3h0M304.0,417.0h0M304.1,410.8h0M304.3,418.2h0M304.4,415.1h0M304.5,413.5h0M304.7,415.1h0M304.8,417.2h0M305.0,415.4h0M305.1,415.1h0M305.2,417.2h0M305.4,415.3h0M305.5,416.8h0M305.6,414.5h0M305.8,417.7h0M305.9,417.7h0M306.0,426.1h0M306.2,423.4h0M306.3,423.6h0M306.4,425.9h0M306.6,423.0h0M306.7,427.0h0M306.8,426.9h0M307.0,428.8h0M307.1,421.9h0M307.2,426.7h0M307.4,426.9h0M307.5,434.1h0M307.6,433.3h0M307.8,433.1h0M307.9,420.3h0M308.0,422.5h0M308.2,428.8h0M308.3,429.3h0M308.5,435.6h0M308.6,431.0h0M308.7,429.2h0M308.9,426.5h0M309.0,426.6h0M309.1,427.1h0M309.3,431.0h0M309.4,432.0h0M309.5,436.6h0M309.7,436.3h0M309.8,433.0h0M309.9,436.5h0M310.1,434.9h0M310.2,439.9h0M310.3,435.5h0M310.5,431.2h0M310.6,435.5h0M310.7,436.8h0M310.9,432.4h0M311.0,439.1h0M311.1,437.5h0M311.3,432.7h0M311.4,437.9h0M311.5,432.5h0M311.7,436.5h0M311.8,438.4h0M311.9,438.1h0M312.1,432.8h0M312.2,436.3h0M312.3,437.6h0M312.5,439.8h0M312.6,441.5h0M312.7,439.9h0M312.9,439.9h0M313.0,435.6h0M313.1,433.4h0M313.3,433.0h0M313.4,435.7h0M313.5,440.0h0M313.7,432.3h0M313.8,432.2h0M313.9,436.6h0M314.1,441.9h0M314.2,436.2h0M314.3,435.9h0M314.5,438.8h0M314.6,441.1h0M314.7,433.9h0M314.9,435.8h0M315.0,431.5h0M315.1,438.6h0M315.3,434.7h0M315.4,437.4h0M315.5,434.2h0M315.7,437.1h0M315.8,435.4h0M315.9,444.9h0M316.1,440.4h0M316.2,438.1h0M316.3,440.1h0M316.5,446.7h0M316.6,435.6h0M316.7,439.6h0M316.9,439.0h0M317.0,435.3h0M317.1,443.5h0M317.3,446.5h0M317.4,449.1h0M317.5,442.6h0M317.7,443.9h0M317.8,448.0h0M317.9,449.2h0M318.1,444.1h0M318.2,448.0h0M318.3,450.6h0M318.5,445.4h0M318.6,446.3h0M318.7,445.3h0M318.9,444.8h0M319.0,441.8h0M319.1,444.5h0M319.3,444.1h0M319.4,449.7h0M319.5,445.9h0M319.7,448.4h0M319.8,445.3h0M320.0,441.9h0M320.1,443.8h0M320.2,442.6h0M320.4,441.8h0M320.5,445.0h0M320.6,444.4h0M320.8,445.1h0M320.9,445.0h0M321.0,440.3h0M321.2,439.4h0M321.3,449.5h0M321.4,444.4h0M321.6,450.2h0M321.7,445.5h0M321.8,448.4h0M322.0,443.1h0M322.1,440.7h0M322.2,442.6h0M322.4,440.9h0M322.5,446.3h0M322.6,448.9h0M322.8,442.5h0M322.9,443.8h0M323.0,446.5h0M323.2,451.6h0M323.3,456.0h0M323.5,447.0h0M323.6,452.1h0M323.7,453.5h0M323.9,451.3h0M324.0,445.6h0M324.1,447.5h0M324.3,455.5h0M324.4,449.5h0M324.5,450.0h0M324.7,454.9h0M324.8,456.3h0M324.9,450.4h0M325.1,449.6h0M325.2,453.4h0M325.3,451.7h0M325.5,450.7h0M325.6,452.6h0M325.7,454.4h0M325.9,451.0h0M326.0,450.4h0M326.1,453.1h0M326.3,454.6h0M326.4,451.0h0M326.5,457.2h0M326.7,457.4h0M326.8,455.4h0M327.0,454.2h0M327.1,451.7h0M327.2,456.7h0M327.4,454.7h0M327.5,456.1h0M327.6,456.4h0M327.8,451.7h0M327.9,453.1h0M328.0,452.6h0M328.2,451.9h0M328.3,451.8h0M328.4,460.2h0M328.6,456.7h0M328.7,457.5h0M328.8,457.8h0M329.0,459.1h0M329.1,459.5h0M329.2,456.8h0M329.4,453.4h0M329.5,455.7h0M329.6,452.6h0M329.8,449.2h0M329.9,455.0h0M330.0,454.0h0M330.2,458.7h0M330.3,452.4h0M330.5,451.4h0M330.6,452.6h0M330.7,460.0h0M330.9,460.5h0M331.0,458.2h0M331.1,459.1h0M331.3,454.1h0M331.4,458.2h0M331.5,458.9h0M331.7,456.8h0M331.8,457.3h0M331.9,462.6h0M293.0,417.0h0M293.0,423.0h0M332.1,461.0h0M332.2,459.9h0M332.3,459.9h0M332.5,460.3h0M332.6,461.4h0M332.7,460.3h0M332.9,459.3h0M333.0,460.3h0M333.1,458.6h0M333.3,461.4h0M333.4,459.3h0M333.5,459.3h0M333.7,460.9h0M333.8,460.3h0M333.9,458.1h0M334.1,460.7h0M334.2,461.3h0M334.3,461.0h0M334.5,458.8h0M334.6,460.9h0M334.7,461.8h0M334.9,462.7h0M335.0,461.3h0M335.1,460.8h0M335.3,461.3h0M335.4,464.5h0M335.5,463.3h0M335.7,458.2h0M335.8,459.0h0M335.9,457.7h0M336.1,458.9h0M336.2,458.9h0M336.3,460.2h0M336.5,459.8h0M336.6,461.8h0M336.7,462.5h0M336.9,464.1h0M337.0,463.5h0M337.1,463.5h0M337.3,461.5h0M337.4,460.6h0M337.5,459.6h0M337.7,463.5h0M337.8,462.0h0M337.9,462.8h0M338.1,455.8h0M338.2,454.9h0M338.3,453.5h0M338.5,452.2h0M338.6,449.4h0M338.7,449.3h0M338.9,448.2h0M339.0,444.2h0M339.1,442.2h0M339.2,442.3h0M339.4,441.7h0M339.5,440.5h0M339.6,440.7h0M339.8,440.1h0M339.9,438.9h0M340.0,436.7h0M340.2,433.2h0M340.3,430.8h0M340.4,429.5h0M340.6,428.4h0M340.7,430.0h0M340.8,429.7h0M341.0,431.3h0M341.1,428.4h0M341.2,427.6h0M341.4,427.0h0M341.5,429.1h0M341.6,426.4h0M341.8,423.5h0M341.9,426.3h0M342.0,424.8h0M342.2,428.5h0M342.3,429.4h0M342.4,427.9h0M342.6,427.8h0M342.7,427.9h0M342.8,429.6h0M343.0,426.7h0M343.1,429.0h0M343.2,429.1h0M343.4,431.1h0M343.5,428.5h0M343.7,429.3h0M343.8,428.7h0M343.9,431.6h0M344.1,429.2h0M344.2,430.9h0M344.3,430.5h0M344.5,427.7h0M344.6,430.1h0M344.7,430.3h0M344.9,431.1h0M345.0,429.2h0M345.1,430.9h0M345.3,427.4h0M345.4,426.9h0M345.5,427.0h0M345.7,427.1h0M345.8,428.1h0M345.9,425.4h0M346.1,428.8h0M346.2,429.4h0M346.3,429.6h0M346.5,430.1h0M346.6,431.3h0M346.7,434.4h0M346.9,433.3h0M347.0,433.9h0M347.1,434.4h0M347.3,433.9h0M347.4,436.8h0M347.5,437.4h0M347.7,437.3h0M347.8,440.7h0M347.9,439.8h0M348.1,440.7h0M348.2,440.8h0M348.3,439.7h0M348.5,440.2h0M348.6,439.4h0M348.7,441.2h0M348.9,443.1h0M349.0,444.6h0M349.1,443.8h0M349.3,443.2h0M349.4,444.3h0M349.5,445.0h0M349.7,447.4h0M349.8,446.7h0M349.9,448.0h0M350.1,448.8h0M350.2,447.9h0M350.3,448.2h0M350.5,447.9h0M350.6,452.1h0M350.7,450.8h0M350.9,452.7h0M351.0,450.6h0M351.1,450.0h0M351.3,451.9h0M351.4,453.7h0M351.5,450.3h0M351.7,450.7h0M351.8,452.4h0M351.9,455.9h0M352.1,455.5h0M352.2,455.5h0M352.3,457.1h0M352.5,459.6h0M352.6,462.3h0M352.7,460.4h0M352.9,462.2h0M353.0,461.2h0M353.1,459.9h0M353.3,458.0h0M353.4,460.3h0M353.6,459.9h0M353.7,462.8h0M353.8,462.4h0M354.0,464.4h0M354.1,464.3h0M354.2,464.4h0M354.4,462.5h0M354.5,465.6h0M354.6,466.0h0M354.8,466.2h0M354.9,467.7h0M355.0,467.9h0M355.2,469.3h0M355.3,467.0h0M355.4,468.3h0M355.6,468.8h0M355.7,469.7h0M355.9,470.3h0M356.0,473.5h0M356.1,471.5h0M356.3,469.2h0M356.4,470.7h0M356.5,472.2h0M356.7,472.3h0M356.8,472.0h0M356.9,474.1h0M356.1,479.9h0M356.2,477.9h0M356.3,476.8h0M356.5,478.3h0M356.6,478.1h0M356.7,477.3h0M356.9,477.7h0M357.0,478.3h0M357.1,477.7h0M357.3,478.0h0M357.4,479.6h0M357.5,477.4h0M357.7,479.1h0M357.8,476.5h0M357.9,476.3h0M358.1,473.9h0M358.2,474.2h0M358.3,474.7h0M358.5,475.5h0M358.6,474.2h0M358.7,472.5h0M358.9,474.3h0M359.0,471.7h0M359.1,473.9h0M359.3,471.4h0M359.4,471.7h0M359.5,470.4h0M359.7,469.3h0M359.8,468.1h0M360.0,467.7h0M360.1,469.1h0M360.2,470.4h0M360.4,469.2h0M360.5,469.0h0M360.6,469.1h0M360.8,468.7h0M360.9,469.0h0M361.0,467.5h0M361.2,467.7h0M361.3,469.0h0M361.4,467.8h0M361.6,468.6h0M361.7,468.5h0M361.8,468.4h0M362.0,465.4h0M362.1,467.7h0M362.2,467.6h0M362.4,468.0h0M362.5,466.6h0M362.6,468.2h0M362.8,464.9h0M362.9,467.9h0M363.0,467.1h0M363.2,467.6h0M363.3,468.6h0M363.5,468.5h0M363.6,467.1h0M363.7,467.0h0M363.9,468.9h0M364.0,467.9h0M364.1,467.1h0M364.3,467.5h0M364.4,464.2h0M364.5,465.9h0M364.7,463.7h0M364.8,466.6h0M364.9,464.9h0M365.1,462.3h0M365.2,463.0h0M365.3,464.6h0M365.5,466.7h0M365.6,464.8h0M365.7,462.9h0M365.9,463.6h0M366.0,462.2h0M366.1,460.9h0M366.3,461.7h0M366.4,460.3h0M366.5,461.4h0M366.7,463.8h0M366.8,463.6h0M366.9,463.2h0M367.1,463.7h0M367.2,465.0h0M367.3,467.2h0M367.5,466.7h0M367.6,465.3h0M367.7,464.1h0M367.9,463.3h0M368.0,463.7h0M368.1,463.6h0M368.3,463.8h0M368.4,462.6h0M368.6,462.5h0M368.7,464.1h0M368.8,467.0h0M369.0,466.5h0M369.1,466.1h0M369.2,466.8h0M369.4,462.2h0M369.5,464.8h0M369.6,464.3h0M369.8,464.5h0M369.9,466.4h0M370.0,467.1h0M370.2,468.2h0M370.3,467.7h0M370.4,466.0h0M370.6,468.5h0M370.7,465.7h0M370.8,467.1h0M371.0,464.5h0M371.1,465.6h0M371.2,467.2h0M371.4,466.8h0M371.5,466.1h0M371.6,465.2h0M371.8,463.7h0M371.9,464.2h0M372.0,463.3h0M372.2,461.0h0M372.3,463.0h0M372.4,462.7h0M372.6,460.0h0M372.7,461.9h0M372.8,462.3h0M373.0,465.4h0M373.1,465.5h0M373.2,466.9h0M373.4,462.6h0M373.5,464.0h0M373.6,465.7h0M373.8,465.7h0M373.9,464.0h0M374.0,465.4h0M374.2,465.5h0M374.3,464.6h0M374.4,466.8h0M374.6,465.7h0M374.7,467.1h0M374.9,466.5h0M375.0,469.7h0M375.1,468.3h0M375.3,468.8h0M375.4,467.8h0M375.5,468.2h0M375.7,467.0h0M375.8,464.1h0M375.9,464.1h0M376.1,466.0h0M376.2,465.1h0M376.3,465.3h0M376.5,465.0h0M376.6,462.7h0M376.7,464.4h0M376.9,462.4h0M377.0,463.0h0M377.1,463.5h0M377.3,464.0h0M377.4,461.8h0M377.5,465.1h0M377.7,463.9h0M377.8,462.5h0M377.9,465.9h0M378.1,466.2h0M378.2,464.9h0M378.3,463.1h0M378.5,465.9h0M378.6,465.1h0M378.7,464.2h0M378.9,463.3h0M379.0,463.0h0M379.1,461.5h0M379.3,461.8h0M379.4,463.0h0M379.5,464.0h0M379.7,462.3h0M379.8,463.7h0M379.9,462.8h0M381.0,449.0h0M381.1,457.8h0M381.2,458.7h0M381.3,460.4h0M381.5,458.5h0M381.6,457.4h0M381.7,457.6h0M381.9,458.5h0M382.0,458.8h0M382.1,457.5h0M382.3,456.8h0M382.4,460.4h0M382.5,458.2h0M382.7,457.2h0M382.8,455.8h0M383.0,458.5h0M383.1,457.5h0M383.2,452.9h0M383.4,454.4h0M383.5,455.6h0M383.6,457.1h0M383.8,455.1h0M383.9,456.3h0M384.0,456.8h0M384.2,457.6h0M384.3,458.5h0M384.4,460.2h0M384.6,459.4h0M384.7,462.2h0M384.8,462.7h0M385.0,463.1h0M385.1,460.6h0M385.2,460.7h0M385.4,459.3h0M385.5,459.7h0M385.6,461.2h0M385.8,461.9h0M385.9,461.1h0M386.0,456.4h0M386.2,458.6h0M386.3,460.4h0M386.5,460.8h0M386.6,459.4h0M386.7,457.8h0M386.9,458.8h0M387.0,458.5h0M387.1,459.0h0M387.3,459.7h0M387.4,461.4h0M387.5,461.6h0M387.7,460.6h0M387.8,462.0h0M387.9,462.5h0M388.1,461.9h0M388.2,460.3h0M388.3,459.9h0M388.5,462.0h0M388.6,464.0h0M388.7,461.8h0M388.9,461.9h0M389.0,461.2h0M389.1,463.4h0M389.3,464.5h0M389.4,462.6h0M389.5,458.1h0M389.7,460.0h0M389.8,460.1h0M390.0,461.4h0M390.1,461.0h0M390.2,461.3h0M390.4,462.8h0M390.5,463.9h0M390.6,462.3h0M390.8,463.4h0M390.9,462.5h0M391.0,461.1h0M391.2,465.7h0M391.3,462.4h0M391.4,461.9h0M391.6,462.2h0M391.7,461.8h0M391.8,464.9h0M392.0,465.7h0M392.1,464.5h0M392.2,463.9h0M392.4,464.1h0M392.5,463.5h0M392.6,463.7h0M392.8,463.6h0M392.9,464.8h0M393.0,463.3h0M393.2,463.5h0M393.3,465.7h0M393.5,464.9h0M393.6,464.4h0M393.7,464.6h0M393.9,463.1h0M394.0,463.6h0M394.1,464.8h0M394.3,465.5h0M394.4,463.9h0M394.5,465.9h0M394.7,464.6h0M394.8,464.8h0M394.9,465.1h0M395.1,464.7h0M395.2,462.4h0M395.3,463.3h0M395.5,463.8h0M395.6,466.4h0M395.7,467.4h0M395.9,466.8h0M396.0,466.5h0M396.1,463.9h0M396.3,464.2h0M396.4,461.7h0M396.5,463.5h0M396.7,463.5h0M396.8,463.8h0M396.9,462.9h0M397.1,463.5h0M397.2,463.0h0M397.3,464.3h0M397.5,465.9h0M397.6,465.7h0M397.7,462.1h0M397.9,462.3h0M398.0,463.8h0M398.1,465.6h0M398.3,465.5h0M398.4,465.6h0M398.5,463.7h0M398.7,465.8h0M398.8,466.8h0M398.9,464.1h0M399.1,465.1h0M399.2,463.3h0M399.3,463.0h0M399.5,460.0h0M399.6,461.1h0M399.7,464.1h0M399.9,463.8h0M400.0,463.6h0M400.1,463.9h0M400.3,466.0h0M400.4,463.6h0M400.5,463.5h0M400.7,464.5h0M400.8,464.7h0M400.9,462.7h0M401.1,463.8h0M401.2,463.9h0M401.3,460.9h0M401.5,461.7h0M401.6,463.9h0M401.7,462.2h0M401.9,459.0h0M402.0,461.0h0M402.1,459.7h0M402.3,461.6h0M402.4,462.0h0M402.5,459.6h0M402.7,459.9h0M402.8,460.2h0M402.9,460.8h0M403.1,463.2h0M403.2,461.3h0M403.3,459.6h0M403.5,458.4h0M403.6,456.6h0M403.7,457.7h0M403.9,457.6h0M404.0,459.2h0M404.1,461.0h0M404.3,457.3h0M404.4,459.3h0M404.5,458.4h0M404.7,458.7h0M404.8,458.8h0M404.9,458.2h0M405.1,455.1h0M405.2,455.1h0M405.3,458.5h0M405.5,457.4h0M405.6,458.5h0M405.7,457.2h0M405.9,460.5h0M406.0,459.2h0M406.1,459.1h0M406.3,456.1h0M406.4,456.6h0M406.6,454.8h0M406.7,455.9h0M406.8,452.6h0M407.0,453.6h0M407.1,455.5h0M407.2,453.1h0M407.4,455.1h0M407.5,454.7h0M407.6,454.5h0M407.8,450.8h0M407.9,453.5h0M408.0,454.5h0M408.2,454.0h0M408.3,452.7h0M408.4,452.8h0M408.6,454.1h0M408.7,451.0h0M408.9,453.2h0M409.0,454.2h0M409.1,451.1h0M409.3,451.2h0M409.4,451.4h0M409.5,453.1h0M409.7,453.0h0M409.8,451.4h0M409.9,450.5h0M410.1,452.2h0M410.2,453.1h0M410.3,453.5h0M410.5,452.5h0M410.6,452.6h0M410.7,452.2h0M410.9,452.7h0M411.0,450.1h0M411.1,450.0h0M411.3,452.3h0M411.4,452.6h0M411.5,453.8h0M411.7,451.5h0M411.8,452.6h0M411.9,452.4h0M412.1,452.7h0M412.2,454.6h0M412.3,452.4h0M412.5,452.6h0M412.6,454.5h0M412.7,453.9h0M412.9,454.7h0M413.0,456.7h0M413.1,454.1h0M413.3,456.5h0M413.4,457.1h0M413.5,457.6h0M413.7,455.0h0M413.8,454.1h0M413.9,452.4h0M414.1,453.2h0M414.2,451.6h0M414.3,451.5h0M414.5,455.1h0M414.6,455.2h0M414.7,452.2h0M414.9,453.1h0M415.0,454.1h0M415.1,454.4h0M415.3,455.7h0M415.4,453.9h0M415.5,455.0h0M415.7,455.5h0M415.8,455.1h0M415.9,453.7h0M416.1,451.0h0M416.2,453.4h0M416.3,453.3h0M416.5,451.6h0M416.6,453.1h0M416.7,453.2h0M416.9,455.0h0M417.0,453.6h0M417.1,454.8h0M417.3,454.1h0M417.4,453.9h0M417.5,452.9h0M417.7,453.6h0M417.8,454.6h0M417.9,453.8h0M418.1,456.7h0M418.2,454.5h0M418.3,452.1h0M418.5,453.5h0M418.6,452.5h0M418.7,452.3h0M418.9,455.2h0M419.0,456.9h0M419.1,457.3h0M419.3,457.7h0M419.4,459.4h0M419.5,457.8h0M419.7,459.1h0M419.8,458.2h0M419.9,456.3h0M420.1,454.8h0M420.2,457.6h0M420.3,458.2h0M420.5,457.7h0M420.6,457.2h0M420.7,456.5h0M420.9,454.5h0M421.0,452.0h0M421.1,454.3h0M421.3,456.8h0M421.4,457.0h0M421.5,456.1h0M421.7,456.3h0M421.8,455.8h0M421.9,456.5h0M422.1,453.1h0M422.2,452.3h0M422.3,452.0h0M422.5,450.8h0M422.6,449.0h0M422.7,448.4h0M422.9,450.0h0M423.0,448.8h0M423.1,447.8h0M423.3,446.3h0M423.4,447.4h0M423.5,447.2h0M423.7,446.8h0M423.8,446.0h0M423.9,443.7h0M424.1,446.4h0M424.2,447.3h0M424.3,444.4h0M424.5,443.5h0M424.6,443.1h0M424.7,444.1h0M424.9,445.7h0M425.0,445.5h0M425.1,445.9h0M425.3,448.3h0M425.4,447.7h0M425.6,446.4h0M425.7,445.8h0M425.8,442.7h0M426.0,442.5h0M426.1,444.5h0M426.2,443.2h0M426.4,442.2h0M426.5,441.5h0M426.6,444.1h0M426.8,443.9h0M426.9,444.5h0M427.0,446.3h0M427.2,443.9h0M427.3,444.8h0M427.4,447.5h0M427.6,446.3h0M427.7,445.0h0M427.9,445.1h0M428.0,442.7h0M428.1,446.0h0M428.3,445.6h0M428.4,446.0h0M428.5,443.2h0M428.7,443.9h0M428.8,446.5h0M428.9,446.9h0M429.1,446.5h0M429.2,445.8h0M429.3,444.8h0M429.5,443.6h0M429.6,442.1h0M429.7,442.4h0M429.9,441.4h0M430.0,440.0h0M430.1,438.0h0M430.3,437.0h0M430.4,433.8h0M430.5,436.3h0M430.7,433.5h0M430.8,430.6h0M430.9,430.6h0M431.1,429.0h0M431.2,429.9h0M431.3,426.6h0M431.5,427.8h0M431.6,426.2h0M431.7,426.9h0M431.9,421.6h0M432.0,424.0h0M432.1,422.2h0M432.3,420.6h0M432.4,423.1h0M432.5,422.3h0M432.7,422.3h0M432.8,418.6h0M432.9,416.3h0M433.1,420.2h0M433.2,416.5h0M433.3,412.0h0M433.5,414.1h0M433.6,412.3h0M433.8,408.7h0M433.9,409.9h0M434.0,412.4h0M434.2,410.6h0M434.3,408.4h0M434.4,407.1h0M434.6,407.3h0M434.7,404.8h0M434.8,405.2h0M435.0,403.1h0M435.1,401.8h0M435.2,403.4h0M435.4,400.4h0M435.5,399.4h0M435.7,396.6h0M435.8,396.3h0M435.9,398.8h0M436.5,376.0h0M437.8,382.0h0M438.0,388.0h0M437.0,395.0h0M441.0,400.0h0M435.1,415.5h0M435.2,412.6h0M435.3,420.2h0M435.5,417.9h0M435.6,412.9h0M435.7,400.8h0M435.9,401.4h0M436.0,410.0h0M436.1,411.2h0M436.3,410.9h0M436.4,409.7h0M436.5,405.7h0M436.7,420.5h0M436.8,424.5h0M436.9,422.3h0M437.1,418.1h0M437.2,419.8h0M437.3,420.8h0M437.5,418.0h0M437.6,424.1h0M437.7,421.0h0M437.9,416.4h0M438.0,422.4h0M438.1,409.8h0M438.3,411.9h0M438.4,416.1h0M438.5,418.2h0M438.7,411.8h0M438.8,415.4h0M438.9,420.3h0M439.1,414.5h0M439.2,418.8h0M439.3,421.3h0M439.5,422.1h0M439.6,421.4h0M439.7,422.5h0M439.9,412.0h0M440.0,413.1h0M440.1,410.0h0M440.3,419.3h0M440.4,412.3h0M440.5,409.1h0M440.7,409.1h0M440.8,405.9h0M440.9,419.8h0M438.5,441.0h0M438.5,449.0h0M441.1,424.4h0M441.2,426.7h0M441.3,426.0h0M441.5,428.8h0M441.6,429.9h0M441.7,430.9h0M441.9,430.8h0M442.0,430.5h0M442.1,425.8h0M442.3,423.3h0M442.4,422.7h0M442.6,426.0h0M442.7,432.8h0M442.8,430.1h0M443.0,429.2h0M443.1,434.8h0M443.2,434.9h0M443.4,435.5h0M443.5,433.9h0M443.6,430.3h0M443.8,429.3h0M443.9,425.1h0M444.0,427.8h0M444.2,426.7h0M444.3,432.7h0M444.4,426.7h0M444.6,430.2h0M444.7,432.7h0M444.9,434.5h0M445.0,438.2h0M445.1,437.0h0M445.3,438.1h0M445.4,438.0h0M445.5,435.0h0M445.7,435.4h0M445.8,435.0h0M445.9,439.0h0M446.1,439.7h0M446.2,434.9h0M446.3,435.7h0M446.5,433.1h0M446.6,438.1h0M446.7,439.6h0M446.9,438.1h0M447.0,439.5h0M447.1,435.0h0M447.3,435.8h0M447.4,434.1h0M447.5,436.8h0M447.7,436.6h0M447.8,435.4h0M447.9,439.3h0M448.1,438.3h0M448.2,442.7h0M448.4,439.8h0M448.5,434.2h0M448.6,433.8h0M448.8,433.9h0M448.9,435.6h0M449.0,437.2h0M449.2,437.2h0M449.3,435.8h0M449.4,439.3h0M449.6,439.6h0M449.7,440.0h0M449.8,442.6h0M450.0,444.3h0M450.1,436.0h0M450.2,437.4h0M450.4,435.1h0M450.5,440.8h0M450.6,438.6h0M450.8,439.4h0M450.9,438.4h0M451.0,441.2h0M451.2,443.1h0M451.3,444.1h0M451.4,438.0h0M451.6,439.5h0M451.7,437.8h0M451.8,438.9h0M452.0,441.8h0M452.1,436.4h0M452.2,440.1h0M452.4,441.3h0M452.5,443.0h0M452.6,440.2h0M452.8,438.5h0M452.9,442.0h0M453.1,441.0h0M453.2,439.3h0M453.3,440.7h0M453.5,442.9h0M453.6,443.3h0M453.7,438.8h0M453.9,445.6h0M454.0,443.1h0M454.1,444.1h0M454.3,445.6h0M454.4,444.3h0M454.5,444.7h0M454.7,445.3h0M454.8,445.9h0M454.9,443.1h0M455.1,445.6h0M455.2,446.8h0M455.3,443.9h0M455.5,441.6h0M455.6,441.6h0M455.7,441.6h0M455.9,444.1h0M456.0,439.8h0M456.1,443.3h0M456.3,445.6h0M456.4,444.6h0M456.5,445.5h0M456.7,445.0h0M456.8,443.6h0M456.9,448.0h0M457.1,446.7h0M457.2,445.1h0M457.3,446.5h0M457.5,452.1h0M457.6,451.7h0M457.7,451.1h0M457.9,448.9h0M458.0,450.2h0M458.1,448.3h0M458.3,447.6h0M458.4,449.4h0M458.5,452.1h0M458.7,456.6h0M458.8,453.7h0M458.9,454.0h0M459.1,451.3h0M459.2,447.8h0M459.3,448.9h0M459.5,452.3h0M459.6,452.7h0M459.7,451.8h0M459.9,452.3h0M460.0,451.6h0M460.1,447.4h0M460.3,453.9h0M460.4,453.5h0M460.5,453.1h0M460.7,454.9h0M460.8,455.2h0M460.9,450.1h0M461.1,449.8h0M461.2,449.7h0M461.3,450.8h0M461.5,449.6h0M461.6,454.9h0M461.7,450.7h0M461.9,454.4h0M462.0,453.0h0M462.1,451.1h0M462.3,453.8h0M462.4,452.7h0M462.5,457.0h0M462.7,456.5h0M462.8,455.6h0M462.9,457.8h0M463.1,452.7h0M463.2,452.3h0M463.3,452.8h0M463.5,450.2h0M463.6,451.1h0M463.7,450.1h0M463.9,450.6h0M464.0,450.8h0M464.1,445.9h0M464.3,447.4h0M464.4,450.0h0M464.6,452.1h0M464.7,448.0h0M464.8,446.6h0M465.0,445.6h0M465.1,446.4h0M465.2,449.1h0M465.4,444.9h0M465.5,446.7h0M465.6,446.3h0M465.8,448.4h0M465.9,448.0h0M466.0,447.3h0M466.2,448.2h0M466.3,443.8h0M466.4,446.3h0M466.6,448.4h0M466.7,444.7h0M466.9,441.4h0M467.0,443.9h0M467.1,441.4h0M467.3,442.2h0M467.4,445.1h0M467.5,445.3h0M467.7,442.6h0M467.8,444.0h0M467.9,441.2h0M468.1,437.7h0M468.2,438.3h0M468.3,436.1h0M468.5,440.1h0M468.6,434.7h0M468.7,441.7h0M468.9,438.6h0M469.0,432.1h0M469.1,434.5h0M469.2,434.0h0M469.4,439.4h0M469.5,431.0h0M469.6,428.9h0M469.8,429.7h0M469.9,427.3h0M470.0,435.4h0M470.2,433.7h0M470.3,429.4h0M470.4,429.1h0M470.6,430.9h0M470.7,423.7h0M470.8,428.1h0M471.0,426.9h0M471.1,424.4h0M471.2,419.6h0M471.4,418.4h0M471.5,420.2h0M471.7,419.4h0M471.8,412.0h0M471.9,405.8h0M472.1,406.4h0M472.2,405.6h0M472.3,406.0h0M472.5,403.0h0M472.6,393.6h0M472.8,397.3h0M472.9,397.9h0M473.0,396.4h0M473.2,391.1h0M473.3,388.1h0M473.4,388.4h0M474.0,386.0h0M473.6,389.7h0M473.7,392.5h0M473.8,395.4h0M474.0,393.7h0M474.1,395.2h0M474.2,397.9h0M474.4,398.4h0M474.5,396.5h0M474.6,400.7h0M474.8,408.8h0M474.9,409.0h0M475.0,406.4h0M475.1,409.9h0M475.3,409.9h0M475.4,409.1h0M475.5,407.1h0M475.7,408.8h0M475.8,408.9h0M475.9,410.1h0M476.1,412.8h0M476.2,415.2h0M476.3,419.4h0M476.5,414.7h0M476.6,418.7h0M476.7,421.2h0M476.9,425.3h0M477.0,426.6h0M477.1,429.8h0M477.3,425.0h0M477.4,425.1h0M477.5,423.0h0M477.7,429.0h0M477.8,429.9h0M477.9,426.6h0M478.1,428.0h0M478.2,433.7h0M478.3,430.1h0M478.5,433.0h0M478.6,438.3h0M478.7,434.8h0M478.9,430.7h0M479.0,432.4h0M479.1,434.3h0M479.3,435.6h0M479.4,439.6h0M479.5,434.1h0M479.7,436.2h0M479.8,443.5h0M479.9,444.7h0M479.1,437.9h0M479.2,436.4h0M479.3,439.0h0M479.5,437.7h0M479.6,430.9h0M479.7,432.4h0M479.9,430.5h0M480.0,431.3h0M480.1,426.0h0M480.3,427.3h0M480.4,424.1h0M480.5,427.0h0M480.7,426.4h0M480.8,423.2h0M480.9,422.2h0M481.1,427.4h0M481.2,422.1h0M481.3,422.6h0M481.5,425.3h0M481.6,426.4h0M481.7,420.1h0M481.9,420.5h0M482.0,421.3h0M482.1,418.2h0M482.3,418.9h0M482.4,416.5h0M482.5,421.7h0M482.7,421.4h0M482.8,420.9h0M482.9,419.2h0M483.1,417.5h0M483.2,417.5h0M483.3,419.0h0M483.5,414.4h0M483.6,417.7h0M483.7,412.4h0M483.9,410.7h0M484.0,414.7h0M484.1,414.8h0M484.3,415.9h0M484.4,417.7h0M484.5,412.0h0M484.7,410.1h0M484.8,409.4h0M484.9,411.8h0M485.1,410.8h0M485.2,409.7h0M485.3,407.3h0M485.5,408.9h0M485.6,408.1h0M485.8,403.9h0M485.9,406.4h0M486.0,406.6h0M486.2,404.5h0M486.3,403.9h0M486.4,406.1h0M486.6,403.2h0M486.7,403.2h0M486.8,399.0h0M487.0,396.3h0M487.1,397.6h0M487.2,397.5h0M487.4,402.6h0M487.5,402.1h0M487.7,402.2h0M487.8,401.0h0M487.9,397.4h0M488.1,397.6h0M488.2,394.2h0M488.3,394.6h0M488.5,394.3h0M488.6,392.1h0M488.8,393.4h0M488.9,390.5h0M489.0,389.3h0M489.2,392.8h0M489.3,393.8h0M489.4,389.5h0M489.6,388.2h0M489.7,386.5h0M489.8,387.5h0M490.0,386.4h0M490.1,384.8h0M490.2,385.3h0M490.4,384.9h0M490.5,382.4h0M490.7,384.3h0M490.8,383.8h0M490.9,383.7h0M491.1,388.8h0M491.2,393.0h0M491.3,396.8h0M491.5,389.6h0M491.6,393.1h0M491.7,395.9h0M491.9,398.4h0M492.0,397.6h0M492.1,398.1h0M492.3,394.2h0M492.4,396.3h0M492.5,396.0h0M492.7,396.1h0M492.8,396.2h0M492.9,390.1h0M493.1,394.5h0M493.2,394.0h0M493.3,402.2h0M493.5,394.1h0M493.6,396.7h0M493.7,393.5h0M493.9,399.9h0M494.0,401.3h0M494.1,403.2h0M494.3,403.8h0M494.4,404.5h0M494.5,405.7h0M494.7,403.1h0M494.8,405.2h0M494.9,401.7h0M495.1,402.8h0M495.2,402.9h0M495.3,408.3h0M495.5,403.5h0M495.6,401.2h0M495.7,408.6h0M495.9,407.3h0M496.0,409.7h0M496.1,407.0h0M496.3,408.2h0M496.4,403.9h0M496.5,412.3h0M496.7,407.1h0M496.8,408.0h0M496.9,411.6h0M497.1,398.5h0M497.2,403.1h0M497.3,399.6h0M497.5,399.8h0M497.6,397.0h0M497.7,396.8h0M497.9,392.5h0M498.0,397.7h0M498.1,397.5h0M498.3,396.4h0M498.4,393.9h0M498.5,398.2h0M498.7,398.9h0M498.8,395.6h0M498.9,391.7h0M499.1,392.9h0M499.2,389.8h0M499.3,391.7h0M499.5,396.0h0M499.6,395.0h0M499.7,392.1h0M499.9,390.7h0M500.0,390.7h0M500.1,393.7h0M500.3,395.3h0M500.4,393.3h0M500.5,389.5h0M500.7,386.3h0M500.8,387.7h0M500.9,386.4h0M501.1,387.5h0M501.2,386.6h0M501.3,392.4h0M501.5,385.1h0M501.6,392.8h0M501.7,386.3h0M501.9,389.6h0M502.0,392.2h0M502.1,390.9h0M502.3,393.5h0M502.4,391.4h0M502.5,388.2h0M502.7,389.3h0M502.8,384.2h0M502.9,387.7h0M503.1,389.6h0M503.2,387.5h0M503.3,387.5h0M503.5,386.7h0M503.6,388.5h0M503.7,397.5h0M503.9,394.8h0M504.0,391.9h0M504.1,389.5h0M504.3,390.3h0M504.4,386.8h0M504.5,388.8h0M504.7,387.9h0M504.8,386.6h0M504.9,387.2h0M505.1,385.8h0M505.2,386.5h0M505.4,384.5h0M505.5,384.4h0M505.6,388.9h0M505.8,392.7h0M505.9,389.2h0M506.0,390.8h0M506.2,389.3h0M506.3,395.7h0M506.4,389.2h0M506.6,393.3h0M506.7,392.2h0M506.8,393.9h0M507.0,392.9h0M507.1,394.7h0M507.2,386.9h0M507.4,391.3h0M507.5,388.8h0M507.6,392.1h0M507.8,388.4h0M507.9,389.3h0M508.0,390.0h0M508.2,390.9h0M508.3,390.1h0M508.4,388.6h0M508.6,388.6h0M508.7,391.2h0M508.8,391.0h0M509.0,391.1h0M509.1,391.2h0M509.2,394.0h0M509.4,389.6h0M509.5,393.2h0M509.6,390.2h0M509.8,394.0h0M509.9,393.9h0M510.1,394.2h0M510.2,396.5h0M510.3,395.1h0M510.5,393.3h0M510.6,393.7h0M510.7,391.1h0M510.9,394.0h0M511.0,391.5h0M511.1,392.3h0M511.3,393.0h0M511.4,396.9h0M511.5,391.6h0M511.7,390.0h0M511.8,390.7h0M511.9,390.8h0M512.1,390.2h0M512.2,390.5h0M512.3,390.2h0M512.5,388.5h0M512.6,388.8h0M512.7,391.6h0M512.9,396.8h0M513.0,395.3h0M513.1,398.4h0M513.3,398.4h0M513.4,395.6h0M513.5,396.0h0M513.7,398.9h0M513.8,396.7h0M513.9,396.9h0M514.1,398.6h0M514.2,398.2h0M514.3,398.2h0M514.5,398.7h0M514.6,402.3h0M514.7,404.8h0M514.9,404.2h0M515.0,405.2h0M515.1,404.8h0M515.3,405.1h0M515.4,404.1h0M515.5,399.2h0M515.7,401.8h0M515.8,399.1h0M515.9,400.2h0M516.1,401.7h0M516.2,399.0h0M516.3,400.0h0M516.5,401.7h0M516.6,403.8h0M516.7,401.8h0M516.9,403.6h0M517.0,410.3h0M517.1,409.8h0M517.3,409.9h0M517.4,407.2h0M517.5,412.7h0M517.7,409.0h0M517.8,414.1h0M517.9,412.9h0M518.1,408.2h0M518.2,408.3h0M518.3,409.3h0M518.5,417.7h0M518.6,409.9h0M518.7,410.4h0M518.9,415.5h0M519.0,414.2h0M519.1,413.0h0M519.3,418.4h0M519.4,416.1h0M519.5,415.8h0M519.7,416.0h0M519.8,416.9h0M519.9,416.9h0M520.1,415.9h0M520.2,410.5h0M520.3,411.8h0M520.5,416.0h0M520.6,420.0h0M520.7,412.6h0M520.9,411.8h0M521.0,421.0h0M521.1,422.6h0M521.3,421.1h0M521.4,414.0h0M521.5,421.6h0M521.7,418.1h0M521.8,415.7h0M522.0,413.9h0M522.1,413.0h0M522.2,412.4h0M522.4,412.9h0M522.5,415.3h0M522.6,415.6h0M522.8,418.8h0M522.9,414.9h0M523.0,418.0h0M523.2,418.5h0M523.3,413.9h0M523.4,413.9h0M523.6,418.2h0M523.7,414.3h0M523.8,412.5h0M524.0,419.9h0M524.1,420.4h0M524.2,416.1h0M524.4,416.2h0M524.5,416.0h0M524.6,415.9h0M524.8,414.6h0M524.9,413.8h0M525.0,411.7h0M525.2,411.1h0M525.3,412.4h0M525.5,413.0h0M525.6,414.3h0M525.7,415.1h0M525.9,416.2h0M526.0,422.4h0M526.1,414.1h0M526.3,414.9h0M526.4,410.7h0M526.5,410.9h0M526.7,414.6h0M526.8,417.7h0M526.9,413.4h0M527.1,414.5h0M527.2,417.6h0M527.3,417.9h0M527.5,419.9h0M527.6,417.4h0M527.7,417.8h0M527.9,414.6h0M528.0,413.6h0M528.1,418.8h0M528.3,418.9h0M528.4,421.8h0M528.5,420.7h0M528.7,415.2h0M528.8,418.7h0M529.0,419.4h0M529.1,417.8h0M529.2,416.0h0M529.4,413.0h0M529.5,416.0h0M529.6,416.8h0M529.8,418.4h0M529.9,412.0h0M530.0,418.2h0M530.2,415.0h0M530.3,415.8h0M530.4,416.3h0M530.6,418.8h0M530.7,416.6h0M530.8,417.9h0M531.0,417.2h0M531.1,409.7h0M531.2,413.4h0M531.4,416.4h0M531.5,411.9h0M531.6,419.3h0M531.8,412.0h0M531.9,416.5h0M532.0,412.4h0M532.2,412.1h0M532.3,414.2h0M532.5,413.1h0M532.6,415.3h0M532.7,416.3h0M532.9,418.8h0M533.0,418.3h0M533.1,415.5h0M533.3,419.3h0M533.4,416.6h0M533.5,415.7h0M533.7,420.0h0M533.8,415.0h0M533.9,412.2h0M535.0,402.0h0M534.1,409.0h0M534.2,414.5h0M534.3,415.4h0M534.5,416.3h0M534.6,418.6h0M534.7,414.7h0M534.9,410.7h0M535.0,409.3h0M535.1,412.9h0M535.3,412.3h0M535.4,411.9h0M535.5,415.6h0M535.7,413.0h0M535.8,421.6h0M535.9,418.6h0M536.1,415.9h0M536.2,417.0h0M536.3,414.4h0M536.5,417.2h0M536.6,416.0h0M536.7,415.3h0M536.9,420.3h0M537.0,414.2h0M537.1,411.9h0M537.3,412.7h0M537.4,412.4h0M537.6,420.4h0M537.7,418.8h0M537.8,418.4h0M538.0,413.2h0M538.1,413.8h0M538.2,414.1h0M538.4,417.1h0M538.5,417.3h0M538.6,417.7h0M538.8,419.7h0M538.9,417.9h0M539.0,415.4h0M539.2,419.7h0M539.3,411.9h0M539.4,415.8h0M539.6,415.0h0M539.7,413.2h0M539.8,415.1h0M540.0,413.4h0M540.1,415.7h0M540.2,411.7h0M540.4,415.5h0M540.5,418.6h0M540.6,417.2h0M540.8,417.2h0M540.9,417.5h0M541.0,421.0h0M541.2,419.0h0M541.3,415.2h0M541.4,414.2h0M541.6,418.5h0M541.7,421.7h0M541.8,423.8h0M542.0,425.3h0M542.1,423.4h0M542.2,423.1h0M542.4,424.7h0M542.5,422.0h0M542.6,422.3h0M542.8,415.0h0M542.9,417.1h0M543.0,419.7h0M543.2,416.8h0M543.3,422.6h0M543.4,423.9h0M543.6,419.0h0M543.7,418.3h0M543.9,424.5h0M544.0,423.2h0M544.1,420.4h0M544.3,421.0h0M544.4,414.8h0M544.5,420.2h0M544.7,421.0h0M544.8,418.6h0M544.9,415.9h0M545.1,418.3h0M545.2,420.6h0M545.3,422.3h0M545.5,424.2h0M545.6,418.0h0M545.7,418.6h0M545.9,418.2h0M546.0,422.6h0M546.1,422.0h0M546.3,416.2h0M546.4,411.9h0M546.5,411.9h0M546.7,414.5h0M546.8,415.8h0M546.9,413.2h0M547.1,415.6h0M547.2,417.4h0M547.3,418.5h0M547.5,414.9h0M547.6,417.7h0M547.7,416.2h0M547.9,415.6h0M548.0,414.1h0M548.1,412.6h0M548.3,415.9h0M548.4,415.1h0M548.5,413.8h0M548.7,412.8h0M548.8,412.6h0M549.0,418.0h0M549.1,413.4h0M549.2,414.0h0M549.4,413.4h0M549.5,413.9h0M549.6,417.9h0M549.8,414.8h0M549.9,413.2h0M550.0,417.1h0M550.2,416.6h0M550.3,419.2h0M550.4,418.7h0M550.6,418.0h0M550.7,417.3h0M550.8,414.1h0M551.0,416.2h0M551.1,416.2h0M551.2,414.8h0M551.4,415.6h0M551.5,416.6h0M551.6,414.6h0M551.8,413.0h0M551.9,414.3h0M552.0,410.2h0M552.2,407.4h0M552.3,408.1h0M552.5,414.1h0M552.6,411.3h0M552.7,411.2h0M552.9,409.1h0M553.0,407.0h0M553.1,410.8h0M553.3,410.2h0M553.4,413.1h0M553.5,406.2h0M553.7,407.2h0M553.8,409.6h0M553.9,412.6h0M554.1,406.9h0M554.2,402.1h0M554.3,404.1h0M554.5,407.0h0M554.6,404.4h0M554.7,400.8h0M554.9,400.7h0M555.0,400.5h0M555.1,399.6h0M555.3,402.4h0M555.4,401.3h0M555.5,397.2h0M555.7,396.3h0M555.8,398.8h0M555.9,394.6h0M556.1,399.2h0M556.2,394.4h0M556.3,398.3h0M556.5,396.8h0M556.6,396.1h0M556.7,393.3h0M556.9,395.3h0M557.0,394.5h0M557.1,393.1h0M557.3,391.7h0M557.4,392.8h0M557.5,394.1h0M557.7,395.3h0M557.8,394.2h0M557.9,391.0h0M558.1,390.0h0M558.2,391.5h0M558.3,399.4h0M558.5,398.5h0M558.6,396.9h0M558.7,393.5h0M558.9,394.8h0M559.0,395.8h0M559.1,397.5h0M559.3,398.2h0M559.4,405.0h0M559.5,399.6h0M559.7,402.4h0M559.8,399.4h0M559.9,400.4h0M560.1,404.1h0M560.2,406.0h0M560.3,408.2h0M560.5,411.2h0M560.6,408.4h0M560.7,409.8h0M560.9,405.1h0M561.0,410.0h0M561.1,413.9h0M561.3,409.4h0M561.4,410.5h0M561.5,406.0h0M561.7,407.8h0M561.8,409.9h0M561.9,412.6h0M562.1,407.3h0M562.2,410.2h0M562.3,412.8h0M562.5,412.3h0M562.6,411.8h0M562.7,410.7h0M562.9,407.7h0M563.0,402.7h0M563.1,405.7h0M563.3,399.9h0M563.4,402.8h0M563.5,404.7h0M563.7,404.4h0M563.8,407.3h0M563.9,402.9h0M564.1,402.6h0M564.2,406.6h0M564.3,403.6h0M564.5,400.3h0M564.6,401.4h0M564.7,403.0h0M564.9,400.0h0M565.0,410.2h0M565.1,406.1h0M565.3,408.9h0M565.4,408.6h0M565.5,407.6h0M565.7,407.0h0M565.8,408.1h0M565.9,405.0h0M566.1,406.4h0M566.2,401.4h0M566.3,401.7h0M566.5,399.8h0M566.6,403.2h0M566.7,402.6h0M566.9,401.5h0M567.0,398.2h0M567.1,398.0h0M567.3,403.0h0M567.4,397.9h0M567.5,400.8h0M567.7,402.2h0M567.8,403.9h0M567.9,405.3h0M568.1,402.9h0M568.2,403.2h0M568.3,400.6h0M568.5,398.7h0M568.6,397.9h0M568.7,401.7h0M568.9,406.9h0M569.0,395.6h0M569.1,400.1h0M569.3,399.3h0M569.4,403.5h0M569.5,399.5h0M569.7,400.8h0M569.8,400.3h0M569.9,401.5h0M571.5,352.0h0M571.5,359.5h0M571.5,367.0h0M571.7,373.0h0M572.0,376.0h0M572.3,380.0h0M572.5,385.0h0M572.6,393.7h0M572.7,395.0h0M572.8,388.8h0M573.0,394.0h0M573.1,397.1h0M573.2,390.1h0M573.4,390.5h0M573.5,391.3h0M573.6,393.7h0M573.8,391.4h0M573.9,388.0h0M574.0,385.8h0M574.2,389.4h0M574.3,384.3h0M574.4,385.0h0M574.6,391.2h0M574.7,390.4h0M574.8,391.1h0M575.0,390.7h0M575.1,391.8h0M575.2,385.0h0M575.4,391.9h0M575.5,389.5h0M575.6,390.4h0M575.8,393.5h0M575.9,397.1h0M576.0,392.2h0M576.2,391.1h0M576.3,391.2h0M576.5,391.3h0M576.6,393.0h0M576.7,392.8h0M576.9,397.2h0M577.0,391.4h0M577.1,396.4h0M577.3,395.5h0M577.4,397.9h0M577.5,392.3h0M577.7,392.4h0M577.8,396.2h0M577.9,392.3h0M578.1,391.9h0M578.2,388.7h0M578.3,400.0h0M578.5,395.2h0M578.6,393.2h0M578.7,392.7h0M578.9,392.1h0M579.0,396.4h0M579.1,399.8h0M579.3,393.0h0M579.4,392.7h0M579.5,393.6h0M579.7,398.8h0M579.8,391.5h0M579.9,396.4h0M580.1,397.7h0M580.2,396.7h0M580.3,398.7h0M580.5,393.5h0M580.6,402.3h0M580.7,400.1h0M580.9,402.2h0M581.0,404.7h0M581.1,400.1h0M581.3,404.2h0M581.4,401.6h0M581.5,402.1h0M581.7,400.4h0M581.8,407.3h0M582.0,400.2h0M582.1,407.2h0M582.2,406.6h0M582.4,401.3h0M582.5,400.7h0M582.6,404.9h0M582.8,405.8h0M582.9,401.5h0M583.0,405.8h0M583.2,397.8h0M583.3,403.7h0M583.4,408.0h0M583.6,403.9h0M583.7,396.1h0M583.8,398.7h0M584.0,398.8h0M584.1,396.5h0M584.2,396.2h0M584.4,398.0h0M584.5,398.4h0M584.6,407.1h0M584.8,408.1h0M584.9,403.3h0M585.0,404.7h0M585.2,406.7h0M585.3,399.0h0M585.5,404.2h0M585.6,403.5h0M585.7,410.2h0M585.9,407.5h0M586.0,402.2h0M586.1,399.1h0M586.3,403.1h0M586.4,400.7h0M586.5,398.9h0M586.7,401.7h0M586.8,406.0h0M586.9,406.4h0M587.1,406.9h0M587.2,409.7h0M587.3,404.2h0M587.5,406.9h0M587.6,410.8h0M587.7,412.4h0M587.9,406.6h0M588.0,407.2h0M588.1,409.5h0M588.3,409.8h0M588.4,411.3h0M588.6,402.9h0M588.7,404.9h0M588.8,403.2h0M589.0,399.4h0M589.1,399.6h0M589.2,405.1h0M589.4,409.9h0M589.5,411.2h0M589.6,409.4h0M589.8,406.9h0M589.9,407.9h0M590.0,414.3h0M590.2,412.0h0M590.3,421.7h0M590.4,418.1h0M590.6,415.7h0M590.7,411.3h0M590.9,409.1h0M591.0,414.6h0M591.1,411.6h0M591.3,412.4h0M591.4,413.5h0M591.5,414.0h0M591.7,415.2h0M591.8,411.1h0M591.9,416.9h0M591.9,416.2h0M591.8,416.5h0M591.6,420.9h0M591.5,424.7h0M591.4,429.7h0M591.2,432.0h0M591.1,435.1h0M593.5,361.0h0M593.5,368.5h0M593.5,376.0h0M593.7,380.5h0M594.0,385.0h0M594.0,390.0h0M594.2,395.0h0M595.1,390.1h0M595.2,390.6h0M595.3,389.8h0M595.5,393.9h0M595.6,385.5h0M595.7,393.5h0M595.9,390.9h0M596.0,385.1h0M596.1,387.7h0M596.3,391.3h0M596.4,395.0h0M596.5,394.8h0M596.7,393.4h0M596.8,395.9h0M596.9,396.8h0M597.1,390.2h0M597.2,396.3h0M597.3,388.7h0M597.5,394.9h0M597.6,395.8h0M597.7,397.0h0M597.9,390.6h0M598.0,390.3h0M598.1,391.6h0M598.3,389.3h0M598.4,385.8h0M598.5,392.0h0M598.7,386.1h0M598.8,390.7h0M598.9,392.3h0M599.1,391.9h0M599.2,385.6h0M599.3,386.0h0M599.5,388.3h0M599.6,388.5h0M599.7,391.3h0M599.9,392.4h0M600.0,394.6h0M600.1,387.7h0M600.3,390.7h0M600.4,383.1h0M600.5,388.9h0M600.7,390.0h0M600.8,394.5h0M600.9,388.6h0M602.5,333.0h0M602.5,337.0h0M602.5,342.0h0M603.3,352.0h0M603.0,355.0h0M602.0,359.5h0M602.5,366.0h0M603.0,371.5h0M603.5,375.0h0M604.0,297.0h0M603.0,290.0h0M606.0,293.0h0M611.0,296.0h0M606.0,285.0h0M607.0,278.0h0M607.5,272.0h0M603.5,266.0h0M611.5,266.0h0M607.0,266.0h0M609.0,257.0h0M608.5,251.0h0M609.5,243.0h0M609.5,240.0h0M610.0,232.0h0M610.0,228.0h0M609.5,224.0h0M610.0,219.0h0M609.5,214.0h0M610.5,207.0h0M610.5,197.0h0M603.6,321.6h0M603.7,335.5h0M603.8,331.3h0M604.0,330.2h0M604.1,314.8h0M604.2,316.7h0M604.4,314.0h0M604.5,293.3h0M604.6,337.8h0M604.8,323.5h0M604.9,301.5h0M605.0,320.2h0M605.2,317.5h0M605.3,327.8h0M605.4,332.0h0M605.6,337.1h0M605.7,312.6h0M605.8,306.9h0M605.9,310.7h0M606.1,323.1h0M606.2,290.8h0M606.3,318.9h0M606.5,339.2h0M606.6,326.3h0M606.7,328.6h0M606.9,302.7h0M607.0,292.5h0M607.1,309.8h0M607.3,299.5h0M607.4,327.3h0M607.5,329.4h0M607.7,305.4h0M607.8,320.1h0M607.9,319.6h0M608.1,318.7h0M608.2,309.9h0M608.3,338.9h0M608.5,341.2h0M608.6,311.5h0M608.7,320.5h0M608.9,307.0h0M609.0,330.6h0M609.1,328.4h0M609.3,295.3h0M609.4,328.9h0M609.6,311.2h0M609.7,322.5h0M609.8,314.2h0M610.0,311.3h0M610.1,325.0h0M610.2,301.9h0M610.4,340.6h0M610.5,327.6h0M610.6,338.7h0M610.8,330.4h0M610.9,312.9h0M611.0,308.4h0M611.2,295.1h0M611.3,302.9h0M611.4,334.9h0M611.6,340.2h0M611.7,332.1h0M611.9,301.0h0M612.0,309.4h0M612.1,326.3h0M612.3,317.3h0M612.4,322.1h0M612.5,308.5h0M612.7,328.2h0M612.8,320.3h0M612.9,328.1h0M612.1,337.9h0M612.2,339.8h0M612.3,335.8h0M612.5,336.3h0M612.6,342.7h0M612.7,337.3h0M612.9,342.8h0M613.0,345.5h0M613.1,340.8h0M613.3,336.5h0M613.4,334.4h0M613.5,332.4h0M613.7,339.2h0M613.8,338.6h0M613.9,340.4h0M614.1,347.4h0M614.2,348.6h0M614.3,350.8h0M614.5,352.1h0M614.6,345.9h0M614.7,346.8h0M614.9,346.8h0M615.0,350.4h0M615.1,353.0h0M615.3,351.9h0M615.4,355.6h0M615.5,354.1h0M615.7,349.5h0M615.8,355.0h0M615.9,355.5h0M616.1,356.7h0M616.2,360.9h0M616.3,365.3h0M616.5,366.6h0M616.6,363.3h0M616.7,372.9h0M616.9,372.2h0M617.0,377.3h0M617.1,375.7h0M617.3,381.2h0M617.4,384.3h0M617.5,387.9h0M617.7,385.5h0M617.8,389.7h0M617.9,393.7h0M618.1,392.7h0M618.2,385.1h0M618.3,384.2h0M618.5,377.9h0M618.6,376.0h0M618.7,384.2h0M618.9,379.2h0M619.0,385.9h0M619.1,380.6h0M619.3,379.5h0M619.4,386.4h0M619.5,384.2h0M619.7,379.8h0M619.8,379.5h0M619.9,382.6h0M620.1,383.2h0M620.2,388.6h0M620.3,391.7h0M620.5,391.1h0M620.6,390.3h0M620.7,381.8h0M620.9,385.9h0M621.0,389.5h0M621.1,385.6h0M621.3,394.9h0M621.4,387.0h0M621.5,381.1h0M621.7,378.9h0M621.8,381.1h0M621.9,383.3h0M622.1,381.8h0M622.2,380.4h0M622.3,385.3h0M622.5,394.6h0M622.6,387.9h0M622.7,388.8h0M622.9,380.9h0M623.0,391.9h0M623.1,387.8h0M623.3,389.7h0M623.4,387.4h0M623.5,383.4h0M623.7,393.1h0M623.8,391.0h0M623.9,382.9h0M624.1,381.3h0M624.2,387.0h0M624.3,379.0h0M624.5,374.5h0M624.6,377.8h0M624.7,383.7h0M624.9,387.9h0M625.0,394.5h0M625.1,381.9h0M625.3,386.6h0M625.4,384.6h0M625.5,387.1h0M625.7,377.8h0M625.8,376.1h0M625.9,391.4h0M626.0,357.0h0M626.0,364.0h0M626.3,371.0h0M626.5,377.5h0M626.1,388.2h0M626.2,388.6h0M626.3,382.0h0M626.5,384.6h0M626.6,384.5h0M626.7,381.6h0M626.9,381.4h0M627.0,384.0h0M627.1,384.7h0M627.3,387.1h0M627.4,383.2h0M627.6,385.9h0M627.7,384.0h0M627.8,395.1h0M628.0,395.9h0M628.1,385.7h0M628.2,390.5h0M628.4,388.8h0M628.5,393.9h0M628.6,392.3h0M628.8,397.7h0M628.9,393.3h0M629.0,396.2h0M629.2,396.0h0M629.3,391.1h0M629.4,396.1h0M629.6,388.1h0M629.7,394.4h0M629.9,392.9h0M630.0,391.0h0M630.1,392.3h0M630.3,391.7h0M630.4,396.6h0M630.5,400.3h0M630.7,395.2h0M630.8,399.2h0M630.9,399.1h0M631.1,390.1h0M631.2,400.7h0M631.3,402.3h0M631.5,395.7h0M631.6,391.4h0M631.7,393.6h0M631.9,399.6h0M632.0,400.1h0M632.1,394.0h0M632.3,399.8h0M632.4,400.6h0M632.5,401.1h0M632.7,395.1h0M632.8,384.3h0M632.9,395.1h0M633.1,400.4h0M633.2,392.8h0M633.3,394.5h0M633.5,400.8h0M633.6,393.5h0M633.7,391.8h0M633.9,396.2h0M634.0,395.0h0M634.1,387.2h0M634.3,392.7h0M634.4,398.2h0M634.5,390.5h0M634.7,385.2h0M634.8,393.8h0M634.9,390.3h0M635.1,389.2h0M635.2,387.6h0M635.3,391.2h0M635.5,394.7h0M635.6,388.2h0M635.7,383.6h0M635.9,383.6h0M636.0,380.6h0M636.1,380.6h0M636.3,383.1h0M636.4,387.4h0M636.5,385.6h0M636.7,384.3h0M636.8,375.2h0M636.9,378.1h0M637.1,378.5h0M637.2,372.4h0M637.3,380.5h0M637.5,378.6h0M637.6,372.9h0M637.7,369.3h0M637.9,362.8h0M638.0,360.4h0M638.1,360.7h0M638.3,358.3h0M638.4,360.2h0M638.5,360.7h0M638.7,357.3h0M638.8,354.6h0M638.9,353.1h0M639.1,358.9h0M639.2,358.9h0M639.3,354.2h0M639.5,362.6h0M639.6,359.8h0M639.7,357.6h0M639.9,353.7h0M640.0,349.4h0M640.1,355.7h0M640.3,356.9h0M640.4,363.0h0M640.6,364.4h0M640.7,364.5h0M640.8,359.2h0M641.0,364.3h0M641.1,365.9h0M641.2,365.2h0M641.4,362.1h0M641.5,369.7h0M641.6,366.8h0M641.8,366.6h0M641.9,366.1h0M642.0,371.4h0M642.2,373.4h0M642.3,376.0h0M642.4,370.9h0M642.6,379.6h0M642.7,379.6h0M642.9,378.0h0M643.0,380.1h0M643.1,371.6h0M643.3,379.9h0M643.4,372.5h0M643.5,380.5h0M643.7,378.7h0M643.8,383.9h0M643.9,390.2h0M644.1,387.3h0M644.2,385.3h0M644.3,392.4h0M644.5,385.1h0M644.6,386.0h0M644.7,382.3h0M644.9,383.9h0M645.0,381.4h0M645.1,382.5h0M645.3,378.6h0M645.4,373.5h0M645.6,382.3h0M645.7,378.7h0M645.8,376.7h0M646.0,377.0h0M646.1,376.2h0M646.2,380.1h0M646.4,384.7h0M646.5,383.7h0M646.6,379.3h0M646.8,376.7h0M646.9,374.5h0M647.0,369.6h0M647.2,374.9h0M647.3,381.6h0M647.4,373.0h0M647.6,368.7h0M647.7,373.7h0M647.9,368.9h0M648.0,377.3h0M648.1,374.6h0M648.3,374.0h0M648.4,375.2h0M648.5,374.7h0M648.7,371.8h0M648.8,367.2h0M648.9,367.6h0M649.1,364.5h0M649.2,358.2h0M649.3,358.6h0M649.5,367.3h0M649.6,363.5h0M649.7,357.8h0M649.9,365.4h0M650.0,362.3h0M650.1,359.7h0M650.3,359.3h0M650.4,357.5h0M650.5,352.0h0M650.7,350.6h0M650.8,358.2h0M650.9,352.3h0M651.1,356.1h0M651.2,352.8h0M651.3,351.7h0M651.5,350.5h0M651.6,355.0h0M651.7,358.1h0M651.9,358.6h0M652.0,356.9h0M652.1,357.3h0M652.3,354.2h0M652.4,350.9h0M652.5,351.4h0M652.7,353.2h0M652.8,350.9h0M652.9,355.4h0M653.1,352.4h0M653.2,359.6h0M653.3,361.0h0M653.5,358.1h0M653.6,358.7h0M653.7,356.6h0M653.9,361.6h0M654.0,355.9h0M654.1,350.5h0M654.3,347.6h0M654.4,354.0h0M654.6,355.9h0M654.7,353.8h0M654.8,354.7h0M655.0,350.6h0M655.1,355.1h0M655.2,354.3h0M655.4,357.0h0M655.5,355.5h0M655.6,361.3h0M655.8,361.8h0M655.9,356.7h0M656.0,360.5h0M656.2,361.7h0M656.3,363.0h0M656.4,357.4h0M656.6,357.7h0M656.7,363.5h0M656.9,352.4h0M657.0,355.2h0M657.1,355.6h0M657.3,358.1h0M657.4,354.1h0M657.5,363.0h0M657.7,355.1h0M657.8,361.6h0M657.9,355.8h0M658.1,359.7h0M658.2,367.4h0M658.3,366.3h0M658.5,366.1h0M658.6,360.4h0M658.7,356.4h0M658.9,351.7h0M659.0,347.5h0M659.1,347.4h0M659.3,349.0h0M659.4,350.6h0M659.5,352.5h0M659.7,359.5h0M659.8,348.0h0M660.0,351.7h0M660.1,350.7h0M660.2,355.8h0M660.4,350.4h0M660.5,354.1h0M660.6,344.2h0M660.8,351.8h0M660.9,347.3h0M661.0,345.7h0M661.2,347.9h0M661.3,353.5h0M661.4,351.9h0M661.6,350.1h0M661.7,352.7h0M661.8,358.3h0M662.0,347.0h0M662.1,348.6h0M662.2,342.7h0M662.4,347.8h0M662.5,342.2h0M662.6,343.2h0M662.8,350.0h0M662.9,350.2h0M663.0,353.3h0M663.2,349.3h0M663.3,345.5h0M663.5,347.7h0M663.6,343.6h0M663.7,344.7h0M663.9,343.1h0M664.0,348.3h0M664.1,351.2h0M664.3,353.5h0M664.4,342.7h0M664.5,344.7h0M664.7,339.7h0M664.8,339.7h0M664.9,334.2h0M666.5,304.0h0M666.5,266.0h0M668.0,210.0h0M666.5,215.0h0M666.5,220.0h0M676.0,212.0h0M676.0,217.0h0M666.1,203.6h0M666.2,199.3h0M666.3,192.2h0M666.5,192.4h0M666.6,185.1h0M666.7,181.4h0M666.9,201.4h0M667.0,201.0h0M667.1,198.1h0M667.3,195.5h0M667.4,213.5h0M667.6,186.8h0M667.7,196.7h0M667.8,187.4h0M668.0,183.9h0M668.1,181.1h0M668.2,175.6h0M668.4,183.3h0M668.5,196.8h0M668.6,189.8h0M668.8,197.9h0M668.9,185.8h0M669.0,198.1h0M669.2,175.4h0M669.3,176.4h0M669.4,194.9h0M669.6,162.1h0M669.7,161.5h0M669.9,168.3h0M670.0,172.4h0M670.1,189.6h0M670.3,178.0h0M670.4,198.3h0M670.5,200.0h0M670.7,208.7h0M670.8,207.9h0M670.9,180.6h0M671.1,174.7h0M671.2,183.0h0M671.3,193.4h0M671.5,185.5h0M671.6,205.9h0M671.7,207.0h0M671.9,209.7h0M672.0,210.6h0M672.1,188.4h0M672.3,179.9h0M672.4,181.2h0M672.6,171.1h0M672.7,180.8h0M672.8,190.8h0M673.0,183.8h0M673.1,172.7h0M673.2,179.4h0M673.4,209.5h0M673.5,197.5h0M673.6,207.8h0M673.8,206.4h0M673.9,196.1h0M674.0,198.3h0M674.2,192.3h0M674.3,185.1h0M674.4,180.0h0M674.6,184.0h0M674.7,191.4h0M674.9,182.9h0M675.0,176.0h0M675.1,202.0h0M675.3,192.8h0M675.4,214.1h0M675.5,209.6h0M675.7,217.6h0M675.8,218.1h0M675.9,207.8h0M673.0,161.0h0M673.5,156.0h0M671.5,151.5h0M671.5,140.5h0M671.5,129.5h0M666.5,128.0h0M666.5,131.0h0M671.5,122.5h0M671.5,117.5h0M669.5,108.0h0M671.5,107.0h0M670.4,101.0h0M670.4,98.0h0M670.4,86.0h0M670.4,72.5h0M670.4,67.5h0M670.4,39.4h0M677.1,232.6h0M677.2,251.3h0M677.3,249.8h0M677.5,249.6h0M677.6,246.5h0M677.8,239.0h0M677.9,243.3h0M678.0,251.7h0M678.2,258.2h0M678.3,248.3h0M678.4,242.5h0M678.6,247.3h0M678.7,253.6h0M678.8,248.7h0M679.0,255.4h0M679.1,252.5h0M679.2,249.8h0M679.4,257.3h0M679.5,261.4h0M679.7,258.5h0M679.8,247.6h0M679.9,257.4h0M680.1,262.6h0M680.2,256.6h0M680.3,253.1h0M680.5,260.0h0M680.6,256.8h0M680.7,265.1h0M680.9,265.5h0M681.0,256.2h0M681.1,264.1h0M681.3,275.3h0M681.4,271.6h0M681.5,267.7h0M681.7,270.6h0M681.8,264.6h0M681.9,279.1h0M682.1,268.4h0M682.2,269.1h0M682.3,273.9h0M682.5,273.8h0M682.6,272.1h0M682.7,271.1h0M682.9,279.1h0M683.0,281.1h0M683.1,283.3h0M683.2,287.3h0M683.4,283.9h0M683.5,270.7h0M683.6,271.6h0M683.8,288.3h0M683.9,276.4h0M684.0,283.5h0M684.2,285.1h0M684.3,290.1h0M684.4,296.7h0M685.1,285.6h0M685.2,295.6h0M685.3,299.3h0M685.5,298.9h0M685.6,301.5h0M685.7,289.4h0M685.9,286.0h0M686.0,293.3h0M686.1,297.2h0M686.3,297.9h0M686.4,294.1h0M686.5,291.3h0M686.7,292.9h0M686.8,298.0h0M686.9,285.6h0M687.1,292.8h0M687.2,289.1h0M687.3,291.8h0M687.5,292.8h0M687.6,296.3h0M687.7,290.3h0M687.9,279.1h0M688.0,289.8h0M688.1,291.6h0M688.3,295.7h0M688.4,294.7h0M688.5,284.6h0M688.7,284.7h0M688.8,285.9h0M688.9,288.3h0M689.1,286.3h0M689.2,282.9h0M689.3,294.8h0M689.5,292.0h0M689.6,299.6h0M689.7,295.8h0M689.9,286.6h0M690.0,286.3h0M690.1,286.8h0M690.3,282.8h0M690.4,280.9h0M690.5,286.5h0M690.7,291.8h0M690.8,293.0h0M690.9,291.6h0M688.1,298.8h0M688.2,307.2h0M688.3,304.9h0M688.5,300.2h0M688.6,306.5h0M688.8,294.1h0M688.9,294.8h0M689.0,300.0h0M689.2,293.8h0M689.3,293.9h0M689.4,301.6h0M689.6,304.8h0M689.7,312.7h0M689.8,304.0h0M690.0,301.2h0M690.1,305.8h0M690.2,301.5h0M690.4,305.1h0M690.5,308.5h0M690.7,301.7h0M690.8,304.6h0M690.9,315.7h0M691.1,307.2h0M691.2,312.3h0M691.3,315.5h0M691.5,316.5h0M691.6,317.6h0M691.7,311.5h0M691.9,313.0h0M692.0,322.9h0M692.1,323.9h0M692.3,325.0h0M692.4,326.8h0M692.5,322.9h0M692.7,323.6h0M692.8,321.0h0M692.9,323.1h0M693.1,326.6h0M693.2,323.8h0M693.3,323.5h0M693.5,324.5h0M693.6,323.0h0M693.7,324.7h0M693.9,328.1h0M694.0,326.2h0M694.1,325.1h0M694.3,328.8h0M694.4,335.8h0M694.5,334.0h0M694.7,338.2h0M694.8,332.5h0M694.9,336.4h0M695.1,337.3h0M695.2,343.6h0M695.3,344.4h0M695.5,334.4h0M695.6,340.8h0M695.7,339.2h0M695.9,341.1h0M696.0,340.0h0M696.1,331.8h0M696.3,335.6h0M696.4,341.5h0M696.6,345.6h0M696.7,336.5h0M696.8,344.9h0M697.0,350.1h0M697.1,344.7h0M697.2,341.2h0M697.4,348.8h0M697.5,342.6h0M697.6,356.0h0M697.8,342.9h0M697.9,343.3h0M698.0,364.7h0M698.2,358.3h0M698.3,346.4h0M698.4,351.9h0M698.6,356.9h0M698.7,349.9h0M698.9,356.1h0M699.0,356.5h0M699.1,358.4h0M699.3,363.8h0M699.4,368.8h0M699.5,373.1h0M699.7,367.6h0M699.8,358.4h0M699.9,367.1h0M700.1,355.8h0M700.2,367.3h0M700.3,362.3h0M700.5,361.9h0M700.6,369.4h0M700.7,367.6h0M700.9,367.6h0M701.0,366.3h0M701.1,368.4h0M701.3,371.5h0M701.4,373.7h0M701.5,366.3h0M701.7,370.3h0M701.8,371.8h0M701.9,376.5h0M701.5,381.0h0M701.5,392.5h0M702.1,367.0h0M702.2,367.8h0M702.3,364.6h0M702.5,368.6h0M702.6,369.9h0M702.7,370.6h0M702.9,370.3h0M703.0,370.0h0M703.1,365.8h0M703.3,365.3h0M703.4,363.3h0M703.5,369.0h0M703.7,368.5h0M703.8,357.7h0M703.9,353.0h0M704.1,355.8h0M704.2,347.4h0M704.3,348.1h0M704.5,352.7h0M704.6,349.8h0M704.7,348.4h0M704.9,346.7h0M705.0,342.8h0M705.1,350.4h0M705.3,340.1h0M705.4,351.1h0M705.5,346.9h0M705.7,348.4h0M705.8,346.5h0M705.9,346.2h0M705.5,342.0h0M706.1,358.1h0M706.2,351.6h0M706.3,360.7h0M706.5,352.3h0M706.6,347.9h0M706.7,359.4h0M706.9,358.0h0M707.0,359.4h0M707.1,352.8h0M707.3,361.9h0M707.4,354.4h0M707.5,355.0h0M707.7,357.8h0M707.8,352.4h0M707.9,360.4h0M708.1,364.9h0M708.2,360.7h0M708.3,355.1h0M708.5,358.0h0M708.6,363.2h0M708.7,370.7h0M708.9,372.5h0M709.0,374.4h0M709.1,370.8h0M709.3,371.9h0M709.4,368.8h0M709.5,367.5h0M709.7,373.7h0M709.8,379.0h0M709.9,375.6h0M710.1,367.9h0M710.2,369.6h0M710.3,362.9h0M710.5,368.2h0M710.6,361.9h0M710.7,360.0h0M710.9,362.9h0M711.0,360.1h0M711.1,353.6h0M711.3,360.5h0M711.4,358.3h0M711.5,358.2h0M711.7,353.6h0M711.8,350.3h0M711.9,351.3h0M711.5,312.0h0M711.5,316.0h0M712.0,325.0h0M712.5,330.0h0M712.1,344.5h0M712.2,346.7h0M712.3,355.9h0M712.5,352.8h0M712.6,353.5h0M712.7,354.3h0M712.9,351.8h0M713.0,345.0h0M713.1,353.3h0M713.3,346.9h0M713.4,344.3h0M713.5,345.6h0M713.7,347.9h0M713.8,352.8h0M713.9,348.0h0M714.1,357.2h0M714.2,349.1h0M714.3,348.0h0M714.5,353.8h0M714.6,347.6h0M714.7,342.4h0M714.9,344.4h0M715.0,345.1h0M715.1,342.0h0M715.3,344.6h0M715.4,338.1h0M715.5,336.4h0M715.7,332.6h0M715.8,333.6h0M715.9,340.3h0M716.1,333.3h0M716.2,340.2h0M716.3,343.0h0M716.5,338.8h0M716.6,341.1h0M716.7,338.4h0M716.9,339.7h0M717.0,340.7h0M717.1,332.9h0M717.3,331.7h0M717.4,343.4h0M717.5,338.8h0M717.7,336.7h0M717.8,340.5h0M717.9,346.9h0M718.1,341.2h0M718.2,338.5h0M718.3,339.0h0M718.5,335.9h0M718.6,340.0h0M718.7,342.6h0M718.9,336.4h0M719.0,333.4h0M719.1,337.5h0M719.3,336.4h0M719.4,337.7h0M719.5,337.5h0M719.7,340.6h0M719.8,337.1h0M719.9,339.3h0M720.5,293.0h0M709.5,293.0h0M720.1,300.2h0M720.2,296.8h0M720.3,295.0h0M720.5,287.9h0M720.6,281.9h0M720.7,284.9h0M720.9,290.3h0M721.0,284.0h0M721.1,290.7h0M721.3,275.9h0M721.4,267.8h0M721.5,270.9h0M721.7,281.0h0M721.8,266.9h0M721.9,276.2h0M722.1,274.5h0M722.2,277.4h0M722.3,273.4h0M722.5,272.2h0M722.6,277.8h0M722.7,270.9h0M722.9,271.1h0M723.0,276.8h0M723.1,276.4h0M723.3,266.9h0M723.4,271.9h0M723.5,272.4h0M723.7,277.6h0M723.8,267.0h0M724.0,275.3h0M724.1,259.4h0M724.2,265.2h0M724.4,263.8h0M724.5,254.9h0M724.6,257.6h0M724.8,254.2h0M724.9,255.5h0M725.0,264.1h0M725.2,265.0h0M725.3,265.4h0M725.4,263.2h0M725.4,259.8h0M725.3,261.7h0M725.2,260.6h0M725.0,251.4h0M724.9,250.9h0M724.8,260.9h0M724.6,255.2h0M724.5,250.8h0M724.4,244.4h0M724.2,247.2h0M724.1,246.2h0M724.0,248.8h0M723.9,249.5h0M723.7,250.3h0M723.6,250.4h0M723.5,249.4h0M723.3,249.9h0M723.2,254.2h0M723.1,252.8h0M721.5,237.0h0M726.1,238.2h0M726.2,236.9h0M726.3,238.1h0M726.5,237.4h0M726.6,235.4h0M726.8,238.1h0M726.9,236.6h0M727.0,241.0h0M727.2,233.2h0M727.3,240.1h0M727.4,236.3h0M727.6,241.0h0M727.7,232.3h0M727.8,234.0h0M728.0,233.2h0M728.1,240.1h0M728.2,239.2h0M728.4,230.9h0M728.5,236.2h0M728.7,237.2h0M728.8,237.6h0M728.9,232.2h0M729.1,225.8h0M729.2,227.0h0M729.4,223.8h0M729.5,223.0h0M729.6,204.2h0M729.8,201.5h0M729.9,198.1h0M729.1,206.4h0M729.2,200.4h0M729.3,202.9h0M729.5,200.3h0M729.6,187.8h0M729.8,198.1h0M729.9,197.3h0M730.0,187.0h0M730.2,186.1h0M730.3,191.3h0M730.4,194.2h0M730.6,214.3h0M730.7,211.2h0M730.8,195.8h0M731.0,195.2h0M731.1,193.9h0M731.2,189.5h0M731.4,202.9h0M731.5,208.9h0M731.7,210.9h0M731.8,209.4h0M731.9,208.1h0M728.5,180.0h0M735.5,172.0h0M735.5,166.0h0M737.0,157.0h0M736.5,151.0h0M736.5,140.0h0M733.1,200.2h0M733.2,208.7h0M733.3,200.0h0M733.5,195.9h0M733.6,189.9h0M733.7,200.8h0M733.9,217.2h0M734.0,204.2h0M734.1,194.2h0M734.3,207.8h0M734.4,218.4h0M734.6,195.5h0M734.7,205.4h0M734.8,190.6h0M735.0,213.0h0M735.1,197.6h0M735.2,218.2h0M735.4,209.3h0M735.5,216.6h0M735.6,221.2h0M735.8,213.8h0M735.9,211.3h0M736.0,222.1h0M736.2,207.2h0M736.3,191.6h0M736.4,200.4h0M736.6,202.1h0M736.7,198.7h0M736.9,190.0h0M737.0,205.6h0M737.1,212.8h0M737.3,199.6h0M737.4,211.7h0M737.5,218.0h0M737.7,220.7h0M737.8,201.8h0M737.9,203.9h0M737.1,232.7h0M737.2,231.4h0M737.3,229.3h0M737.5,229.8h0M737.6,235.1h0M737.7,227.0h0M737.9,227.6h0M738.0,234.9h0M738.1,235.7h0M738.3,240.8h0M738.4,244.1h0M738.5,237.9h0M738.7,242.2h0M738.8,245.2h0M739.0,243.8h0M739.1,242.9h0M739.2,252.4h0M739.4,246.4h0M739.5,255.4h0M739.6,249.7h0M739.8,251.7h0M739.9,251.5h0M740.0,248.5h0M740.2,259.4h0M740.3,264.0h0M740.4,260.8h0M741.5,273.0h0M741.5,277.0h0M741.5,303.0h0M743.0,308.0h0M752.5,295.0h0M752.5,299.0h0M742.1,325.6h0M742.2,325.9h0M742.3,325.6h0M742.5,324.5h0M742.6,332.3h0M742.7,330.1h0M742.9,330.0h0M743.0,333.9h0M743.1,335.4h0M743.3,341.0h0M743.4,343.8h0M743.5,342.4h0M743.7,343.3h0M743.8,349.7h0M743.9,349.7h0M744.1,352.3h0M744.2,353.7h0M744.4,363.9h0M744.5,372.7h0M744.6,377.8h0M744.8,381.6h0M744.9,383.4h0M745.1,375.7h0M745.2,381.3h0M745.3,380.4h0M745.5,370.1h0M745.6,367.9h0M745.7,362.9h0M745.9,361.6h0M746.0,367.4h0M746.1,360.2h0M746.3,362.4h0M746.4,364.3h0M746.5,358.6h0M746.7,367.2h0M746.8,366.3h0M746.9,363.6h0M747.1,356.8h0M747.2,356.5h0M747.3,352.1h0M747.5,344.6h0M747.6,343.5h0M747.7,341.6h0M747.9,345.6h0M748.0,350.4h0M748.1,349.0h0M748.3,344.3h0M748.4,333.4h0M748.5,335.5h0M748.7,345.1h0M748.8,340.1h0M748.9,339.1h0M749.1,313.6h0M749.2,316.6h0M749.3,313.9h0M749.5,315.8h0M749.6,312.3h0M749.8,314.9h0M749.9,313.9h0M750.0,321.9h0M750.2,318.8h0M750.3,321.2h0M750.4,318.8h0M750.6,315.9h0M750.7,310.8h0M750.8,308.1h0M751.0,309.8h0M751.1,312.3h0M751.2,314.6h0M751.4,312.3h0M751.5,312.6h0M751.7,315.8h0M751.8,318.3h0M751.9,319.2h0M752.1,313.2h0M752.2,312.2h0M752.3,313.0h0M752.5,312.1h0M752.6,323.8h0M752.8,323.5h0M752.9,326.1h0M753.0,328.2h0M753.2,330.2h0M753.3,327.7h0M753.4,331.4h0M753.6,333.9h0M753.7,331.8h0M753.8,334.5h0M754.0,334.2h0M754.1,334.1h0M754.2,333.2h0M754.4,336.8h0M754.5,337.5h0M754.7,336.2h0M754.8,337.0h0M754.9,337.6h0M755.1,345.3h0M755.2,342.6h0M755.3,342.5h0M755.5,337.0h0M755.6,339.6h0M755.7,350.0h0M755.9,350.1h0M756.0,340.9h0M756.1,339.3h0M756.3,341.5h0M756.4,348.6h0M756.6,345.4h0M756.7,336.5h0M756.8,342.7h0M757.0,345.2h0M757.1,343.5h0M757.2,344.1h0M757.4,343.6h0M757.5,342.6h0M757.6,352.3h0M757.8,353.7h0M757.9,351.8h0M758.0,346.6h0M758.2,350.2h0M758.3,343.2h0M758.4,344.8h0M758.6,352.8h0M758.7,351.2h0M758.9,349.8h0M759.0,344.2h0M759.1,348.8h0M759.3,351.2h0M759.4,353.5h0M759.5,352.1h0M759.7,349.8h0M759.8,342.9h0M759.9,352.7h0M760.1,341.5h0M760.2,341.8h0M760.3,337.5h0M760.5,336.9h0M760.6,338.8h0M760.7,347.0h0M760.9,354.7h0M761.0,345.2h0M761.1,345.1h0M761.3,330.1h0M761.4,328.1h0M761.5,332.9h0M761.7,344.3h0M761.8,333.2h0M761.9,342.9h0M762.1,344.7h0M762.2,351.9h0M762.3,332.7h0M762.5,334.3h0M762.6,333.1h0M762.7,345.2h0M762.9,352.2h0M763.0,340.8h0M763.1,353.0h0M763.3,346.7h0M763.4,342.7h0M763.5,344.5h0M763.7,332.8h0M763.8,345.2h0M764.0,340.1h0M764.1,339.3h0M764.2,341.8h0M764.4,337.9h0M764.5,345.1h0M764.6,344.7h0M764.8,339.6h0M764.9,327.4h0M765.0,339.4h0M765.2,344.2h0M765.3,350.4h0M765.4,350.8h0M765.6,330.2h0M765.7,343.4h0M765.8,345.2h0M766.0,343.3h0M766.1,336.7h0M766.2,349.8h0M766.4,347.8h0M766.5,358.0h0M766.6,360.3h0M766.8,347.1h0M766.9,353.0h0M767.0,350.2h0M767.2,348.6h0M767.3,352.3h0M767.4,355.1h0M767.6,346.1h0M767.7,353.5h0M767.8,355.2h0M768.0,342.7h0M768.1,352.2h0M768.2,342.2h0M768.4,343.8h0M768.5,356.2h0M768.6,357.2h0M768.8,346.0h0M768.9,335.5h0M769.0,366.7h0M769.2,360.2h0M769.3,355.7h0M769.4,353.5h0M769.6,346.3h0M769.7,340.2h0M769.8,350.8h0M770.0,339.5h0M770.1,343.6h0M770.2,350.2h0M770.4,342.7h0M770.5,354.2h0M770.6,356.4h0M770.8,360.6h0M770.9,366.1h0M771.0,357.9h0M771.2,348.4h0M771.3,353.8h0M771.5,361.3h0M771.6,336.2h0M771.7,344.0h0M771.9,354.2h0M772.0,349.1h0M772.1,364.3h0M772.3,341.8h0M772.4,345.9h0M772.5,350.9h0M772.7,346.7h0M772.8,362.5h0M772.9,349.6h0M773.1,355.9h0M773.2,365.6h0M773.3,357.1h0M773.5,347.1h0M773.6,358.7h0M773.7,351.2h0M773.9,339.0h0M774.0,347.1h0M774.1,350.1h0M774.3,356.8h0M774.4,347.8h0M774.5,347.7h0M774.7,337.1h0M774.8,345.1h0M774.9,355.1h0M775.1,348.2h0M775.2,337.3h0M775.3,352.1h0M775.5,348.9h0M775.6,346.9h0M775.7,351.7h0M775.9,345.9h0M776.0,342.8h0M776.1,345.9h0M776.3,347.2h0M776.4,340.4h0M776.5,332.2h0M776.7,344.0h0M776.8,356.5h0M776.9,345.3h0M777.1,344.8h0M777.2,357.1h0M777.3,345.9h0M777.5,335.9h0M777.6,363.7h0M777.7,363.6h0M777.9,357.7h0M778.0,362.9h0M778.1,348.0h0M778.3,359.9h0M778.4,344.5h0M778.5,348.1h0M778.7,353.4h0M778.8,345.1h0M779.0,336.1h0M779.1,354.8h0M779.2,341.4h0M779.4,345.1h0M779.5,349.6h0M779.6,336.4h0M779.8,335.7h0M779.9,343.8h0M780.0,341.7h0M780.2,340.4h0M780.3,361.9h0M780.4,348.3h0M780.6,356.7h0M780.7,350.1h0M780.8,360.5h0M781.0,343.9h0M781.1,337.6h0M781.2,350.8h0M781.4,357.4h0M781.5,363.2h0M781.6,360.1h0M781.8,360.5h0M781.9,358.5h0M782.0,361.2h0M782.2,359.5h0M782.3,351.7h0M782.4,349.7h0M782.6,344.9h0M782.7,356.7h0M782.8,334.3h0M783.0,343.7h0M783.1,350.4h0M783.2,345.4h0M783.4,336.7h0M783.5,344.7h0M783.6,349.4h0M783.8,357.9h0M783.9,362.3h0M784.0,355.0h0M784.2,354.1h0M784.3,353.0h0M784.4,343.3h0M784.6,355.1h0M784.7,351.7h0M784.8,343.2h0M785.0,343.8h0M785.1,346.7h0M785.2,347.7h0M785.4,354.0h0M785.5,351.4h0M785.6,338.4h0M785.8,352.4h0M785.9,360.6h0M786.0,359.8h0M786.2,363.0h0M786.3,352.7h0M786.5,355.8h0M786.6,347.7h0M786.7,362.7h0M786.9,349.7h0M787.0,345.0h0M787.1,348.5h0M787.3,335.7h0M787.4,355.5h0M787.5,349.5h0M787.7,347.7h0M787.8,352.1h0M787.9,344.5h0M788.1,352.6h0M788.2,339.9h0M788.3,349.9h0M788.5,335.6h0M788.6,348.6h0M788.7,338.5h0M788.9,338.0h0M789.0,345.5h0M789.1,348.0h0M789.3,347.5h0M789.4,349.0h0M789.5,354.4h0M789.7,348.2h0M789.8,345.9h0M789.9,342.5h0M790.1,348.6h0M790.2,338.7h0M790.3,347.3h0M790.5,350.8h0M790.6,338.1h0M790.7,349.2h0M790.9,339.0h0M791.0,343.2h0M791.1,340.3h0M791.3,343.7h0M791.4,347.0h0M791.5,347.0h0M791.7,352.4h0M791.8,352.2h0M791.9,339.9h0M792.1,343.4h0M792.2,338.7h0M792.3,344.9h0M792.5,339.6h0M792.6,338.0h0M792.7,343.5h0M792.9,342.2h0M793.0,348.4h0M793.1,349.0h0M793.3,344.7h0M793.4,340.3h0M793.5,345.2h0M793.7,355.3h0M793.8,360.8h0M793.9,348.1h0M794.1,347.8h0M794.2,345.1h0M794.3,348.8h0M794.5,346.9h0M794.6,357.2h0M794.7,349.2h0M794.9,345.8h0M795.0,344.1h0M795.1,352.0h0M795.3,345.7h0M795.4,347.9h0M795.5,362.2h0M795.7,360.6h0M795.8,354.8h0M795.9,352.2h0M796.1,349.8h0M796.2,361.0h0M796.3,347.8h0M796.5,354.2h0M796.6,352.6h0M796.7,347.1h0M796.9,338.6h0M797.0,339.7h0M797.1,347.6h0M797.3,357.1h0M797.4,355.4h0M797.5,351.1h0M797.7,344.2h0M797.8,352.2h0M797.9,350.6h0M798.1,355.1h0M798.2,342.3h0M798.3,341.4h0M798.5,346.8h0M798.6,342.8h0M798.7,349.8h0M798.9,359.7h0M799.0,357.1h0M799.1,346.8h0M799.3,358.8h0M799.4,352.1h0M799.5,357.4h0M799.7,355.1h0M799.8,345.0h0M799.9,342.4h0M800.1,338.6h0M800.2,348.8h0M800.3,348.8h0M800.5,360.8h0M800.6,350.1h0M800.7,357.8h0M800.9,358.0h0M801.0,359.6h0M801.1,346.7h0M801.3,355.5h0M801.4,341.5h0M801.5,344.9h0M801.7,350.1h0M801.8,351.1h0M801.9,341.2h0M802.1,348.1h0M802.2,342.5h0M802.3,347.3h0M802.5,350.8h0M802.6,358.6h0M802.7,351.7h0M802.9,341.8h0M803.0,342.6h0M803.1,356.9h0M803.3,348.4h0M803.4,349.9h0M803.5,341.1h0M803.7,352.3h0M803.8,350.3h0M803.9,347.0h0M804.1,357.0h0M804.2,358.3h0M804.3,356.7h0M804.5,359.2h0M804.6,346.2h0M804.7,343.7h0M804.9,335.3h0M805.0,346.1h0M805.1,348.6h0M805.3,345.6h0M805.4,357.0h0M805.5,342.1h0M805.7,346.7h0M805.8,346.5h0M805.9,336.8h0M806.1,345.7h0M806.2,345.4h0M806.3,345.1h0M806.5,337.8h0M806.6,347.1h0M806.7,349.9h0M806.9,350.4h0M807.0,350.1h0M807.1,350.4h0M807.3,342.3h0M807.4,351.1h0M807.5,352.4h0M807.7,346.1h0M807.8,342.9h0M807.9,338.3h0M808.1,340.1h0M808.2,350.2h0M808.3,343.1h0M808.5,351.2h0M808.6,358.7h0M808.7,355.6h0M808.9,347.9h0M809.0,353.5h0M809.1,350.8h0M809.3,348.0h0M809.4,340.1h0M809.5,346.0h0M809.7,360.9h0M809.8,363.8h0M809.9,352.6h0M810.1,358.4h0M810.2,348.8h0M810.3,339.1h0M810.5,339.7h0M810.6,346.4h0M810.7,343.6h0M810.9,347.7h0M811.0,348.8h0M811.1,347.3h0M811.3,352.0h0M811.4,359.8h0M811.5,343.9h0M811.7,350.8h0M811.8,347.7h0M811.9,357.0h0M812.1,344.2h0M812.2,346.0h0M812.3,343.0h0M812.5,344.2h0M812.6,348.3h0M812.7,349.0h0M812.9,343.7h0M813.0,339.6h0M813.1,339.6h0M813.3,337.4h0M813.4,346.4h0M813.5,352.2h0M813.7,352.0h0M813.8,344.5h0M813.9,346.7h0M814.1,349.5h0M814.2,346.5h0M814.3,345.6h0M814.5,352.4h0M814.6,348.3h0M814.7,346.0h0M814.9,341.5h0M815.0,344.4h0M815.1,351.9h0M815.3,352.5h0M815.4,356.0h0M815.5,348.9h0M815.7,345.5h0M815.8,345.4h0M815.9,349.7h0M816.1,350.4h0M816.2,343.4h0M816.3,341.7h0M816.5,349.0h0M816.6,355.6h0M816.7,358.0h0M816.9,346.5h0M817.0,340.6h0M817.1,338.8h0M817.3,339.9h0M817.4,346.8h0M817.5,355.6h0M817.7,355.7h0M817.8,354.1h0M817.9,357.3h0M818.1,346.6h0M818.2,351.6h0M818.3,357.3h0M818.5,355.9h0M818.6,350.7h0M818.7,343.6h0M818.9,337.9h0M819.0,345.9h0M819.1,340.7h0M819.3,349.8h0M819.4,344.7h0M819.5,353.7h0M819.7,351.4h0M819.8,348.6h0M819.9,351.7h0M820.1,345.9h0M820.2,346.2h0M820.3,345.1h0M820.5,342.8h0M820.6,350.6h0M820.7,346.8h0M820.9,344.5h0M821.0,346.7h0M821.1,345.3h0M821.3,339.1h0M821.4,344.6h0M821.6,341.2h0M821.7,341.6h0M821.8,333.9h0M822.0,332.3h0M822.1,331.0h0M822.2,334.5h0M822.4,334.9h0M822.5,343.2h0M822.6,345.7h0M822.8,343.4h0M822.9,332.8h0M823.0,334.3h0M823.2,338.9h0M823.3,337.9h0M823.4,333.5h0M823.6,334.4h0M823.7,338.6h0M823.9,332.6h0M824.0,331.5h0M824.1,325.0h0M824.3,329.3h0M824.4,328.9h0M824.5,329.8h0M824.7,332.5h0M824.8,329.3h0M824.9,332.3h0M825.1,330.0h0M825.2,332.7h0M825.3,333.5h0M825.5,334.0h0M825.6,330.3h0M825.8,329.8h0M825.9,325.1h0M826.0,324.5h0M826.2,324.7h0M826.3,328.8h0M826.4,329.0h0M826.6,325.7h0M826.7,322.9h0M826.8,324.5h0M827.0,324.2h0M827.1,320.1h0M827.2,321.2h0M827.4,317.6h0M827.5,318.6h0M827.7,318.6h0M827.8,319.8h0M827.9,320.8h0M828.1,314.0h0M828.2,314.2h0M828.3,317.3h0M828.5,313.6h0M828.6,312.9h0M828.7,311.6h0M828.9,309.7h0M829.0,300.9h0M829.1,304.8h0M829.2,296.8h0M829.4,297.8h0M829.5,299.6h0M829.6,293.4h0M829.8,290.1h0M829.9,290.6h0M830.0,293.2h0M830.2,290.1h0M830.3,295.9h0M830.4,291.1h0M831.1,298.2h0M831.2,304.1h0M831.3,299.3h0M831.5,297.1h0M831.6,301.2h0M831.7,304.0h0M831.9,303.2h0M832.0,304.6h0M832.1,304.8h0M832.3,308.3h0M832.4,303.2h0M832.6,312.4h0M832.7,313.8h0M832.8,320.7h0M833.0,321.8h0M833.1,316.1h0M833.2,307.7h0M833.4,312.4h0M833.5,320.0h0M833.6,319.5h0M833.8,321.9h0M833.9,322.3h0M834.0,324.9h0M834.2,325.1h0M834.3,318.3h0M834.4,321.5h0M834.6,330.4h0M834.7,326.1h0M834.9,330.9h0M835.0,330.3h0M835.1,318.6h0M835.3,326.7h0M835.4,326.0h0M835.5,328.8h0M835.7,328.4h0M835.8,333.8h0M835.9,321.7h0M836.1,329.7h0M836.2,331.3h0M836.3,326.1h0M836.5,323.5h0M836.6,322.7h0M836.7,327.6h0M836.9,321.9h0M837.0,324.1h0M837.1,319.1h0M837.3,319.2h0M837.4,315.9h0M837.5,318.8h0M837.7,325.4h0M837.8,321.3h0M837.9,317.6h0M838.1,312.3h0M838.2,312.7h0M838.3,313.8h0M838.5,306.1h0M838.6,305.2h0M838.7,303.3h0M838.9,307.7h0M839.0,307.4h0M839.1,310.5h0M839.3,304.5h0M839.4,307.2h0M839.5,299.1h0M839.7,299.8h0M839.8,304.7h0M839.9,298.4h0M840.1,307.6h0M840.2,298.5h0M840.3,301.1h0M840.5,301.7h0M840.6,294.9h0M840.7,292.9h0M840.9,293.7h0M841.0,292.0h0M841.1,291.6h0M841.3,292.5h0M841.4,288.8h0M841.5,290.5h0M841.7,291.6h0M841.8,287.1h0M842.0,284.0h0M842.1,284.6h0M842.2,281.4h0M842.4,287.0h0M842.5,277.5h0M842.6,279.1h0M842.8,281.3h0M842.9,282.1h0M843.0,278.9h0M843.2,271.1h0M843.3,275.7h0M843.4,269.0h0M843.6,271.5h0M843.7,274.9h0M843.8,275.6h0M844.0,276.4h0M844.1,277.3h0M844.2,276.3h0M844.4,273.3h0M844.5,276.0h0M844.6,277.8h0M844.8,282.0h0M844.9,286.6h0M845.0,284.3h0M845.1,288.5h0M845.3,285.9h0M845.4,282.4h0M845.5,288.1h0M845.7,289.7h0M845.8,290.7h0M845.9,298.2h0M846.1,296.2h0M846.2,296.7h0M846.3,295.9h0M846.5,295.3h0M846.6,298.8h0M846.7,293.9h0M846.9,297.7h0M847.0,298.5h0M847.1,290.2h0M847.3,290.2h0M847.4,296.3h0M847.5,291.9h0M847.7,297.4h0M847.8,299.4h0M848.0,293.4h0M848.1,300.7h0M848.2,296.7h0M848.4,292.2h0M848.5,293.5h0M848.6,293.3h0M848.8,284.9h0M848.9,282.9h0M849.0,292.4h0M849.2,299.0h0M849.3,302.7h0M849.4,302.5h0M849.6,290.6h0M849.7,293.6h0M849.8,290.0h0M850.0,294.3h0M850.1,291.9h0M850.2,297.9h0M850.4,298.2h0M850.5,297.4h0M850.6,302.6h0M850.8,297.6h0M850.9,292.6h0M851.0,296.1h0M851.2,297.3h0M851.3,301.3h0M851.5,304.6h0M851.6,294.7h0M851.7,289.2h0M851.9,297.7h0M852.0,299.7h0M852.1,302.6h0M852.3,296.7h0M852.4,294.9h0M852.5,301.0h0M852.7,293.2h0M852.8,296.7h0M852.9,289.7h0M850.1,303.1h0M850.2,302.9h0M850.3,303.9h0M850.5,304.6h0M850.6,299.2h0M850.8,301.8h0M850.9,307.8h0M851.0,307.1h0M851.2,309.8h0M851.3,308.8h0M851.4,313.5h0M851.6,314.7h0M851.7,309.4h0M851.8,312.9h0M852.0,314.1h0M852.1,317.5h0M852.2,308.0h0M852.4,313.0h0M852.5,316.7h0M852.7,318.0h0M852.8,312.6h0M852.9,320.3h0M853.1,311.3h0M853.2,314.1h0M853.3,311.5h0M853.5,314.9h0M853.6,312.8h0M853.7,316.1h0M853.9,322.4h0M854.0,318.9h0M854.1,320.0h0M854.3,325.9h0M854.4,321.1h0M854.5,317.1h0M854.7,317.7h0M854.8,318.1h0M855.0,320.6h0M855.1,319.0h0M855.2,318.5h0M855.4,319.6h0M855.5,318.8h0M855.6,320.8h0M855.8,316.7h0M855.9,312.2h0M856.0,312.9h0M856.2,315.7h0M856.3,319.0h0M856.4,318.3h0M856.6,325.1h0M856.7,323.5h0M856.8,324.6h0M857.0,321.7h0M857.1,321.3h0M857.2,323.5h0M857.4,318.0h0M857.5,318.3h0M857.6,323.5h0M857.8,321.4h0M857.9,322.6h0M858.0,321.6h0M858.2,324.1h0M858.3,324.2h0M858.5,326.7h0M858.6,329.0h0M858.7,320.8h0M858.9,324.3h0M859.0,325.8h0M859.1,323.6h0M859.3,331.4h0M859.4,327.2h0M859.5,329.7h0M859.7,330.3h0M859.8,328.2h0M859.9,331.3h0M860.1,332.9h0M860.2,326.6h0M860.3,331.7h0M860.5,329.9h0M860.6,324.4h0M860.7,328.3h0M860.9,328.3h0M861.0,333.4h0M861.1,328.4h0M861.3,332.1h0M861.4,327.5h0M861.5,325.7h0M861.7,334.6h0M861.8,328.4h0M861.9,334.1h0M862.1,336.6h0M862.2,333.0h0M862.3,337.0h0M862.5,340.8h0M862.6,340.1h0M862.7,335.1h0M862.9,328.0h0M863.0,329.5h0M863.1,332.1h0M863.3,327.4h0M863.4,333.8h0M863.5,338.2h0M863.7,335.8h0M863.8,332.2h0M863.9,336.3h0M864.1,336.3h0M864.2,340.5h0M864.3,338.8h0M864.5,338.1h0M864.6,341.5h0M864.7,344.5h0M864.9,344.7h0M865.0,349.9h0M865.1,346.4h0M865.3,344.5h0M865.4,343.3h0M865.5,341.6h0M865.7,346.4h0M865.8,348.5h0M865.9,345.5h0M866.1,343.8h0M866.2,346.4h0M866.3,334.0h0M866.5,340.7h0M866.6,344.3h0M866.7,340.2h0M866.9,340.3h0M867.0,342.4h0M867.1,340.3h0M867.3,340.0h0M867.4,338.0h0M867.5,345.0h0M867.7,341.4h0M867.8,343.1h0M867.9,339.2h0M868.1,345.1h0M868.2,340.6h0M868.3,337.2h0M868.5,335.3h0M868.6,329.0h0M868.7,329.4h0M868.9,329.7h0M869.0,326.1h0M869.1,336.3h0M869.3,329.5h0M869.4,324.4h0M869.5,326.2h0M869.7,333.3h0M869.8,333.8h0M869.9,336.4h0M870.1,327.6h0M870.2,327.1h0M870.3,323.9h0M870.5,319.5h0M870.6,325.1h0M870.7,324.2h0M870.9,321.8h0M871.0,328.3h0M871.1,319.6h0M871.3,318.5h0M871.4,321.6h0M871.5,322.7h0M871.7,318.3h0M871.8,326.3h0M871.9,327.0h0M872.1,320.8h0M872.2,318.3h0M872.3,315.7h0M872.5,315.4h0M872.6,320.0h0M872.7,314.6h0M872.9,315.2h0M873.0,317.7h0M873.1,311.4h0M873.3,317.2h0M873.4,314.4h0M873.5,319.8h0M873.7,311.5h0M873.8,310.2h0M873.9,314.1h0M874.1,309.1h0M874.2,306.4h0M874.3,304.6h0M874.5,307.5h0M874.6,308.3h0M874.7,307.8h0M874.9,301.0h0M875.0,301.8h0M875.1,301.9h0M875.3,302.6h0M875.4,295.6h0M875.5,296.6h0M875.7,300.1h0M875.8,298.9h0M875.9,299.5h0M876.1,295.7h0M876.2,296.0h0M876.3,292.5h0M876.4,289.5h0M876.6,284.7h0M876.7,292.1h0M876.8,285.4h0M877.0,287.0h0M877.1,283.9h0M877.2,287.8h0M877.4,283.0h0M877.5,280.3h0M877.6,277.2h0M877.8,282.9h0M877.9,280.7h0M878.0,279.1h0M878.2,280.0h0M878.3,274.0h0M878.4,272.4h0M878.6,271.5h0M878.7,274.8h0M878.8,277.7h0M879.0,277.8h0M879.1,278.1h0M879.2,283.3h0M879.4,286.7h0M879.5,283.8h0M879.6,288.2h0M879.8,290.3h0M879.9,289.3h0M880.0,289.7h0M880.1,293.4h0M880.3,298.9h0M880.4,293.2h0M880.5,294.9h0M880.7,299.3h0M880.8,298.2h0M880.9,298.8h0M877.1,308.2h0M877.2,311.9h0M877.3,310.9h0M877.5,298.8h0M877.6,302.9h0M877.7,309.6h0M877.9,304.6h0M878.0,307.3h0M878.1,312.1h0M878.3,309.1h0M878.4,306.1h0M878.6,306.4h0M878.7,311.1h0M878.8,305.6h0M879.0,311.5h0M879.1,308.9h0M879.2,315.1h0M879.4,301.2h0M879.5,309.1h0M879.6,311.1h0M879.8,310.1h0M879.9,312.5h0M880.0,314.0h0M880.2,306.3h0M880.3,314.5h0M880.4,308.3h0M880.6,319.7h0M880.7,316.9h0M880.9,315.6h0M881.0,311.2h0M881.1,315.0h0M881.3,317.3h0M881.4,316.7h0M881.5,309.1h0M881.7,306.5h0M881.8,310.3h0M881.9,321.5h0M882.1,320.1h0M882.2,313.8h0M882.4,317.4h0M882.5,322.8h0M882.6,324.6h0M882.8,331.2h0M882.9,336.9h0M883.1,322.6h0M883.2,328.0h0M883.3,331.0h0M883.5,323.7h0M883.6,320.8h0M883.7,321.5h0M883.9,320.7h0M884.0,320.5h0M884.1,326.4h0M884.3,323.2h0M884.4,322.6h0M884.5,321.2h0M884.7,313.2h0M884.8,314.5h0M884.9,309.4h0M885.1,309.9h0M885.2,314.3h0M885.3,314.9h0M885.5,315.5h0M885.6,318.2h0M885.7,311.5h0M885.9,307.1h0M886.0,313.9h0M886.1,318.2h0M886.3,316.5h0M886.4,309.7h0M886.5,310.6h0M886.7,314.2h0M886.8,316.8h0M886.9,310.7h0M887.1,305.3h0M887.2,306.4h0M887.3,307.1h0M887.5,312.3h0M887.6,312.8h0M887.7,310.1h0M887.9,310.9h0M888.0,314.2h0M888.1,303.5h0M888.3,299.0h0M888.4,303.7h0M888.5,301.6h0M888.7,306.7h0M888.8,303.5h0M888.9,299.5h0M889.1,295.0h0M889.2,296.3h0M889.3,295.8h0M889.5,292.3h0M889.6,289.6h0M889.8,287.2h0M889.9,287.6h0M890.0,288.1h0M890.2,288.4h0M890.3,289.1h0M890.4,283.7h0M890.6,281.1h0M890.7,284.5h0M890.8,290.8h0M891.0,289.5h0M891.1,285.1h0M891.2,287.8h0M891.4,290.0h0M891.5,290.5h0M891.6,287.0h0M891.8,285.9h0M891.9,293.6h0M892.0,297.1h0M892.1,297.6h0M892.3,291.5h0M892.4,294.6h0M892.5,298.8h0M892.7,299.8h0M892.8,297.8h0M892.9,303.5h0M891.5,331.0h0M893.1,309.5h0M893.2,296.8h0M893.3,305.8h0M893.5,302.4h0M893.6,307.2h0M893.7,303.8h0M893.9,308.2h0M894.0,316.5h0M894.1,309.7h0M894.3,310.6h0M894.4,305.9h0M894.5,313.8h0M894.7,317.8h0M894.8,320.1h0M895.0,307.8h0M895.1,306.9h0M895.2,314.6h0M895.4,316.0h0M895.5,322.4h0M895.6,319.5h0M895.8,321.5h0M895.9,312.9h0M896.0,307.6h0M896.2,306.1h0M896.3,307.9h0M896.4,321.4h0M896.6,310.4h0M896.7,307.3h0M896.8,316.1h0M897.0,309.4h0M897.1,307.8h0M897.2,307.4h0M897.4,321.2h0M897.5,324.9h0M897.6,319.1h0M897.8,325.6h0M897.9,317.8h0M898.0,320.4h0M898.2,313.0h0M898.3,319.4h0M898.5,316.3h0M898.6,317.9h0M898.7,314.1h0M898.9,316.9h0M899.0,307.7h0M899.1,304.0h0M899.3,302.9h0M899.4,313.6h0M899.5,310.2h0M899.7,320.3h0M899.8,320.5h0M899.9,324.5h0M900.1,315.0h0M900.2,316.9h0M900.3,315.3h0M900.5,317.8h0M900.6,316.8h0M900.7,310.4h0M900.9,316.3h0M901.0,316.0h0M901.1,312.8h0M901.3,308.5h0M901.4,310.7h0M901.5,306.8h0M901.7,309.6h0M901.8,313.5h0M901.9,320.0h0M902.1,314.5h0M902.2,305.5h0M902.3,313.4h0M902.5,315.2h0M902.6,316.0h0M902.7,314.5h0M902.9,318.1h0M903.0,314.5h0M903.1,310.6h0M903.3,310.1h0M903.4,311.6h0M903.5,320.9h0M903.7,321.1h0M903.8,314.1h0M903.9,321.6h0M904.1,317.5h0M904.2,318.9h0M904.3,319.8h0M904.5,310.6h0M904.6,306.0h0M904.7,314.9h0M904.9,314.0h0M905.0,319.2h0M905.1,314.0h0M905.3,316.6h0M905.4,304.0h0M905.5,302.4h0M905.7,301.6h0M905.8,314.8h0M905.9,311.7h0M906.1,309.7h0M906.2,310.4h0M906.3,316.1h0M906.5,305.8h0M906.6,304.9h0M906.7,312.6h0M906.9,311.3h0M907.0,306.2h0M907.1,317.9h0M907.3,321.1h0M907.4,308.5h0M907.5,312.6h0M907.7,307.2h0M907.8,308.1h0M907.9,317.7h0M908.1,316.8h0M908.2,316.5h0M908.3,324.2h0M908.5,311.3h0M908.6,310.0h0M908.7,309.2h0M908.9,321.4h0M909.0,322.0h0M909.1,323.7h0M909.3,317.6h0M909.4,319.3h0M909.5,322.7h0M909.7,312.9h0M909.8,308.2h0M910.0,307.5h0M910.1,311.4h0M910.2,322.2h0M910.4,317.6h0M910.5,318.9h0M910.6,318.8h0M910.8,314.3h0M910.9,312.5h0M911.0,316.6h0M911.2,319.0h0M911.3,312.7h0M911.4,323.1h0M911.6,320.1h0M911.7,314.4h0M911.8,320.5h0M912.0,324.4h0M912.1,322.4h0M912.2,320.7h0M912.4,316.3h0M912.5,312.1h0M912.6,311.1h0M912.8,309.7h0M912.9,314.5h0M913.0,321.1h0M913.2,318.5h0M913.3,329.6h0M913.5,319.9h0M913.6,318.3h0M913.7,311.7h0M913.9,315.5h0M914.0,318.6h0M914.1,314.7h0M914.3,315.3h0M914.4,319.5h0M914.5,317.7h0M914.7,311.9h0M914.8,323.0h0M914.9,320.8h0M915.1,313.2h0M915.2,310.9h0M915.3,310.5h0M915.5,311.7h0M915.6,311.3h0M915.7,300.8h0M915.9,301.8h0M916.0,300.5h0M916.1,295.6h0M916.3,298.0h0M916.4,294.8h0M916.5,292.2h0M916.7,284.8h0M916.8,283.7h0M916.9,287.9h0M917.1,283.4h0M917.2,289.7h0M917.3,294.2h0M917.5,294.5h0M917.6,295.6h0M917.7,295.4h0M917.9,300.5h0M918.0,297.0h0M918.1,298.6h0M918.3,306.3h0M918.4,310.1h0M918.5,310.1h0M918.7,316.5h0M918.8,318.4h0M918.9,314.0h0M919.1,293.5h0M919.2,288.6h0M919.3,291.6h0M919.5,293.6h0M919.6,296.2h0M919.7,297.9h0M919.9,298.1h0M920.0,294.1h0M920.1,301.8h0M920.3,300.8h0M920.4,297.4h0M920.5,299.5h0M920.7,293.9h0M920.8,290.7h0M920.9,291.5h0M921.1,300.0h0M921.2,303.7h0M921.3,301.2h0M921.5,291.3h0M921.6,304.2h0M921.7,296.2h0M921.9,296.3h0M922.0,292.4h0M922.1,292.0h0M922.3,289.3h0M922.4,284.7h0M922.5,295.7h0M922.7,292.2h0M922.8,285.8h0M922.9,295.7h0M923.1,295.8h0M923.2,287.1h0M923.3,287.3h0M923.5,284.4h0M923.6,287.6h0M923.7,280.6h0M923.9,277.3h0M924.0,274.0h0M924.1,269.7h0M924.3,276.3h0M924.4,272.2h0M924.5,272.2h0M924.7,265.7h0M924.8,267.1h0M924.9,265.2h0M925.1,268.9h0M925.2,268.8h0M925.3,261.7h0M925.5,270.4h0M925.6,263.7h0M925.7,262.9h0M925.9,271.9h0M926.0,264.4h0M926.1,268.3h0M926.2,268.6h0M926.4,265.5h0M926.5,265.9h0M926.6,266.5h0M926.8,269.5h0M926.9,274.5h0M927.0,266.1h0M927.2,265.7h0M927.3,274.8h0M927.4,278.5h0M926.5,260.0h0M927.5,249.0h0M927.5,239.0h0M927.5,229.0h0M926.5,222.0h0M927.0,215.0h0M928.0,207.0h0M929.1,217.6h0M929.2,201.6h0M929.3,203.7h0M929.5,202.2h0M929.6,197.0h0M929.8,203.3h0M929.9,200.7h0M930.0,208.9h0M930.2,214.8h0M930.3,210.7h0M930.4,207.1h0M930.6,214.7h0M930.7,215.4h0M930.8,208.7h0M931.0,196.4h0M931.1,197.0h0M931.2,196.3h0M931.4,192.2h0M931.5,191.1h0M931.7,190.4h0M931.8,189.5h0M931.9,201.8h0M932.1,200.6h0M932.2,195.0h0M932.3,205.7h0M932.5,194.6h0M932.6,195.1h0M932.7,201.8h0M932.9,195.1h0M933.0,191.5h0M933.1,197.0h0M933.3,192.3h0M933.4,191.6h0M933.5,185.8h0M933.7,184.1h0M933.8,192.0h0M933.9,185.1h0M933.6,184.7h0M934.1,191.3h0M934.2,194.4h0M934.3,190.8h0M934.5,189.9h0M934.6,195.4h0M934.8,190.2h0M934.9,189.9h0M935.0,191.0h0M935.2,190.3h0M935.3,189.9h0M935.4,188.4h0M935.6,190.3h0M935.7,189.0h0M935.8,190.7h0M936.0,194.4h0M936.1,197.0h0M936.3,191.4h0M936.4,190.8h0M936.5,188.5h0M934.1,197.5h0M934.2,206.4h0M934.3,206.9h0M934.5,197.2h0M934.6,204.2h0M934.7,202.1h0M934.9,211.0h0M935.0,204.2h0M935.1,208.3h0M935.3,202.9h0M935.4,206.5h0M935.6,208.9h0M935.7,207.1h0M935.8,215.0h0M936.0,225.5h0M936.1,212.0h0M936.2,204.8h0M937.0,223.0h0M936.0,217.0h0M934.0,215.0h0M938.0,213.0h0" stroke="#000" stroke-width="5.5" stroke-linecap="round" fill="none"/>
<path d="M120.5,294.2 121.0,294.2 121.5,293.8 122.0,294.6 122.5,295.8 123.0,296.9 123.5,297.8 124.0,299.0 124.5,300.6 125.0,302.5 125.5,304.6 126.0,305.8 126.5,306.5 127.0,307.8 127.5,307.5 128.0,306.4 128.5,305.1 129.0,304.4 129.5,305.5 130.0,307.3 130.5,309.6 131.0,307.4 131.5,308.2 132.0,311.9 132.5,315.0 133.0,316.8 133.5,318.7 134.0,320.5 134.5,321.5 135.0,320.2 135.5,321.5 136.0,326.1 136.5,330.4 137.0,333.7 137.5,336.6 138.0,339.4 138.5,342.4 139.0,345.4 139.5,347.7 140.0,350.0 140.5,352.9 141.0,355.5 141.5,357.2 142.0,359.4 142.5,362.3 143.0,364.9 143.5,367.2 144.0,369.2 144.5,370.7 145.0,373.6 145.5,377.5 146.0,379.7 146.5,382.9 147.0,387.5 147.5,393.7 148.0,397.2 148.5,395.3 149.0,395.7 149.5,396.8 150.0,398.3 150.5,399.3 151.0,400.1 151.5,401.0 152.0,402.2 152.5,403.1 153.0,403.5 153.5,405.2 154.0,408.2 154.5,409.2 155.0,408.5 155.5,409.5 156.0,411.3 156.5,412.7 157.0,414.2 157.5,413.5 158.0,412.4 158.5,413.5 159.0,414.6 159.5,415.1 160.0,415.3 160.5,412.6 161.0,410.7 161.5,410.4 162.0,410.1 162.5,409.6 163.0,407.6 163.5,408.2 164.0,412.5 164.5,416.2 165.0,417.8 165.5,419.0 166.0,419.8 166.5,420.5 167.0,422.4 167.5,424.5 168.0,425.0 168.5,424.8 169.0,423.5 169.5,425.6 170.0,431.1 170.5,434.8 171.0,436.6 171.5,438.4 172.0,440.5 172.5,442.6 173.0,444.7 173.5,445.4 174.0,445.7 174.5,446.4 175.0,447.2 175.5,445.9 176.0,444.4 176.5,445.0 177.0,445.8 177.5,444.5 178.0,443.2 178.5,443.2 179.0,443.0 179.5,442.2 180.0,441.8 180.5,441.9 181.0,442.9 181.5,444.0 182.0,443.0 182.5,441.5 183.0,439.3 183.5,436.0 184.0,434.6 184.5,434.2 185.0,434.3 185.5,434.6 186.0,434.6 186.5,434.5 187.0,433.2 187.5,432.8 188.0,431.9 188.5,428.1 189.0,425.2 189.5,424.3 190.0,425.3 190.5,425.2 191.0,423.4 191.5,421.9 192.0,420.6 192.5,420.4 193.0,420.8 193.5,420.3 194.0,419.4 194.5,417.9 195.0,415.1 195.5,410.9 196.0,406.8 196.5,402.8 197.0,400.1 197.5,401.0 198.0,402.7 198.5,399.8 199.0,397.9 199.5,397.3 200.0,396.7 200.5,396.6 201.0,395.7 201.5,394.1 202.0,393.9 202.5,393.7 203.0,392.8 203.5,394.4 204.0,395.6 204.5,396.1 205.0,394.9 205.5,393.6 206.0,394.9 206.5,396.2 207.0,397.5 207.5,398.4 208.0,396.9 208.5,395.5 209.0,396.1 209.5,396.6 210.0,396.9 210.5,396.0 211.0,393.9 211.5,394.0 212.0,395.5 212.5,395.3 213.0,394.4 213.5,393.6 214.0,392.9 214.5,393.1 215.0,394.8 215.5,395.8 216.0,394.0 216.5,391.3 217.0,389.8 217.5,389.2 218.0,388.1 218.5,385.6 219.0,383.7 219.5,382.6 220.0,382.0 220.5,382.1 221.0,381.7 221.5,381.9 222.0,380.8 222.5,377.4 223.0,376.7 223.5,377.0 224.0,376.6 224.5,375.9 225.0,373.5 225.5,371.3 226.0,369.6 226.5,368.2 227.0,368.1 227.5,367.6 228.0,366.6 228.5,365.5 229.0,361.9 229.5,358.3 230.0,355.3 230.5,350.5 231.0,348.0 231.5,349.9 232.0,351.9 232.5,348.8 233.0,346.8 233.5,346.8 234.0,347.0 234.5,347.3 235.0,347.5 235.5,347.0 236.0,345.3 236.5,342.3 237.0,341.6 237.5,344.5 238.0,346.3 238.5,347.2 239.0,348.2 239.5,349.2 240.0,350.4 240.5,350.0 241.0,349.1 241.5,347.9 242.0,347.4 242.5,347.0 243.0,346.5 243.5,346.3 244.0,345.6 244.5,344.9 245.0,345.0 245.5,345.0 246.0,344.4 246.5,344.2 247.0,344.8 247.5,344.6 248.0,343.1 248.5,342.0 249.0,342.6 249.5,341.2 250.0,338.5 250.5,337.3 251.0,336.7 251.5,336.4 252.0,336.1 252.5,334.8 253.0,333.2 253.5,333.1 254.0,332.9 254.5,333.4 255.0,333.9 255.5,333.7 256.0,331.9 256.5,332.3 257.0,333.9 257.5,335.8 258.0,337.4 258.5,337.2 259.0,336.8 259.5,336.4 260.0,335.7 260.5,334.9 261.0,335.1 261.5,335.5 262.0,335.1 262.5,334.1 263.0,331.3 263.5,328.7 264.0,328.4 264.5,328.1 265.0,328.1 265.5,329.8 266.0,328.9 266.5,328.6 267.0,329.8 267.5,330.9 268.0,331.7 268.5,333.4 269.0,335.1 269.5,335.0 270.0,332.9 270.5,333.8 271.0,338.6 271.5,343.1 272.0,346.3 272.5,345.7 273.0,345.3 273.5,346.9 274.0,348.6 274.5,350.1 275.0,351.5 275.5,352.3 276.0,353.3 276.5,354.3 277.0,354.1 277.5,352.5 278.0,352.8 278.5,354.4 279.0,355.3 279.5,355.9 280.0,357.1 280.5,359.9 281.0,362.4 281.5,364.9 282.0,364.7 282.5,366.1 283.0,372.4 283.5,373.1 284.0,370.5 284.5,370.1 285.0,372.0 285.5,372.8 286.0,371.8 286.5,372.1 287.0,373.8 287.5,375.1 288.0,376.4 288.5,377.2 289.0,378.9 289.5,380.9 290.0,380.3 290.5,380.7 291.0,382.0 291.5,382.6 292.0,383.2 292.5,384.0 293.0,385.1 293.5,385.3 294.0,385.1 294.5,383.9 295.0,382.5 295.5,380.7 296.0,380.4 296.5,381.6 297.0,380.0 297.5,378.5 298.0,379.8 298.5,382.5 299.0,384.4 299.5,385.9 300.0,385.3 300.5,386.4 301.0,388.1 301.5,389.6 302.0,390.6 302.5,391.6 303.0,393.0 303.5,393.0 304.0,390.5 304.5,390.6 305.0,394.1 305.5,397.3 306.0,400.2 306.5,403.2 307.0,405.1 307.5,407.7 308.0,410.7 308.5,411.7 309.0,412.6 309.5,415.5 310.0,418.6 310.5,419.5 311.0,420.5 311.5,422.3 312.0,423.6 312.5,423.6 313.0,424.2 313.5,426.5 314.0,428.2 314.5,429.0 315.0,430.9 315.5,433.9 316.0,436.9 316.5,439.6 317.0,439.3 317.5,436.0 318.0,436.7 318.5,438.7 319.0,438.9 319.5,438.9 320.0,438.5 320.5,438.5 321.0,438.2 321.5,438.6 322.0,441.9 322.5,444.8 323.0,446.6 323.5,446.3 324.0,445.1 324.5,445.7 325.0,447.2 325.5,447.8 326.0,448.0 326.5,448.8 327.0,449.8 327.5,448.8 328.0,447.3 328.5,448.7 329.0,450.5 329.5,451.0 330.0,451.3 330.5,449.6 331.0,447.6 331.5,444.7 332.0,442.1 332.5,442.6 333.0,445.3 333.5,446.4 334.0,445.9 334.5,445.7 335.0,446.0 335.5,446.6 336.0,447.8 336.5,450.0 337.0,450.3 337.5,448.9 338.0,447.0 338.5,448.1 339.0,452.9 339.5,456.0 340.0,456.4 340.5,456.2 341.0,458.3 341.5,459.7 342.0,459.6 342.5,459.4 343.0,459.0 343.5,459.2 344.0,459.8 344.5,461.0 345.0,462.2 345.5,462.6 346.0,462.7 346.5,463.9 347.0,465.4 347.5,465.2 348.0,464.9 348.5,466.2 349.0,467.4 349.5,468.3 350.0,470.1 350.5,472.5 351.0,471.5 351.5,467.5 352.0,465.9 352.5,466.1 353.0,464.9 353.5,462.1 354.0,460.9 354.5,461.6 355.0,461.4 355.5,461.0 356.0,462.8 356.5,466.4 357.0,466.7 357.5,463.7 358.0,463.4 358.5,463.5 359.0,462.8 359.5,462.3 360.0,461.9 360.5,461.3 361.0,460.5 361.5,460.0 362.0,460.0 362.5,460.3 363.0,460.9 363.5,460.1 364.0,457.4 364.5,454.4 365.0,452.0 365.5,449.5 366.0,448.3 366.5,448.4 367.0,449.2 367.5,446.6 368.0,445.4 368.5,445.9 369.0,446.5 369.5,448.9 370.0,450.5 370.5,449.9 371.0,449.6 371.5,449.5 372.0,450.9 372.5,455.0 373.0,457.7 373.5,458.7 374.0,459.2 374.5,459.5 375.0,460.7 375.5,462.1 376.0,462.7 376.5,462.6 377.0,462.0 377.5,461.6 378.0,461.7 378.5,462.0 379.0,463.0 379.5,464.1 380.0,465.6 380.5,466.4 381.0,466.0 381.5,466.0 382.0,466.4 382.5,467.0 383.0,467.7 383.5,468.4 384.0,470.2 384.5,471.0 385.0,469.5 385.5,467.4 386.0,466.0 386.5,466.4 387.0,466.5 387.5,464.0 388.0,462.3 388.5,463.9 389.0,464.7 389.5,463.8 390.0,463.4 390.5,464.1 391.0,464.5 391.5,464.1 392.0,463.6 392.5,462.2 393.0,460.4 393.5,458.5 394.0,458.3 394.5,458.6 395.0,458.8 395.5,458.9 396.0,457.8 396.5,456.8 397.0,457.0 397.5,457.0 398.0,453.6 398.5,449.9 399.0,446.1 399.5,442.2 400.0,441.7 400.5,443.6 401.0,444.3 401.5,442.6 402.0,442.0 402.5,441.8 403.0,441.6 403.5,440.2 404.0,438.4 404.5,441.7 405.0,444.2 405.5,444.2 406.0,446.8 406.5,449.7 407.0,451.5 407.5,451.6 408.0,452.1 408.5,453.8 409.0,453.9 409.5,451.5 410.0,451.1 410.5,452.7 411.0,454.2 411.5,455.6 412.0,454.5 412.5,452.4 413.0,453.0 413.5,454.3 414.0,455.3 414.5,456.3 415.0,455.1 415.5,454.1 416.0,454.7 416.5,455.3 417.0,455.7 417.5,456.5 418.0,457.4 418.5,455.6 419.0,453.8 419.5,453.2 420.0,452.8 420.5,452.5 421.0,452.2 421.5,451.3 422.0,450.1 422.5,449.5 423.0,449.0 423.5,448.2 424.0,448.4 424.5,450.2 425.0,449.1 425.5,448.1 426.0,448.1 426.5,446.8 427.0,445.5 427.5,444.1 428.0,442.9 428.5,442.2 429.0,442.7 429.5,444.3 430.0,443.9 430.5,442.2 431.0,440.9 431.5,439.2 432.0,434.5 432.5,429.4 433.0,428.3 433.5,428.5 434.0,428.8 434.5,430.6 435.0,429.8 435.5,429.3 436.0,428.3 436.5,427.5 437.0,427.1 437.5,428.4 438.0,430.1 438.5,430.2 439.0,427.8 439.5,428.4 440.0,433.6 440.5,435.8 441.0,436.0 441.5,435.6 442.0,435.2 442.5,436.6 443.0,438.2 443.5,438.8 444.0,439.1 444.5,437.2 445.0,435.8 445.5,436.5 446.0,437.3 446.5,438.2 447.0,438.8 447.5,439.0 448.0,439.0 448.5,438.9 449.0,438.7 449.5,438.6 450.0,440.2 450.5,442.0 451.0,441.8 451.5,442.2 452.0,441.8 452.5,438.2 453.0,436.7 453.5,436.4 454.0,438.1 454.5,439.4 455.0,438.6 455.5,438.2 456.0,438.4 456.5,438.2 457.0,437.2 457.5,436.4 458.0,436.7 458.5,437.0 459.0,435.6 459.5,433.6 460.0,431.5 460.5,431.3 461.0,431.5 461.5,431.4 462.0,431.2 462.5,430.9 463.0,430.4 463.5,428.9 464.0,427.6 464.5,427.3 465.0,427.0 465.5,424.8 466.0,421.6 466.5,418.2 467.0,414.8 467.5,414.2 468.0,415.5 468.5,416.1 469.0,413.9 469.5,413.4 470.0,414.0 470.5,414.9 471.0,414.6 471.5,415.6 472.0,416.3 472.5,416.1 473.0,415.5 473.5,417.3 474.0,421.5 474.5,423.1 475.0,423.4 475.5,423.7 476.0,424.1 476.5,424.4 477.0,424.5 477.5,424.8 478.0,425.2 478.5,425.2 479.0,425.2 479.5,424.7 480.0,424.1 480.5,425.2 481.0,426.5 481.5,427.1 482.0,427.7 482.5,427.4 483.0,427.1 483.5,426.9 484.0,426.9 484.5,426.7 485.0,426.6 485.5,426.9 486.0,425.4 486.5,422.3 487.0,421.6 487.5,422.3 488.0,421.6 488.5,420.7 489.0,421.2 489.5,422.1 490.0,420.8 490.5,419.3 491.0,418.1 491.5,417.9 492.0,420.6 492.5,420.8 493.0,420.7 493.5,420.9 494.0,419.3 494.5,418.0 495.0,417.1 495.5,416.7 496.0,416.8 496.5,416.8 497.0,417.0 497.5,416.5 498.0,415.8 498.5,414.8 499.0,413.5 499.5,410.9 500.0,408.4 500.5,404.5 501.0,401.1 501.5,401.1 502.0,402.8 502.5,402.3 503.0,401.7 503.5,402.4 504.0,402.8 504.5,402.4 505.0,402.3 505.5,403.4 506.0,403.3 506.5,401.3 507.0,400.7 507.5,404.0 508.0,407.7 508.5,409.3 509.0,409.3 509.5,409.1 510.0,410.5 510.5,411.9 511.0,412.0 511.5,412.3 512.0,413.0 512.5,413.3 513.0,412.9 513.5,413.5 514.0,415.7 514.5,416.5 515.0,416.0 515.5,415.3 516.0,414.7 516.5,414.9 517.0,415.4 517.5,417.2 518.0,419.2 518.5,417.3 519.0,416.2 519.5,418.3 520.0,417.3 520.5,415.6 521.0,414.9 521.5,413.9 522.0,412.8 522.5,411.8 523.0,411.6 523.5,412.4 524.0,412.8 524.5,412.8 525.0,413.3 525.5,415.2 526.0,416.3 526.5,413.7 527.0,411.5 527.5,410.2 528.0,410.0 528.5,410.0 529.0,409.1 529.5,408.3 530.0,407.5 530.5,406.4 531.0,405.4 531.5,404.4 532.0,403.4 532.5,402.7 533.0,401.5 533.5,398.7 534.0,395.0 534.5,392.2 535.0,391.4 535.5,393.0 536.0,394.9 536.5,392.3 537.0,391.0 537.5,391.6 538.0,392.4 538.5,392.5 539.0,392.8 539.5,394.8 540.0,395.9 540.5,395.7 541.0,397.0 541.5,400.0 542.0,402.0 542.5,402.6 543.0,403.2 543.5,403.9 544.0,404.2 544.5,403.6 545.0,405.0 545.5,407.4 546.0,407.3 546.5,406.6 547.0,407.0 547.5,407.6 548.0,406.4 548.5,405.4 549.0,406.0 549.5,406.4 550.0,405.4 550.5,405.0 551.0,406.5 551.5,407.5 552.0,407.4 552.5,406.7 553.0,406.4 553.5,406.6 554.0,405.8 554.5,405.5 555.0,405.7 555.5,404.4 556.0,402.7 556.5,402.4 557.0,402.2 557.5,402.6 558.0,403.0 558.5,403.3 559.0,404.0 559.5,405.3 560.0,404.9 560.5,403.5 561.0,403.1 561.5,402.8 562.0,402.5 562.5,402.2 563.0,401.9 563.5,401.4 564.0,401.3 564.5,400.8 565.0,399.7 565.5,398.5 566.0,395.9 566.5,393.2 567.0,390.6 567.5,387.9 568.0,384.3 568.5,380.8 569.0,380.9 569.5,382.9 570.0,383.1 570.5,383.0 571.0,384.0 571.5,385.2 572.0,386.5 572.5,386.8 573.0,386.3 573.5,386.3 574.0,385.5 574.5,384.7 575.0,387.0 575.5,389.6 576.0,390.7 576.5,391.2 577.0,391.6 577.5,391.8 578.0,391.8 578.5,391.3 579.0,391.3 579.5,392.3 580.0,392.8 580.5,392.6 581.0,392.3 581.5,392.0 582.0,391.6 582.5,391.3 583.0,391.5 583.5,392.0 584.0,390.7 584.5,389.1 585.0,390.0 585.5,391.3 586.0,392.2 586.5,393.8 587.0,394.6 587.5,393.2 588.0,392.8 588.5,392.5 589.0,391.7 589.5,390.5 590.0,388.7 590.5,387.8 591.0,387.9 591.5,387.4 592.0,386.6 592.5,386.6 593.0,387.9 593.5,389.2 594.0,387.3 594.5,385.1 595.0,384.0 595.5,382.9 596.0,381.9 596.5,381.7 597.0,381.3 597.5,380.6 598.0,380.1 598.5,379.9 599.0,379.3 599.5,378.3 600.0,377.0 600.5,374.4 601.0,370.1 601.5,366.0 602.0,362.6 602.5,361.0 603.0,361.6 603.5,363.0 604.0,360.9 604.5,359.8 605.0,360.4 605.5,360.9 606.0,360.6 606.5,361.6 607.0,363.1 607.5,364.0 608.0,363.3 608.5,363.3 609.0,365.9 609.5,368.6 610.0,371.3 610.5,371.4 611.0,370.1 611.5,370.8 612.0,372.2 612.5,371.8 613.0,371.1 613.5,371.5 614.0,372.1 614.5,369.6 615.0,367.5 615.5,368.6 616.0,369.5 616.5,370.1 617.0,370.6 617.5,370.7 618.0,371.3 618.5,372.1 619.0,371.6 619.5,369.9 620.0,369.6 620.5,371.5 621.0,372.1 621.5,369.5 622.0,368.2 622.5,367.7 623.0,367.0 623.5,366.2 624.0,365.2 624.5,364.3 625.0,364.3 625.5,363.9 626.0,362.4 626.5,361.9 627.0,364.7 627.5,364.7 628.0,360.7 628.5,359.0 629.0,359.2 629.5,359.7 630.0,360.4 630.5,358.6 631.0,355.9 631.5,354.7 632.0,353.8 632.5,353.5 633.0,353.2 633.5,351.4 634.0,349.5 634.5,346.9 635.0,344.2 635.5,342.6 636.0,340.8 636.5,340.7 637.0,342.4 637.5,342.9 638.0,340.6 638.5,339.4 639.0,340.0 639.5,341.8 640.0,342.2 640.5,343.0 641.0,342.7 641.5,341.1 642.0,339.8 642.5,341.2 643.0,343.8 643.5,344.8 644.0,346.5 644.5,347.5 645.0,346.4 645.5,346.0 646.0,347.3 646.5,346.3 647.0,344.3 647.5,342.6 648.0,341.2 648.5,340.4 649.0,340.1 649.5,339.5 650.0,338.6 650.5,336.8 651.0,334.7 651.5,333.0 652.0,331.3 652.5,331.1 653.0,330.8 653.5,329.1 654.0,328.2 654.5,329.1 655.0,327.9 655.5,325.7 656.0,324.3 656.5,322.7 657.0,320.7 657.5,318.3 658.0,317.7 658.5,318.3 659.0,316.5 659.5,313.6 660.0,312.5 660.5,312.6 661.0,312.1 661.5,308.5 662.0,305.9 662.5,304.3 663.0,301.7 663.5,299.7 664.0,300.6 664.5,300.9 665.0,299.3 665.5,297.1 666.0,294.0 666.5,291.7 667.0,290.2 667.5,288.8 668.0,286.4 668.5,282.1 669.0,278.4 669.5,272.4 670.0,267.0 670.5,267.3 671.0,269.3 671.5,268.5 672.0,268.1 672.5,269.0 673.0,269.7 673.5,270.4 674.0,271.5 674.5,273.5 675.0,274.4 675.5,272.8 676.0,272.6 676.5,276.1 677.0,279.3 677.5,280.8 678.0,281.8 678.5,282.8 679.0,283.2 679.5,283.6 680.0,284.0 680.5,284.3 681.0,285.9 681.5,287.3 682.0,287.7 682.5,288.2 683.0,290.1 683.5,291.4 684.0,291.3 684.5,291.3 685.0,291.2 685.5,291.2 686.0,291.5 686.5,292.1 687.0,292.8 687.5,293.7 688.0,295.7 688.5,298.3 689.0,297.9 689.5,296.8 690.0,296.7 690.5,296.5 691.0,296.3 691.5,296.0 692.0,295.9 692.5,297.2 693.0,297.7 693.5,296.0 694.0,295.6 694.5,298.0 695.0,300.4 695.5,300.7 696.0,298.8 696.5,295.0 697.0,294.2 697.5,294.6 698.0,294.7 698.5,294.6 699.0,294.2 699.5,293.6 700.0,293.3 700.5,292.9 701.0,292.0 701.5,291.2 702.0,289.5 702.5,286.8 703.0,283.6 703.5,280.7 704.0,280.2 704.5,280.6 705.0,279.8 705.5,277.4 706.0,277.6 706.5,279.6 707.0,281.5 707.5,282.4 708.0,283.1 708.5,284.2 709.0,284.4 709.5,284.8 710.0,287.1 710.5,290.0 711.0,292.1 711.5,294.7 712.0,296.8 712.5,297.4 713.0,297.8 713.5,298.0 714.0,298.5 714.5,299.1 715.0,299.4 715.5,299.5 716.0,299.2 716.5,299.0 717.0,300.2 717.5,301.7 718.0,302.8 718.5,303.7 719.0,303.7 719.5,303.7 720.0,304.6 720.5,305.6 721.0,306.9 721.5,308.1 722.0,309.5 722.5,310.0 723.0,309.7 723.5,310.7 724.0,312.1 724.5,311.2 725.0,309.3 725.5,308.9 726.0,309.1 726.5,308.8 727.0,308.3 727.5,309.2 728.0,310.9 728.5,312.4 729.0,311.7 729.5,310.8 730.0,311.0 730.5,310.4 731.0,310.2 731.5,311.2 732.0,312.0 732.5,311.9 733.0,311.3 733.5,310.0 734.0,310.8 734.5,313.0 735.0,313.3 735.5,312.7 736.0,308.6 736.5,304.2 737.0,302.9 737.5,302.3 738.0,302.2 738.5,303.9 739.0,303.7 739.5,302.9 740.0,303.0 740.5,302.9 741.0,301.8 741.5,302.9 742.0,305.3 742.5,307.4 743.0,308.4 743.5,307.6 744.0,309.0 744.5,312.5 745.0,315.0 745.5,317.0 746.0,318.9 746.5,321.2 747.0,323.4 747.5,325.6 748.0,327.9 748.5,330.0 749.0,331.7 749.5,332.0 750.0,332.5 750.5,333.2 751.0,334.5 751.5,336.6 752.0,337.2 752.5,336.1 753.0,336.1 753.5,336.8 754.0,338.1 754.5,339.7 755.0,340.8 755.5,342.5 756.0,343.7 756.5,341.9 757.0,340.8 757.5,341.1 758.0,342.6 758.5,343.9 759.0,344.3 759.5,344.5 760.0,343.9 760.5,343.8 761.0,344.8 761.5,345.5 762.0,346.9 762.5,348.7 763.0,347.9 763.5,346.9 764.0,346.5 764.5,346.7 765.0,346.9 765.5,346.5 766.0,346.1 766.5,346.8 767.0,347.5 767.5,347.5 768.0,347.2 768.5,345.7 769.0,344.9 769.5,344.9 770.0,343.4 770.5,340.8 771.0,339.1 771.5,338.6 772.0,339.4 772.5,340.9 773.0,338.9 773.5,340.2 774.0,340.6 774.5,340.6 775.0,342.0 775.5,343.6 776.0,345.0 776.5,344.6 777.0,341.6 777.5,340.6 778.0,344.1 778.5,346.5 779.0,346.6 779.5,347.0 780.0,348.1 780.5,348.2 781.0,347.3 781.5,346.8 782.0,346.4 782.5,347.4 783.0,349.0 783.5,349.6 784.0,349.9 784.5,349.6 785.0,349.3 785.5,350.1 786.0,350.7 786.5,349.7 787.0,348.8 787.5,348.4 788.0,348.2 788.5,348.8 789.0,348.9 789.5,349.0 790.0,349.1 790.5,347.5 791.0,346.9 791.5,346.9 792.0,347.2 792.5,347.5 793.0,346.7 793.5,345.8 794.0,345.7 794.5,345.7 795.0,344.8 795.5,344.3 796.0,346.4 796.5,346.6 797.0,345.1 797.5,344.2 798.0,342.1 798.5,341.4 799.0,343.0 799.5,342.5 800.0,340.0 800.5,338.5 801.0,338.1 801.5,337.4 802.0,336.6 802.5,336.2 803.0,335.9 803.5,331.9 804.0,327.6 804.5,324.2 805.0,321.0 805.5,322.9 806.0,326.3 806.5,326.4 807.0,324.9 807.5,324.8 808.0,325.4 808.5,327.7 809.0,328.6 809.5,327.9 810.0,328.0 810.5,327.6 811.0,326.8 811.5,328.5 812.0,331.0 812.5,331.9 813.0,333.3 813.5,334.7 814.0,333.2 814.5,331.9 815.0,333.0 815.5,333.2 816.0,331.2 816.5,330.7 817.0,333.7 817.5,335.2 818.0,334.5 818.5,334.7 819.0,335.6 819.5,336.6 820.0,337.5 820.5,336.4 821.0,334.5 821.5,333.7 822.0,333.1 822.5,332.6 823.0,332.9 823.5,334.2 824.0,332.8 824.5,330.9 825.0,330.4 825.5,330.8 826.0,330.9 826.5,330.1 827.0,329.5 827.5,329.1 828.0,328.6 828.5,328.0 829.0,328.2 829.5,329.7 830.0,331.0 830.5,328.9 831.0,326.5 831.5,325.4 832.0,325.3 832.5,325.4 833.0,324.3 833.5,323.2 834.0,322.0 834.5,321.4 835.0,322.6 835.5,323.0 836.0,321.7 836.5,320.3 837.0,317.7 837.5,314.3 838.0,312.2 838.5,308.9 839.0,306.0 839.5,305.3 840.0,305.7 840.5,305.7 841.0,307.2 841.5,306.8 842.0,306.1 842.5,306.6 843.0,307.1 843.5,307.6 844.0,307.5 844.5,306.2 845.0,305.6 845.5,307.5 846.0,310.3 846.5,312.9 847.0,313.9 847.5,313.8 848.0,313.9 848.5,314.2 849.0,314.9 849.5,315.9 850.0,316.3 850.5,316.2 851.0,316.7 851.5,317.2 852.0,316.6 852.5,316.0 853.0,316.4 853.5,316.4 854.0,315.0 854.5,314.5 855.0,315.7 855.5,317.3 856.0,318.5 856.5,319.9 857.0,322.4 857.5,323.5 858.0,321.1 858.5,319.0 859.0,318.3 859.5,318.5 860.0,318.9 860.5,317.1 861.0,315.1 861.5,315.1 862.0,315.0 862.5,315.2 863.0,315.4 863.5,315.6 864.0,315.1 864.5,313.5 865.0,312.1 865.5,310.2 866.0,309.4 866.5,309.4 867.0,308.9 867.5,308.1 868.0,307.5 868.5,307.0 869.0,306.9 869.5,307.0 870.0,307.2 870.5,307.4 871.0,302.4 871.5,296.9 872.0,293.3 872.5,289.9 873.0,289.6 873.5,291.0 874.0,290.3 874.5,288.0 875.0,288.6 875.5,288.9 876.0,288.7 876.5,289.1 877.0,289.1 877.5,289.8 878.0,289.9 878.5,287.3 879.0,286.7 879.5,291.3 880.0,294.8 880.5,294.4 881.0,294.0 881.5,295.6 882.0,297.1 882.5,297.3 883.0,297.6 883.5,297.8 884.0,298.3 884.5,299.3 885.0,299.6 885.5,299.2 886.0,298.9 886.5,299.0 887.0,299.7 887.5,300.7 888.0,301.8 888.5,302.9 889.0,302.3 889.5,301.6 890.0,302.3 890.5,302.7 891.0,304.8 891.5,304.4 892.0,301.4 892.5,299.6 893.0,298.0 893.5,297.9 894.0,299.9 894.5,300.6 895.0,299.9 895.5,297.6 896.0,294.3 896.5,293.9 897.0,295.7 897.5,297.6 898.0,296.5 898.5,294.7 899.0,294.3 899.5,293.6 900.0,292.8 900.5,291.7 901.0,290.5 901.5,289.5 902.0,288.9 902.5,288.8 903.0,288.7 903.5,288.4 904.0,287.2 904.5,284.3 905.0,279.8 905.5,275.9 906.0,272.5 906.5,270.0 907.0,269.6 907.5,270.4 908.0,270.2 908.5,270.4 909.0,270.3 909.5,270.4 910.0,271.1 910.5,272.3 911.0,272.3 911.5,272.1 912.0,270.9 912.5,270.2 913.0,272.9 913.5,275.9 914.0,277.5 914.5,278.2 915.0,278.6 915.5,279.6 916.0,280.9 916.5,281.5 917.0,282.2 917.5,282.6 918.0,283.0 918.5,283.5 919.0,283.8 919.5,282.2 920.0,281.0 920.5,281.7 921.0,281.8 921.5,280.7 922.0,281.5 922.5,284.8 923.0,285.8 923.5,284.4 924.0,284.5 924.5,285.6 925.0,287.0 925.5,285.3 926.0,282.3 926.5,280.2 927.0,280.6 927.5,281.2 928.0,280.3 928.5,279.6 929.0,278.1 929.5,277.2 930.0,278.4 930.5,279.6 931.0,281.6 931.5,281.9 932.0,277.8 932.5,275.8 933.0,276.8 933.5,276.6 934.0,275.4 934.5,274.6 935.0,274.1 935.5,273.3 936.0,272.6 936.5,272.3 937.0,272.1 937.5,270.2 938.0,268.6 938.5,268.5 938.5,268.0 938.6,326.0 938.7,252.3 938.8,252.6 938.9,251.9 939.0,253.0 939.1,311.3 939.2,312.8 939.2,252.9 939.3,252.3 939.4,253.7 939.5,255.8 939.6,251.8 939.7,312.2 939.8,312.8 939.9,253.9 940.0,253.5 940.1,252.2 940.2,254.1 940.3,252.9 940.4,310.3 940.5,312.7 940.5,252.3 940.6,255.6 940.7,252.3 940.8,252.9 940.9,252.3 941.0,313.3 941.1,312.7 941.2,252.9 941.3,252.8 941.4,252.4 941.5,252.5 941.6,252.9 941.7,312.4 941.7,311.8 941.8,253.2 941.9,254.6 942.0,251.6 942.1,252.3 942.2,254.1 942.3,310.9 942.4,312.9 942.5,251.9 942.6,254.1 942.7,253.1 942.8,253.1 942.9,253.1 942.9,312.8 943.0,312.3 943.1,253.2 943.2,253.8 943.3,254.8 943.4,254.5 943.5,252.8 943.6,311.9 943.7,311.8 943.8,252.1 943.9,253.6 944.0,254.2 944.1,253.3 944.1,253.6 944.2,311.7 944.3,311.5 944.4,254.2 944.5,254.8" fill="none" stroke="#0072B2" stroke-width="2.3" stroke-linejoin="round" stroke-linecap="butt"/>
<path d="M940.5,181.0h0M941.8,184.5h0M939.6,200.0h0M940.6,202.5h0M939.2,207.6h0M939.2,212.4h0" stroke="#f00" stroke-width="6" stroke-linecap="round" fill="none"/>
<path d="M939.3,212.5h0" stroke="#d80000" stroke-width="6" stroke-linecap="round" fill="none"/>
<path d="M79.5,506.5h-5.4M79.5,414.5h-5.4M79.5,321.5h-5.4M79.5,229.5h-5.4M79.5,137.5h-5.4M79.5,44.5h-5.4M94.5,542.5v4.9M229.5,542.5v4.9M364.5,542.5v4.9M499.5,542.5v4.9M634.5,542.5v4.9M770.5,542.5v4.9M905.5,542.5v4.9" stroke="#000" stroke-width="1" fill="none" shape-rendering="crispEdges"/>
<rect x="79.5" y="15.5" width="906.0" height="527.0" fill="none" stroke="#000" stroke-width="1" shape-rendering="crispEdges"/>
<text x="69.2" y="511.9" text-anchor="end">0</text><text x="69.2" y="419.5" text-anchor="end">200</text><text x="69.2" y="327.0" text-anchor="end">400</text><text x="69.2" y="234.6" text-anchor="end">600</text><text x="69.2" y="142.1" text-anchor="end">800</text><text x="69.2" y="49.7" text-anchor="end">1000</text>
<text x="75.8" y="561.7">2001</text><text x="210.8" y="561.7">2005</text><text x="345.8" y="561.7">2009</text><text x="481.8" y="561.7">2013</text><text x="616.8" y="561.7">2017</text><text x="751.8" y="561.7">2021</text><text x="886.8" y="561.7">2025</text>
<text x="532.5" y="581.5" text-anchor="middle">ds</text>
<text transform="translate(24.5,279) rotate(-90)" text-anchor="middle">y</text>
</svg>
</body></html>
